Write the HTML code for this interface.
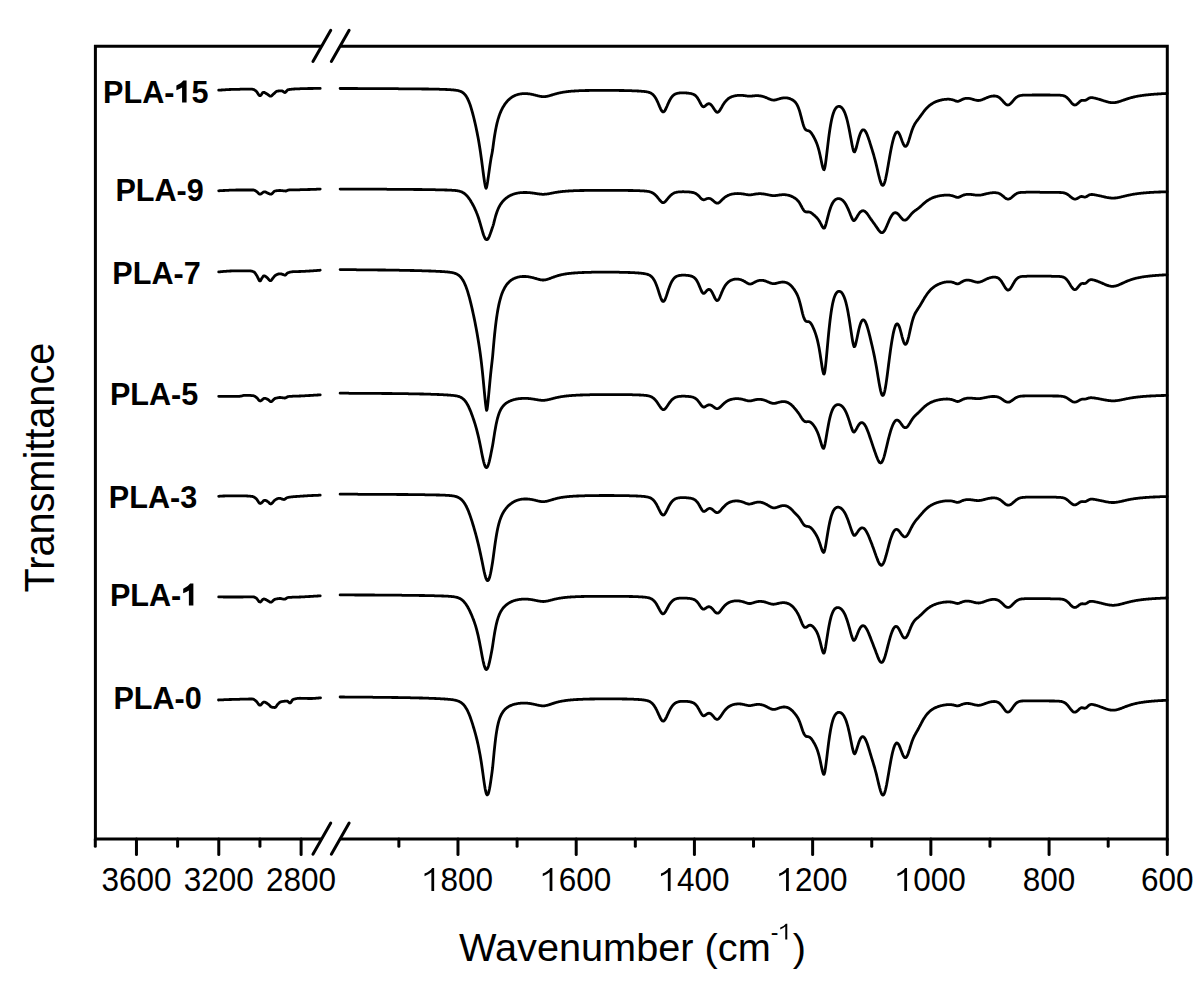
<!DOCTYPE html>
<html><head><meta charset="utf-8"><style>
html,body{margin:0;padding:0;background:#fff;}
svg{display:block;}
text{font-family:"Liberation Sans",sans-serif;fill:#000;}
.tl text{font-size:31.5px;}
.at{font-size:39.7px;}
.sl text{font-size:30.6px;font-weight:bold;}
</style></head><body>
<svg width="1199" height="984" viewBox="0 0 1199 984">
<rect width="1199" height="984" fill="#fff"/>
<path d="M95.4,46.2 L95.4,838.9 M1167.3,46.2 L1167.3,838.9 M93.9,46.2 L321.7,46.2 M340.1,46.2 L1168.8,46.2 M93.9,838.9 L321.7,838.9 M340.1,838.9 L1168.8,838.9" stroke="#000" stroke-width="3.0" fill="none" stroke-linecap="butt"/>
<line x1="312.95" y1="61.40" x2="330.75" y2="30.20" stroke="#000" stroke-width="3" stroke-linecap="round"/>
<line x1="331.35" y1="61.40" x2="349.15" y2="30.20" stroke="#000" stroke-width="3" stroke-linecap="round"/>
<line x1="312.95" y1="854.30" x2="330.75" y2="823.10" stroke="#000" stroke-width="3" stroke-linecap="round"/>
<line x1="331.35" y1="854.30" x2="349.15" y2="823.10" stroke="#000" stroke-width="3" stroke-linecap="round"/>
<line x1="136.46" y1="838.9" x2="136.46" y2="854.4" stroke="#000" stroke-width="3" stroke-linecap="round"/>
<line x1="218.78" y1="838.9" x2="218.78" y2="854.4" stroke="#000" stroke-width="3" stroke-linecap="round"/>
<line x1="301.10" y1="838.9" x2="301.10" y2="854.4" stroke="#000" stroke-width="3" stroke-linecap="round"/>
<line x1="95.30" y1="838.9" x2="95.30" y2="846.1999999999999" stroke="#000" stroke-width="3" stroke-linecap="round"/>
<line x1="177.62" y1="838.9" x2="177.62" y2="846.1999999999999" stroke="#000" stroke-width="3" stroke-linecap="round"/>
<line x1="259.94" y1="838.9" x2="259.94" y2="846.1999999999999" stroke="#000" stroke-width="3" stroke-linecap="round"/>
<line x1="457.98" y1="838.9" x2="457.98" y2="854.4" stroke="#000" stroke-width="3" stroke-linecap="round"/>
<line x1="576.20" y1="838.9" x2="576.20" y2="854.4" stroke="#000" stroke-width="3" stroke-linecap="round"/>
<line x1="694.42" y1="838.9" x2="694.42" y2="854.4" stroke="#000" stroke-width="3" stroke-linecap="round"/>
<line x1="812.64" y1="838.9" x2="812.64" y2="854.4" stroke="#000" stroke-width="3" stroke-linecap="round"/>
<line x1="930.86" y1="838.9" x2="930.86" y2="854.4" stroke="#000" stroke-width="3" stroke-linecap="round"/>
<line x1="1049.08" y1="838.9" x2="1049.08" y2="854.4" stroke="#000" stroke-width="3" stroke-linecap="round"/>
<line x1="1167.30" y1="838.9" x2="1167.30" y2="854.4" stroke="#000" stroke-width="3" stroke-linecap="round"/>
<line x1="398.87" y1="838.9" x2="398.87" y2="846.1999999999999" stroke="#000" stroke-width="3" stroke-linecap="round"/>
<line x1="517.09" y1="838.9" x2="517.09" y2="846.1999999999999" stroke="#000" stroke-width="3" stroke-linecap="round"/>
<line x1="635.31" y1="838.9" x2="635.31" y2="846.1999999999999" stroke="#000" stroke-width="3" stroke-linecap="round"/>
<line x1="753.53" y1="838.9" x2="753.53" y2="846.1999999999999" stroke="#000" stroke-width="3" stroke-linecap="round"/>
<line x1="871.75" y1="838.9" x2="871.75" y2="846.1999999999999" stroke="#000" stroke-width="3" stroke-linecap="round"/>
<line x1="989.97" y1="838.9" x2="989.97" y2="846.1999999999999" stroke="#000" stroke-width="3" stroke-linecap="round"/>
<line x1="1108.19" y1="838.9" x2="1108.19" y2="846.1999999999999" stroke="#000" stroke-width="3" stroke-linecap="round"/>
<g class="tl" transform="translate(101.43,890.9) scale(1,1.06)"><text x="0.00" y="0">3600</text></g>
<g class="tl" transform="translate(183.75,890.9) scale(1,1.06)"><text x="0.00" y="0">3200</text></g>
<g class="tl" transform="translate(266.07,890.9) scale(1,1.06)"><text x="0.00" y="0">2800</text></g>
<g class="tl" transform="translate(422.95,890.9) scale(1,1.06)"><path transform="translate(0.00,0) scale(31.5)" d="M0.356,0 L0.356,-0.688 L0.292,-0.688 Q0.225,-0.585 0.05,-0.52 L0.05,-0.44 Q0.185,-0.49 0.268,-0.56 L0.268,0 Z"/><text x="17.51" y="0">800</text></g>
<g class="tl" transform="translate(541.17,890.9) scale(1,1.06)"><path transform="translate(0.00,0) scale(31.5)" d="M0.356,0 L0.356,-0.688 L0.292,-0.688 Q0.225,-0.585 0.05,-0.52 L0.05,-0.44 Q0.185,-0.49 0.268,-0.56 L0.268,0 Z"/><text x="17.51" y="0">600</text></g>
<g class="tl" transform="translate(659.39,890.9) scale(1,1.06)"><path transform="translate(0.00,0) scale(31.5)" d="M0.356,0 L0.356,-0.688 L0.292,-0.688 Q0.225,-0.585 0.05,-0.52 L0.05,-0.44 Q0.185,-0.49 0.268,-0.56 L0.268,0 Z"/><text x="17.51" y="0">400</text></g>
<g class="tl" transform="translate(777.61,890.9) scale(1,1.06)"><path transform="translate(0.00,0) scale(31.5)" d="M0.356,0 L0.356,-0.688 L0.292,-0.688 Q0.225,-0.585 0.05,-0.52 L0.05,-0.44 Q0.185,-0.49 0.268,-0.56 L0.268,0 Z"/><text x="17.51" y="0">200</text></g>
<g class="tl" transform="translate(895.83,890.9) scale(1,1.06)"><path transform="translate(0.00,0) scale(31.5)" d="M0.356,0 L0.356,-0.688 L0.292,-0.688 Q0.225,-0.585 0.05,-0.52 L0.05,-0.44 Q0.185,-0.49 0.268,-0.56 L0.268,0 Z"/><text x="17.51" y="0">000</text></g>
<g class="tl" transform="translate(1022.81,890.9) scale(1,1.06)"><text x="0.00" y="0">800</text></g>
<g class="tl" transform="translate(1141.03,890.9) scale(1,1.06)"><text x="0.00" y="0">600</text></g>
<text x="459" y="960.5" class="at">Wavenumber (cm<tspan font-size="23" dy="-21">-</tspan></text>
<g class="at" transform="translate(779.1,939.5)"><path transform="translate(0.00,0) scale(23)" d="M0.356,0 L0.356,-0.688 L0.292,-0.688 Q0.225,-0.585 0.05,-0.52 L0.05,-0.44 Q0.185,-0.49 0.268,-0.56 L0.268,0 Z"/></g>
<text x="792.7" y="960.5" class="at">)</text>
<text transform="translate(53.8,592.6) rotate(-90) scale(1,1.05)" x="0" y="0" class="at">Transmittance</text>
<g class="sl" transform="translate(103.1,102.5) scale(1,1.05)"><text x="0.00" y="0">PLA-</text><path transform="translate(71.39,0) scale(30.6)" d="M0.395,0 L0.395,-0.688 L0.29,-0.688 Q0.215,-0.585 0.062,-0.526 L0.062,-0.383 Q0.17,-0.42 0.248,-0.467 L0.248,0 Z"/><text x="88.40" y="0">5</text></g>
<g class="sl" transform="translate(115.4,200.5) scale(1,1.05)"><text x="0.00" y="0">PLA-9</text></g>
<g class="sl" transform="translate(112.3,284.2) scale(1,1.05)"><text x="0.00" y="0">PLA-7</text></g>
<g class="sl" transform="translate(109.9,404.8) scale(1,1.05)"><text x="0.00" y="0">PLA-5</text></g>
<g class="sl" transform="translate(108.8,508.0) scale(1,1.05)"><text x="0.00" y="0">PLA-3</text></g>
<g class="sl" transform="translate(109.9,605.6) scale(1,1.05)"><text x="0.00" y="0">PLA-</text><path transform="translate(71.39,0) scale(30.6)" d="M0.395,0 L0.395,-0.688 L0.29,-0.688 Q0.215,-0.585 0.062,-0.526 L0.062,-0.383 Q0.17,-0.42 0.248,-0.467 L0.248,0 Z"/></g>
<g class="sl" transform="translate(113.4,708.8) scale(1,1.05)"><text x="0.00" y="0">PLA-0</text></g>
<g stroke="#000" stroke-width="2.8" fill="none" stroke-linejoin="round" stroke-linecap="round">
<path d="M340.1,88.5 340.6,88.5 341.1,88.5 341.6,88.5 342.1,88.5 342.6,88.5 343.1,88.5 343.6,88.5 344.1,88.5 344.6,88.5 345.1,88.5 345.6,88.5 346.1,88.5 346.6,88.5 347.1,88.5 347.6,88.5 348.1,88.5 348.6,88.5 349.1,88.5 349.6,88.5 350.1,88.5 350.6,88.5 351.1,88.5 351.6,88.5 352.1,88.5 352.6,88.5 353.1,88.5 353.6,88.5 354.1,88.5 354.6,88.5 355.1,88.5 355.6,88.5 356.1,88.5 356.6,88.5 357.1,88.5 357.6,88.5 358.1,88.6 358.6,88.6 359.1,88.6 359.6,88.6 360.1,88.6 360.6,88.6 361.1,88.6 361.6,88.6 362.1,88.6 362.6,88.6 363.1,88.6 363.6,88.6 364.1,88.6 364.6,88.6 365.1,88.6 365.6,88.6 366.1,88.6 366.6,88.6 367.1,88.6 367.6,88.6 368.1,88.6 368.6,88.6 369.1,88.6 369.6,88.6 370.1,88.6 370.6,88.6 371.1,88.6 371.6,88.6 372.1,88.6 372.6,88.6 373.1,88.6 373.6,88.6 374.1,88.6 374.6,88.6 375.1,88.6 375.6,88.6 376.1,88.6 376.6,88.6 377.1,88.6 377.6,88.6 378.1,88.6 378.6,88.6 379.1,88.6 379.6,88.6 380.1,88.6 380.6,88.6 381.1,88.6 381.6,88.7 382.1,88.7 382.6,88.7 383.1,88.7 383.6,88.7 384.1,88.7 384.6,88.7 385.1,88.7 385.6,88.7 386.1,88.7 386.6,88.7 387.1,88.7 387.6,88.7 388.1,88.7 388.6,88.7 389.1,88.7 389.6,88.7 390.1,88.7 390.6,88.7 391.1,88.7 391.6,88.7 392.1,88.7 392.6,88.7 393.1,88.7 393.6,88.7 394.1,88.7 394.6,88.7 395.1,88.7 395.6,88.7 396.1,88.7 396.6,88.7 397.1,88.7 397.6,88.7 398.1,88.7 398.6,88.8 399.1,88.8 399.6,88.8 400.1,88.8 400.6,88.8 401.1,88.8 401.6,88.8 402.1,88.8 402.6,88.8 403.1,88.8 403.6,88.8 404.1,88.8 404.6,88.8 405.1,88.8 405.6,88.8 406.1,88.8 406.6,88.8 407.1,88.8 407.6,88.8 408.1,88.8 408.6,88.8 409.1,88.8 409.6,88.8 410.1,88.8 410.6,88.8 411.1,88.8 411.6,88.9 412.1,88.9 412.6,88.9 413.1,88.9 413.6,88.9 414.1,88.9 414.6,88.9 415.1,88.9 415.6,88.9 416.1,88.9 416.6,88.9 417.1,88.9 417.6,88.9 418.1,88.9 418.6,88.9 419.1,88.9 419.6,88.9 420.1,88.9 420.6,88.9 421.1,88.9 421.6,89.0 422.1,89.0 422.6,89.0 423.1,89.0 423.6,89.0 424.1,89.0 424.6,89.0 425.1,89.0 425.6,89.0 426.1,89.0 426.6,89.0 427.1,89.0 427.6,89.0 428.1,89.0 428.6,89.0 429.1,89.1 429.6,89.1 430.1,89.1 430.6,89.1 431.1,89.1 431.6,89.1 432.1,89.1 432.6,89.1 433.1,89.1 433.6,89.1 434.1,89.1 434.6,89.1 435.1,89.2 435.6,89.2 436.1,89.2 436.6,89.2 437.1,89.2 437.6,89.2 438.1,89.2 438.6,89.2 439.1,89.2 439.6,89.3 440.1,89.3 440.6,89.3 441.1,89.3 441.6,89.3 442.1,89.3 442.6,89.4 443.1,89.4 443.6,89.4 444.1,89.4 444.6,89.4 445.1,89.4 445.6,89.5 446.1,89.5 446.6,89.5 447.1,89.5 447.6,89.6 448.1,89.6 448.6,89.6 449.1,89.6 449.6,89.7 450.1,89.7 450.6,89.7 451.1,89.8 451.6,89.8 452.1,89.8 452.6,89.9 453.1,89.9 453.6,90.0 454.1,90.0 454.6,90.1 455.1,90.1 455.6,90.2 456.1,90.3 456.6,90.4 457.1,90.4 457.6,90.5 458.1,90.6 458.6,90.8 459.1,90.9 459.6,91.0 460.1,91.2 460.6,91.4 461.1,91.6 461.6,91.9 462.1,92.1 462.6,92.4 463.1,92.8 463.6,93.2 464.1,93.7 464.6,94.2 465.1,94.7 465.6,95.4 466.1,96.1 466.6,96.9 467.1,97.8 467.6,98.7 468.1,99.8 468.6,100.9 469.1,102.1 469.6,103.4 470.1,104.8 470.6,106.3 471.1,107.9 471.6,109.6 472.1,111.3 472.6,113.2 473.1,115.1 473.6,117.0 474.1,119.0 474.6,121.1 475.1,123.3 475.6,125.5 476.1,127.8 476.6,130.2 477.1,132.6 477.6,135.2 478.1,137.8 478.6,140.6 479.1,143.5 479.6,146.6 480.1,149.8 480.6,153.1 481.1,156.7 481.6,160.3 482.1,164.1 482.6,167.9 483.1,171.7 483.6,175.5 484.1,179.0 484.6,182.3 485.1,185.1 485.6,187.3 486.1,188.3 486.6,187.1 487.1,184.7 487.6,181.8 488.1,178.4 488.6,174.9 489.1,171.3 489.6,167.7 490.1,164.3 490.6,161.1 491.1,158.1 491.6,155.4 492.1,152.9 492.6,150.1 493.1,146.2 493.6,142.5 494.1,139.0 494.6,135.7 495.1,132.7 495.6,129.9 496.1,127.4 496.6,125.1 497.1,122.9 497.6,121.0 498.1,119.2 498.6,117.6 499.1,116.0 499.6,114.6 500.1,113.3 500.6,112.1 501.1,110.9 501.6,109.9 502.1,108.9 502.6,107.9 503.1,107.0 503.6,106.2 504.1,105.4 504.6,104.6 505.1,103.9 505.6,103.2 506.1,102.6 506.6,102.0 507.1,101.4 507.6,100.8 508.1,100.3 508.6,99.8 509.1,99.4 509.6,98.9 510.1,98.5 510.6,98.1 511.1,97.7 511.6,97.4 512.1,97.0 512.6,96.7 513.1,96.4 513.6,96.2 514.1,95.9 514.6,95.7 515.1,95.4 515.6,95.2 516.1,95.0 516.6,94.9 517.1,94.7 517.6,94.5 518.1,94.4 518.6,94.3 519.1,94.2 519.6,94.1 520.1,94.0 520.6,93.9 521.1,93.8 521.6,93.8 522.1,93.7 522.6,93.7 523.1,93.6 523.6,93.6 524.1,93.6 524.6,93.6 525.1,93.6 525.6,93.6 526.1,93.6 526.6,93.6 527.1,93.7 527.6,93.7 528.1,93.8 528.6,93.8 529.1,93.9 529.6,93.9 530.1,94.0 530.6,94.1 531.1,94.2 531.6,94.3 532.1,94.4 532.6,94.5 533.1,94.6 533.6,94.7 534.1,94.9 534.6,95.0 535.1,95.1 535.6,95.2 536.1,95.4 536.6,95.5 537.1,95.6 537.6,95.7 538.1,95.9 538.6,96.0 539.1,96.1 539.6,96.2 540.1,96.3 540.6,96.4 541.1,96.5 541.6,96.5 542.1,96.6 542.6,96.6 543.1,96.7 543.6,96.7 544.1,96.7 544.6,96.6 545.1,96.6 545.6,96.5 546.1,96.5 546.6,96.4 547.1,96.3 547.6,96.2 548.1,96.1 548.6,96.0 549.1,95.8 549.6,95.7 550.1,95.5 550.6,95.4 551.1,95.2 551.6,95.1 552.1,94.9 552.6,94.8 553.1,94.6 553.6,94.5 554.1,94.3 554.6,94.2 555.1,94.0 555.6,93.9 556.1,93.8 556.6,93.6 557.1,93.5 557.6,93.4 558.1,93.2 558.6,93.1 559.1,93.0 559.6,92.9 560.1,92.8 560.6,92.7 561.1,92.6 561.6,92.5 562.1,92.4 562.6,92.3 563.1,92.2 563.6,92.1 564.1,92.1 564.6,92.0 565.1,91.9 565.6,91.8 566.1,91.8 566.6,91.7 567.1,91.7 567.6,91.6 568.1,91.5 568.6,91.5 569.1,91.4 569.6,91.4 570.1,91.3 570.6,91.3 571.1,91.2 571.6,91.2 572.1,91.2 572.6,91.1 573.1,91.1 573.6,91.1 574.1,91.0 574.6,91.0 575.1,91.0 575.6,90.9 576.1,90.9 576.6,90.9 577.1,90.8 577.6,90.8 578.1,90.8 578.6,90.8 579.1,90.7 579.6,90.7 580.1,90.7 580.6,90.7 581.1,90.7 581.6,90.6 582.1,90.6 582.6,90.6 583.1,90.6 583.6,90.6 584.1,90.6 584.6,90.6 585.1,90.5 585.6,90.5 586.1,90.5 586.6,90.5 587.1,90.5 587.6,90.5 588.1,90.5 588.6,90.5 589.1,90.5 589.6,90.4 590.1,90.4 590.6,90.4 591.1,90.4 591.6,90.4 592.1,90.4 592.6,90.4 593.1,90.4 593.6,90.4 594.1,90.4 594.6,90.4 595.1,90.4 595.6,90.4 596.1,90.4 596.6,90.4 597.1,90.4 597.6,90.4 598.1,90.4 598.6,90.4 599.1,90.3 599.6,90.3 600.1,90.3 600.6,90.3 601.1,90.3 601.6,90.3 602.1,90.3 602.6,90.3 603.1,90.3 603.6,90.3 604.1,90.3 604.6,90.3 605.1,90.3 605.6,90.3 606.1,90.3 606.6,90.3 607.1,90.3 607.6,90.4 608.1,90.4 608.6,90.4 609.1,90.4 609.6,90.4 610.1,90.4 610.6,90.4 611.1,90.4 611.6,90.4 612.1,90.4 612.6,90.4 613.1,90.4 613.6,90.4 614.1,90.4 614.6,90.4 615.1,90.4 615.6,90.4 616.1,90.4 616.6,90.4 617.1,90.4 617.6,90.4 618.1,90.4 618.6,90.4 619.1,90.5 619.6,90.5 620.1,90.5 620.6,90.5 621.1,90.5 621.6,90.5 622.1,90.5 622.6,90.5 623.1,90.5 623.6,90.5 624.1,90.5 624.6,90.6 625.1,90.6 625.6,90.6 626.1,90.6 626.6,90.6 627.1,90.6 627.6,90.6 628.1,90.6 628.6,90.6 629.1,90.7 629.6,90.7 630.1,90.7 630.6,90.7 631.1,90.7 631.6,90.7 632.1,90.8 632.6,90.8 633.1,90.8 633.6,90.8 634.1,90.8 634.6,90.8 635.1,90.9 635.6,90.9 636.1,90.9 636.6,90.9 637.1,91.0 637.6,91.0 638.1,91.0 638.6,91.0 639.1,91.1 639.6,91.1 640.1,91.1 640.6,91.2 641.1,91.2 641.6,91.3 642.1,91.3 642.6,91.3 643.1,91.4 643.6,91.4 644.1,91.5 644.6,91.5 645.1,91.6 645.6,91.7 646.1,91.7 646.6,91.8 647.1,91.9 647.6,92.0 648.1,92.1 648.6,92.3 649.1,92.4 649.6,92.6 650.1,92.8 650.6,93.0 651.1,93.3 651.6,93.6 652.1,93.9 652.6,94.3 653.1,94.8 653.6,95.3 654.1,95.9 654.6,96.5 655.1,97.2 655.6,98.0 656.1,98.9 656.6,99.8 657.1,100.8 657.6,101.9 658.1,103.0 658.6,104.2 659.1,105.4 659.6,106.6 660.1,107.7 660.6,108.8 661.1,109.8 661.6,110.7 662.1,111.3 662.6,111.8 663.1,111.9 663.6,111.9 664.1,111.5 664.6,111.0 665.1,110.2 665.6,109.3 666.1,108.2 666.6,107.1 667.1,106.0 667.6,104.8 668.1,103.7 668.6,102.6 669.1,101.5 669.6,100.5 670.1,99.6 670.6,98.7 671.1,97.9 671.6,97.2 672.1,96.6 672.6,96.0 673.1,95.5 673.6,95.1 674.1,94.7 674.6,94.4 675.1,94.1 675.6,93.9 676.1,93.7 676.6,93.5 677.1,93.4 677.6,93.3 678.1,93.2 678.6,93.1 679.1,93.0 679.6,93.0 680.1,92.9 680.6,92.9 681.1,92.9 681.6,92.9 682.1,92.9 682.6,92.9 683.1,92.9 683.6,92.9 684.1,92.9 684.6,92.9 685.1,92.9 685.6,92.9 686.1,93.0 686.6,93.0 687.1,93.0 687.6,93.1 688.1,93.1 688.6,93.2 689.1,93.3 689.6,93.3 690.1,93.4 690.6,93.5 691.1,93.6 691.6,93.7 692.1,93.9 692.6,94.0 693.1,94.2 693.6,94.4 694.1,94.7 694.6,95.0 695.1,95.3 695.6,95.7 696.1,96.2 696.6,96.8 697.1,97.4 697.6,98.1 698.1,98.9 698.6,99.7 699.1,100.6 699.6,101.6 700.1,102.5 700.6,103.5 701.1,104.4 701.6,105.2 702.1,105.9 702.6,106.4 703.1,106.7 703.6,106.8 704.1,106.7 704.6,106.4 705.1,106.1 705.6,105.6 706.1,105.2 706.6,104.7 707.1,104.3 707.6,104.0 708.1,103.8 708.6,103.7 709.1,103.7 709.6,103.8 710.1,104.0 710.6,104.4 711.1,104.8 711.6,105.4 712.1,106.0 712.6,106.7 713.1,107.4 713.6,108.2 714.1,109.0 714.6,109.8 715.1,110.5 715.6,111.1 716.1,111.7 716.6,112.1 717.1,112.3 717.6,112.3 718.1,112.1 718.6,111.8 719.1,111.3 719.6,110.7 720.1,109.9 720.6,109.1 721.1,108.2 721.6,107.4 722.1,106.5 722.6,105.6 723.1,104.8 723.6,104.0 724.1,103.2 724.6,102.5 725.1,101.9 725.6,101.3 726.1,100.7 726.6,100.2 727.1,99.7 727.6,99.3 728.1,98.8 728.6,98.5 729.1,98.1 729.6,97.8 730.1,97.5 730.6,97.3 731.1,97.1 731.6,96.8 732.1,96.6 732.6,96.5 733.1,96.3 733.6,96.2 734.1,96.0 734.6,95.9 735.1,95.8 735.6,95.7 736.1,95.6 736.6,95.6 737.1,95.5 737.6,95.4 738.1,95.4 738.6,95.4 739.1,95.4 739.6,95.3 740.1,95.3 740.6,95.3 741.1,95.4 741.6,95.4 742.1,95.4 742.6,95.4 743.1,95.5 743.6,95.5 744.1,95.6 744.6,95.7 745.1,95.7 745.6,95.8 746.1,95.9 746.6,95.9 747.1,96.0 747.6,96.1 748.1,96.1 748.6,96.1 749.1,96.2 749.6,96.2 750.1,96.2 750.6,96.1 751.1,96.1 751.6,96.1 752.1,96.0 752.6,96.0 753.1,95.9 753.6,95.9 754.1,95.8 754.6,95.8 755.1,95.7 755.6,95.7 756.1,95.7 756.6,95.7 757.1,95.7 757.6,95.7 758.1,95.7 758.6,95.7 759.1,95.8 759.6,95.8 760.1,95.9 760.6,96.0 761.1,96.0 761.6,96.1 762.1,96.3 762.6,96.4 763.1,96.5 763.6,96.7 764.1,96.8 764.6,97.0 765.1,97.2 765.6,97.4 766.1,97.6 766.6,97.8 767.1,98.0 767.6,98.2 768.1,98.5 768.6,98.7 769.1,98.9 769.6,99.1 770.1,99.3 770.6,99.5 771.1,99.7 771.6,99.8 772.1,99.9 772.6,100.0 773.1,100.1 773.6,100.1 774.1,100.1 774.6,100.0 775.1,100.0 775.6,99.9 776.1,99.8 776.6,99.6 777.1,99.5 777.6,99.3 778.1,99.2 778.6,99.0 779.1,98.9 779.6,98.7 780.1,98.6 780.6,98.4 781.1,98.3 781.6,98.2 782.1,98.1 782.6,98.0 783.1,98.0 783.6,97.9 784.1,97.9 784.6,97.8 785.1,97.8 785.6,97.8 786.1,97.9 786.6,97.9 787.1,98.0 787.6,98.0 788.1,98.1 788.6,98.3 789.1,98.4 789.6,98.6 790.1,98.7 790.6,99.0 791.1,99.2 791.6,99.4 792.1,99.7 792.6,100.0 793.1,100.3 793.6,100.7 794.1,101.1 794.6,101.6 795.1,102.1 795.6,102.6 796.1,103.3 796.6,104.0 797.1,104.8 797.6,105.8 798.1,106.9 798.6,108.2 799.1,109.6 799.6,111.2 800.1,112.9 800.6,114.8 801.1,116.7 801.6,118.7 802.1,120.6 802.6,122.4 803.1,124.2 803.6,125.7 804.1,127.0 804.6,128.1 805.1,129.0 805.6,129.6 806.1,130.0 806.6,130.3 807.1,130.5 807.6,130.6 808.1,130.7 808.6,130.8 809.1,131.0 809.6,131.3 810.1,131.7 810.6,132.2 811.1,132.7 811.6,133.4 812.1,134.2 812.6,135.0 813.1,135.8 813.6,136.7 814.1,137.6 814.6,138.6 815.1,139.6 815.6,140.7 816.1,141.8 816.6,143.0 817.1,144.4 817.6,145.8 818.1,147.4 818.6,149.1 819.1,151.0 819.6,153.1 820.1,155.3 820.6,157.6 821.1,160.0 821.6,162.4 822.1,164.7 822.6,166.8 823.1,168.4 823.6,169.5 824.1,169.7 824.6,168.5 825.1,166.2 825.6,163.0 826.1,159.3 826.6,155.2 827.1,151.0 827.6,146.8 828.1,142.6 828.6,138.6 829.1,134.8 829.6,131.3 830.1,128.0 830.6,125.0 831.1,122.3 831.6,119.8 832.1,117.6 832.6,115.7 833.1,114.0 833.6,112.5 834.1,111.2 834.6,110.1 835.1,109.2 835.6,108.4 836.1,107.8 836.6,107.3 837.1,106.9 837.6,106.6 838.1,106.5 838.6,106.4 839.1,106.4 839.6,106.4 840.1,106.6 840.6,106.8 841.1,107.2 841.6,107.6 842.1,108.1 842.6,108.7 843.1,109.4 843.6,110.3 844.1,111.2 844.6,112.3 845.1,113.6 845.6,114.9 846.1,116.5 846.6,118.2 847.1,120.0 847.6,122.0 848.1,124.2 848.6,126.5 849.1,128.9 849.6,131.5 850.1,134.2 850.6,136.9 851.1,139.6 851.6,142.3 852.1,144.9 852.6,147.3 853.1,149.4 853.6,151.0 854.1,151.9 854.6,151.9 855.1,151.1 855.6,149.8 856.1,148.3 856.6,146.4 857.1,144.5 857.6,142.5 858.1,140.6 858.6,138.7 859.1,137.0 859.6,135.4 860.1,134.0 860.6,132.8 861.1,131.8 861.6,131.0 862.1,130.3 862.6,129.9 863.1,129.8 863.6,129.8 864.1,130.0 864.6,130.3 865.1,130.9 865.6,131.6 866.1,132.5 866.6,133.5 867.1,134.6 867.6,135.9 868.1,137.2 868.6,138.7 869.1,140.1 869.6,141.7 870.1,143.3 870.6,144.9 871.1,146.5 871.6,148.1 872.1,149.7 872.6,151.3 873.1,153.0 873.6,154.7 874.1,156.5 874.6,158.3 875.1,160.1 875.6,162.1 876.1,164.1 876.6,166.1 877.1,168.2 877.6,170.4 878.1,172.6 878.6,174.7 879.1,176.7 879.6,178.7 880.1,180.5 880.6,182.1 881.1,183.4 881.6,184.5 882.1,185.1 882.6,185.4 883.1,185.3 883.6,184.8 884.1,183.9 884.6,182.5 885.1,180.8 885.6,178.8 886.1,176.5 886.6,174.0 887.1,171.4 887.6,168.5 888.1,165.7 888.6,162.8 889.1,159.9 889.6,157.0 890.1,154.2 890.6,151.5 891.1,149.0 891.6,146.5 892.1,144.2 892.6,142.1 893.1,140.1 893.6,138.3 894.1,136.8 894.6,135.4 895.1,134.2 895.6,133.3 896.1,132.6 896.6,132.2 897.1,132.0 897.6,132.0 898.1,132.3 898.6,132.8 899.1,133.6 899.6,134.5 900.1,135.6 900.6,136.9 901.1,138.2 901.6,139.6 902.1,141.0 902.6,142.3 903.1,143.5 903.6,144.5 904.1,145.4 904.6,146.0 905.1,146.3 905.6,146.4 906.1,146.2 906.6,145.6 907.1,144.9 907.6,143.8 908.1,142.6 908.6,141.2 909.1,139.6 909.6,138.0 910.1,136.3 910.6,134.7 911.1,133.1 911.6,131.5 912.1,130.0 912.6,128.7 913.1,127.4 913.6,126.3 914.1,125.3 914.6,124.3 915.1,123.5 915.6,122.7 916.1,122.0 916.6,121.3 917.1,120.6 917.6,120.0 918.1,119.3 918.6,118.7 919.1,118.0 919.6,117.3 920.1,116.6 920.6,115.9 921.1,115.2 921.6,114.5 922.1,113.9 922.6,113.2 923.1,112.5 923.6,111.8 924.1,111.2 924.6,110.5 925.1,109.9 925.6,109.3 926.1,108.8 926.6,108.2 927.1,107.7 927.6,107.2 928.1,106.7 928.6,106.3 929.1,105.8 929.6,105.4 930.1,105.0 930.6,104.7 931.1,104.3 931.6,104.0 932.1,103.7 932.6,103.4 933.1,103.1 933.6,102.8 934.1,102.5 934.6,102.3 935.1,102.1 935.6,101.8 936.1,101.6 936.6,101.4 937.1,101.2 937.6,101.1 938.1,100.9 938.6,100.7 939.1,100.6 939.6,100.4 940.1,100.3 940.6,100.2 941.1,100.1 941.6,99.9 942.1,99.8 942.6,99.7 943.1,99.7 943.6,99.6 944.1,99.5 944.6,99.4 945.1,99.4 945.6,99.3 946.1,99.3 946.6,99.3 947.1,99.2 947.6,99.2 948.1,99.2 948.6,99.2 949.1,99.2 949.6,99.3 950.1,99.3 950.6,99.4 951.1,99.5 951.6,99.6 952.1,99.7 952.6,99.8 953.1,100.0 953.6,100.1 954.1,100.3 954.6,100.5 955.1,100.7 955.6,100.9 956.1,101.1 956.6,101.2 957.1,101.3 957.6,101.3 958.1,101.3 958.6,101.2 959.1,101.0 959.6,100.8 960.1,100.6 960.6,100.3 961.1,100.1 961.6,99.8 962.1,99.6 962.6,99.3 963.1,99.1 963.6,98.9 964.1,98.8 964.6,98.6 965.1,98.5 965.6,98.4 966.1,98.3 966.6,98.3 967.1,98.3 967.6,98.3 968.1,98.3 968.6,98.4 969.1,98.4 969.6,98.5 970.1,98.6 970.6,98.7 971.1,98.8 971.6,99.0 972.1,99.1 972.6,99.3 973.1,99.4 973.6,99.6 974.1,99.7 974.6,99.9 975.1,100.0 975.6,100.1 976.1,100.2 976.6,100.3 977.1,100.4 977.6,100.5 978.1,100.5 978.6,100.5 979.1,100.4 979.6,100.4 980.1,100.3 980.6,100.2 981.1,100.0 981.6,99.9 982.1,99.7 982.6,99.5 983.1,99.3 983.6,99.1 984.1,98.9 984.6,98.7 985.1,98.4 985.6,98.2 986.1,98.0 986.6,97.8 987.1,97.6 987.6,97.4 988.1,97.2 988.6,97.0 989.1,96.8 989.6,96.7 990.1,96.5 990.6,96.4 991.1,96.3 991.6,96.2 992.1,96.1 992.6,96.1 993.1,96.0 993.6,96.0 994.1,96.0 994.6,96.0 995.1,96.0 995.6,96.1 996.1,96.2 996.6,96.3 997.1,96.4 997.6,96.6 998.1,96.9 998.6,97.1 999.1,97.4 999.6,97.8 1000.1,98.2 1000.6,98.7 1001.1,99.2 1001.6,99.7 1002.1,100.3 1002.6,100.8 1003.1,101.4 1003.6,102.0 1004.1,102.6 1004.6,103.1 1005.1,103.6 1005.6,104.0 1006.1,104.4 1006.6,104.7 1007.1,104.9 1007.6,105.0 1008.1,105.0 1008.6,104.9 1009.1,104.7 1009.6,104.4 1010.1,104.0 1010.6,103.6 1011.1,103.1 1011.6,102.5 1012.1,102.0 1012.6,101.4 1013.1,100.8 1013.6,100.2 1014.1,99.6 1014.6,99.0 1015.1,98.5 1015.6,98.0 1016.1,97.6 1016.6,97.2 1017.1,96.9 1017.6,96.6 1018.1,96.3 1018.6,96.1 1019.1,95.9 1019.6,95.7 1020.1,95.6 1020.6,95.5 1021.1,95.4 1021.6,95.3 1022.1,95.3 1022.6,95.2 1023.1,95.2 1023.6,95.2 1024.1,95.1 1024.6,95.1 1025.1,95.1 1025.6,95.1 1026.1,95.1 1026.6,95.1 1027.1,95.1 1027.6,95.1 1028.1,95.1 1028.6,95.1 1029.1,95.1 1029.6,95.1 1030.1,95.1 1030.6,95.1 1031.1,95.1 1031.6,95.1 1032.1,95.0 1032.6,95.0 1033.1,95.0 1033.6,95.0 1034.1,95.0 1034.6,95.0 1035.1,95.0 1035.6,95.0 1036.1,95.0 1036.6,95.0 1037.1,95.0 1037.6,95.0 1038.1,95.0 1038.6,95.0 1039.1,95.0 1039.6,95.0 1040.1,95.0 1040.6,95.0 1041.1,95.0 1041.6,95.0 1042.1,95.0 1042.6,95.0 1043.1,95.0 1043.6,95.0 1044.1,95.0 1044.6,95.0 1045.1,95.0 1045.6,95.0 1046.1,95.0 1046.6,95.0 1047.1,95.0 1047.6,95.0 1048.1,95.0 1048.6,95.0 1049.1,95.0 1049.6,95.0 1050.1,95.0 1050.6,95.1 1051.1,95.1 1051.6,95.1 1052.1,95.1 1052.6,95.1 1053.1,95.1 1053.6,95.1 1054.1,95.1 1054.6,95.1 1055.1,95.1 1055.6,95.1 1056.1,95.1 1056.6,95.1 1057.1,95.1 1057.6,95.1 1058.1,95.1 1058.6,95.2 1059.1,95.2 1059.6,95.2 1060.1,95.2 1060.6,95.3 1061.1,95.3 1061.6,95.4 1062.1,95.4 1062.6,95.5 1063.1,95.6 1063.6,95.8 1064.1,95.9 1064.6,96.1 1065.1,96.3 1065.6,96.6 1066.1,96.9 1066.6,97.3 1067.1,97.7 1067.6,98.2 1068.1,98.7 1068.6,99.2 1069.1,99.8 1069.6,100.4 1070.1,101.0 1070.6,101.7 1071.1,102.3 1071.6,102.9 1072.1,103.4 1072.6,103.9 1073.1,104.3 1073.6,104.7 1074.1,104.9 1074.6,105.0 1075.1,105.0 1075.6,104.9 1076.1,104.7 1076.6,104.4 1077.1,104.1 1077.6,103.6 1078.1,103.2 1078.6,102.7 1079.1,102.2 1079.6,101.7 1080.1,101.3 1080.6,100.9 1081.1,100.6 1081.6,100.4 1082.1,100.3 1082.6,100.3 1083.1,100.3 1083.6,100.4 1084.1,100.4 1084.6,100.4 1085.1,100.3 1085.6,100.2 1086.1,100.0 1086.6,99.7 1087.1,99.4 1087.6,99.0 1088.1,98.7 1088.6,98.4 1089.1,98.1 1089.6,97.9 1090.1,97.8 1090.6,97.7 1091.1,97.6 1091.6,97.6 1092.1,97.7 1092.6,97.7 1093.1,97.8 1093.6,97.9 1094.1,98.0 1094.6,98.1 1095.1,98.2 1095.6,98.3 1096.1,98.5 1096.6,98.6 1097.1,98.7 1097.6,98.9 1098.1,99.0 1098.6,99.1 1099.1,99.3 1099.6,99.4 1100.1,99.6 1100.6,99.7 1101.1,99.9 1101.6,100.1 1102.1,100.2 1102.6,100.4 1103.1,100.5 1103.6,100.7 1104.1,100.9 1104.6,101.0 1105.1,101.2 1105.6,101.3 1106.1,101.5 1106.6,101.6 1107.1,101.8 1107.6,101.9 1108.1,102.0 1108.6,102.2 1109.1,102.3 1109.6,102.4 1110.1,102.5 1110.6,102.5 1111.1,102.6 1111.6,102.6 1112.1,102.7 1112.6,102.7 1113.1,102.7 1113.6,102.7 1114.1,102.6 1114.6,102.6 1115.1,102.5 1115.6,102.5 1116.1,102.4 1116.6,102.3 1117.1,102.2 1117.6,102.1 1118.1,101.9 1118.6,101.8 1119.1,101.6 1119.6,101.5 1120.1,101.3 1120.6,101.2 1121.1,101.0 1121.6,100.8 1122.1,100.6 1122.6,100.5 1123.1,100.3 1123.6,100.1 1124.1,99.9 1124.6,99.8 1125.1,99.6 1125.6,99.4 1126.1,99.2 1126.6,99.1 1127.1,98.9 1127.6,98.7 1128.1,98.6 1128.6,98.4 1129.1,98.3 1129.6,98.1 1130.1,98.0 1130.6,97.8 1131.1,97.7 1131.6,97.6 1132.1,97.4 1132.6,97.3 1133.1,97.2 1133.6,97.1 1134.1,96.9 1134.6,96.8 1135.1,96.7 1135.6,96.6 1136.1,96.5 1136.6,96.4 1137.1,96.3 1137.6,96.2 1138.1,96.1 1138.6,96.0 1139.1,95.9 1139.6,95.9 1140.1,95.8 1140.6,95.7 1141.1,95.6 1141.6,95.6 1142.1,95.5 1142.6,95.4 1143.1,95.3 1143.6,95.3 1144.1,95.2 1144.6,95.2 1145.1,95.1 1145.6,95.0 1146.1,95.0 1146.6,94.9 1147.1,94.9 1147.6,94.8 1148.1,94.8 1148.6,94.7 1149.1,94.7 1149.6,94.6 1150.1,94.6 1150.6,94.5 1151.1,94.5 1151.6,94.4 1152.1,94.4 1152.6,94.4 1153.1,94.3 1153.6,94.3 1154.1,94.2 1154.6,94.2 1155.1,94.2 1155.6,94.1 1156.1,94.1 1156.6,94.1 1157.1,94.0 1157.6,94.0 1158.1,94.0 1158.6,93.9 1159.1,93.9 1159.6,93.9 1160.1,93.8 1160.6,93.8 1161.1,93.8 1161.6,93.7 1162.1,93.7 1162.6,93.7 1163.1,93.7 1163.6,93.6 1164.1,93.6 1164.6,93.6 1165.1,93.6 1165.6,93.5 1166.1,93.5 1166.6,93.5 1167.1,93.5"/>
<path d="M218.7,90.2 219.2,90.2 219.7,90.1 220.2,90.1 220.7,90.1 221.2,90.0 221.7,90.0 222.2,90.0 222.7,89.9 223.2,89.9 223.7,89.9 224.2,89.8 224.7,89.8 225.2,89.8 225.7,89.7 226.2,89.7 226.7,89.7 227.2,89.6 227.7,89.6 228.2,89.6 228.7,89.6 229.2,89.5 229.7,89.5 230.2,89.5 230.7,89.5 231.2,89.4 231.7,89.4 232.2,89.4 232.7,89.4 233.2,89.4 233.7,89.4 234.2,89.3 234.7,89.3 235.2,89.3 235.7,89.3 236.2,89.3 236.7,89.3 237.2,89.3 237.7,89.3 238.2,89.3 238.7,89.3 239.2,89.3 239.7,89.3 240.2,89.2 240.7,89.2 241.2,89.2 241.7,89.2 242.2,89.2 242.7,89.2 243.2,89.2 243.7,89.2 244.2,89.2 244.7,89.2 245.2,89.2 245.7,89.2 246.2,89.2 246.7,89.2 247.2,89.2 247.7,89.2 248.2,89.2 248.7,89.2 249.2,89.2 249.7,89.2 250.2,89.2 250.7,89.2 251.2,89.2 251.7,89.2 252.2,89.2 252.7,89.3 253.2,89.4 253.7,89.5 254.2,89.8 254.7,90.1 255.2,90.4 255.7,90.8 256.2,91.2 256.7,91.7 257.2,92.4 257.7,93.2 258.2,94.0 258.7,94.8 259.2,95.3 259.7,95.7 260.2,95.7 260.7,95.4 261.2,94.8 261.7,94.1 262.2,93.3 262.7,92.7 263.2,92.3 263.7,92.3 264.2,92.4 264.7,92.6 265.2,92.9 265.7,93.2 266.2,93.5 266.7,93.8 267.2,94.1 267.7,94.5 268.2,94.8 268.7,95.2 269.2,95.6 269.7,95.9 270.2,96.2 270.7,96.2 271.2,96.1 271.7,95.8 272.2,95.3 272.7,94.8 273.2,94.3 273.7,93.8 274.2,93.4 274.7,92.9 275.2,92.4 275.7,92.0 276.2,91.6 276.7,91.3 277.2,91.2 277.7,91.1 278.2,91.0 278.7,91.0 279.2,90.9 279.7,90.8 280.2,90.8 280.7,90.8 281.2,90.8 281.7,90.8 282.2,90.9 282.7,91.2 283.2,91.6 283.7,92.0 284.2,92.3 284.7,92.5 285.2,92.5 285.7,92.1 286.2,91.6 286.7,90.9 287.2,90.3 287.7,89.9 288.2,89.7 288.7,89.6 289.2,89.5 289.7,89.5 290.2,89.4 290.7,89.3 291.2,89.3 291.7,89.2 292.2,89.2 292.7,89.1 293.2,89.1 293.7,89.0 294.2,89.0 294.7,89.0 295.2,88.9 295.7,88.9 296.2,88.9 296.7,88.9 297.2,88.8 297.7,88.8 298.2,88.8 298.7,88.8 299.2,88.8 299.7,88.8 300.2,88.7 300.7,88.7 301.2,88.7 301.7,88.7 302.2,88.7 302.7,88.7 303.2,88.7 303.7,88.6 304.2,88.6 304.7,88.6 305.2,88.6 305.7,88.6 306.2,88.6 306.7,88.6 307.2,88.6 307.7,88.5 308.2,88.5 308.7,88.5 309.2,88.5 309.7,88.5 310.2,88.5 310.7,88.5 311.2,88.5 311.7,88.5 312.2,88.5 312.7,88.5 313.2,88.5 313.7,88.4 314.2,88.4 314.7,88.4 315.2,88.4 315.7,88.4 316.2,88.4 316.7,88.4 317.2,88.4 317.7,88.4 318.2,88.4 318.7,88.4 319.2,88.4 319.7,88.4 320.2,88.4"/>
<path d="M340.1,189.1 340.6,189.1 341.1,189.1 341.6,189.1 342.1,189.1 342.6,189.1 343.1,189.1 343.6,189.1 344.1,189.1 344.6,189.1 345.1,189.1 345.6,189.1 346.1,189.1 346.6,189.1 347.1,189.1 347.6,189.1 348.1,189.1 348.6,189.1 349.1,189.1 349.6,189.1 350.1,189.1 350.6,189.1 351.1,189.1 351.6,189.1 352.1,189.1 352.6,189.1 353.1,189.1 353.6,189.1 354.1,189.1 354.6,189.1 355.1,189.1 355.6,189.1 356.1,189.1 356.6,189.1 357.1,189.1 357.6,189.1 358.1,189.1 358.6,189.1 359.1,189.1 359.6,189.1 360.1,189.1 360.6,189.1 361.1,189.1 361.6,189.1 362.1,189.1 362.6,189.1 363.1,189.1 363.6,189.1 364.1,189.1 364.6,189.1 365.1,189.1 365.6,189.1 366.1,189.1 366.6,189.2 367.1,189.2 367.6,189.2 368.1,189.2 368.6,189.2 369.1,189.2 369.6,189.2 370.1,189.2 370.6,189.2 371.1,189.2 371.6,189.2 372.1,189.2 372.6,189.2 373.1,189.2 373.6,189.2 374.1,189.2 374.6,189.2 375.1,189.2 375.6,189.2 376.1,189.2 376.6,189.2 377.1,189.2 377.6,189.2 378.1,189.2 378.6,189.2 379.1,189.2 379.6,189.2 380.1,189.2 380.6,189.2 381.1,189.2 381.6,189.2 382.1,189.2 382.6,189.2 383.1,189.2 383.6,189.2 384.1,189.2 384.6,189.2 385.1,189.2 385.6,189.2 386.1,189.2 386.6,189.2 387.1,189.3 387.6,189.3 388.1,189.3 388.6,189.3 389.1,189.3 389.6,189.3 390.1,189.3 390.6,189.3 391.1,189.3 391.6,189.3 392.1,189.3 392.6,189.3 393.1,189.3 393.6,189.3 394.1,189.3 394.6,189.3 395.1,189.3 395.6,189.3 396.1,189.3 396.6,189.3 397.1,189.3 397.6,189.3 398.1,189.3 398.6,189.3 399.1,189.3 399.6,189.3 400.1,189.3 400.6,189.3 401.1,189.3 401.6,189.3 402.1,189.4 402.6,189.4 403.1,189.4 403.6,189.4 404.1,189.4 404.6,189.4 405.1,189.4 405.6,189.4 406.1,189.4 406.6,189.4 407.1,189.4 407.6,189.4 408.1,189.4 408.6,189.4 409.1,189.4 409.6,189.4 410.1,189.4 410.6,189.4 411.1,189.4 411.6,189.4 412.1,189.4 412.6,189.4 413.1,189.4 413.6,189.5 414.1,189.5 414.6,189.5 415.1,189.5 415.6,189.5 416.1,189.5 416.6,189.5 417.1,189.5 417.6,189.5 418.1,189.5 418.6,189.5 419.1,189.5 419.6,189.5 420.1,189.5 420.6,189.5 421.1,189.5 421.6,189.5 422.1,189.5 422.6,189.6 423.1,189.6 423.6,189.6 424.1,189.6 424.6,189.6 425.1,189.6 425.6,189.6 426.1,189.6 426.6,189.6 427.1,189.6 427.6,189.6 428.1,189.6 428.6,189.6 429.1,189.6 429.6,189.7 430.1,189.7 430.6,189.7 431.1,189.7 431.6,189.7 432.1,189.7 432.6,189.7 433.1,189.7 433.6,189.7 434.1,189.7 434.6,189.7 435.1,189.7 435.6,189.8 436.1,189.8 436.6,189.8 437.1,189.8 437.6,189.8 438.1,189.8 438.6,189.8 439.1,189.8 439.6,189.8 440.1,189.8 440.6,189.9 441.1,189.9 441.6,189.9 442.1,189.9 442.6,189.9 443.1,189.9 443.6,189.9 444.1,189.9 444.6,190.0 445.1,190.0 445.6,190.0 446.1,190.0 446.6,190.0 447.1,190.0 447.6,190.1 448.1,190.1 448.6,190.1 449.1,190.1 449.6,190.1 450.1,190.2 450.6,190.2 451.1,190.2 451.6,190.2 452.1,190.3 452.6,190.3 453.1,190.3 453.6,190.3 454.1,190.4 454.6,190.4 455.1,190.5 455.6,190.5 456.1,190.6 456.6,190.6 457.1,190.7 457.6,190.8 458.1,190.9 458.6,191.0 459.1,191.1 459.6,191.2 460.1,191.4 460.6,191.5 461.1,191.7 461.6,191.9 462.1,192.1 462.6,192.4 463.1,192.7 463.6,193.0 464.1,193.3 464.6,193.7 465.1,194.1 465.6,194.5 466.1,195.0 466.6,195.5 467.1,196.0 467.6,196.6 468.1,197.2 468.6,197.9 469.1,198.6 469.6,199.3 470.1,200.0 470.6,200.8 471.1,201.7 471.6,202.5 472.1,203.4 472.6,204.3 473.1,205.2 473.6,206.2 474.1,207.2 474.6,208.2 475.1,209.3 475.6,210.4 476.1,211.5 476.6,212.8 477.1,214.0 477.6,215.4 478.1,216.8 478.6,218.3 479.1,219.8 479.6,221.5 480.1,223.1 480.6,224.9 481.1,226.6 481.6,228.4 482.1,230.2 482.6,231.9 483.1,233.5 483.6,235.0 484.1,236.3 484.6,237.5 485.1,238.4 485.6,239.1 486.1,239.5 486.6,239.7 487.1,239.6 487.6,239.3 488.1,238.7 488.6,237.8 489.1,236.8 489.6,235.6 490.1,234.3 490.6,232.9 491.1,231.5 491.6,230.0 492.1,228.5 492.6,227.1 493.1,225.6 493.6,223.8 494.1,221.8 494.6,219.8 495.1,218.0 495.6,216.2 496.1,214.5 496.6,213.0 497.1,211.5 497.6,210.2 498.1,209.0 498.6,207.9 499.1,206.9 499.6,206.0 500.1,205.1 500.6,204.3 501.1,203.6 501.6,202.9 502.1,202.2 502.6,201.6 503.1,201.0 503.6,200.5 504.1,200.0 504.6,199.5 505.1,199.0 505.6,198.6 506.1,198.2 506.6,197.8 507.1,197.4 507.6,197.1 508.1,196.7 508.6,196.4 509.1,196.1 509.6,195.9 510.1,195.6 510.6,195.3 511.1,195.1 511.6,194.9 512.1,194.7 512.6,194.5 513.1,194.3 513.6,194.1 514.1,194.0 514.6,193.8 515.1,193.7 515.6,193.5 516.1,193.4 516.6,193.3 517.1,193.2 517.6,193.1 518.1,193.0 518.6,192.9 519.1,192.9 519.6,192.8 520.1,192.7 520.6,192.7 521.1,192.7 521.6,192.6 522.1,192.6 522.6,192.6 523.1,192.5 523.6,192.5 524.1,192.5 524.6,192.5 525.1,192.5 525.6,192.5 526.1,192.5 526.6,192.5 527.1,192.5 527.6,192.6 528.1,192.6 528.6,192.6 529.1,192.7 529.6,192.7 530.1,192.7 530.6,192.8 531.1,192.8 531.6,192.9 532.1,193.0 532.6,193.0 533.1,193.1 533.6,193.2 534.1,193.2 534.6,193.3 535.1,193.4 535.6,193.5 536.1,193.5 536.6,193.6 537.1,193.7 537.6,193.8 538.1,193.8 538.6,193.9 539.1,194.0 539.6,194.0 540.1,194.1 540.6,194.2 541.1,194.2 541.6,194.2 542.1,194.3 542.6,194.3 543.1,194.3 543.6,194.3 544.1,194.3 544.6,194.2 545.1,194.2 545.6,194.2 546.1,194.1 546.6,194.1 547.1,194.0 547.6,193.9 548.1,193.8 548.6,193.8 549.1,193.7 549.6,193.6 550.1,193.5 550.6,193.4 551.1,193.3 551.6,193.2 552.1,193.1 552.6,193.0 553.1,192.9 553.6,192.8 554.1,192.7 554.6,192.6 555.1,192.5 555.6,192.4 556.1,192.4 556.6,192.3 557.1,192.2 557.6,192.1 558.1,192.0 558.6,192.0 559.1,191.9 559.6,191.8 560.1,191.8 560.6,191.7 561.1,191.6 561.6,191.6 562.1,191.5 562.6,191.5 563.1,191.4 563.6,191.4 564.1,191.3 564.6,191.3 565.1,191.3 565.6,191.2 566.1,191.2 566.6,191.1 567.1,191.1 567.6,191.1 568.1,191.0 568.6,191.0 569.1,191.0 569.6,190.9 570.1,190.9 570.6,190.9 571.1,190.9 571.6,190.8 572.1,190.8 572.6,190.8 573.1,190.8 573.6,190.7 574.1,190.7 574.6,190.7 575.1,190.7 575.6,190.7 576.1,190.7 576.6,190.6 577.1,190.6 577.6,190.6 578.1,190.6 578.6,190.6 579.1,190.6 579.6,190.5 580.1,190.5 580.6,190.5 581.1,190.5 581.6,190.5 582.1,190.5 582.6,190.5 583.1,190.5 583.6,190.5 584.1,190.5 584.6,190.4 585.1,190.4 585.6,190.4 586.1,190.4 586.6,190.4 587.1,190.4 587.6,190.4 588.1,190.4 588.6,190.4 589.1,190.4 589.6,190.4 590.1,190.4 590.6,190.4 591.1,190.4 591.6,190.4 592.1,190.4 592.6,190.3 593.1,190.3 593.6,190.3 594.1,190.3 594.6,190.3 595.1,190.3 595.6,190.3 596.1,190.3 596.6,190.3 597.1,190.3 597.6,190.3 598.1,190.3 598.6,190.3 599.1,190.3 599.6,190.3 600.1,190.3 600.6,190.3 601.1,190.3 601.6,190.3 602.1,190.3 602.6,190.3 603.1,190.3 603.6,190.3 604.1,190.3 604.6,190.3 605.1,190.3 605.6,190.3 606.1,190.3 606.6,190.3 607.1,190.3 607.6,190.3 608.1,190.3 608.6,190.3 609.1,190.3 609.6,190.3 610.1,190.3 610.6,190.3 611.1,190.3 611.6,190.3 612.1,190.3 612.6,190.3 613.1,190.3 613.6,190.3 614.1,190.3 614.6,190.3 615.1,190.3 615.6,190.3 616.1,190.3 616.6,190.3 617.1,190.3 617.6,190.3 618.1,190.3 618.6,190.3 619.1,190.4 619.6,190.4 620.1,190.4 620.6,190.4 621.1,190.4 621.6,190.4 622.1,190.4 622.6,190.4 623.1,190.4 623.6,190.4 624.1,190.4 624.6,190.4 625.1,190.4 625.6,190.4 626.1,190.4 626.6,190.4 627.1,190.4 627.6,190.4 628.1,190.5 628.6,190.5 629.1,190.5 629.6,190.5 630.1,190.5 630.6,190.5 631.1,190.5 631.6,190.5 632.1,190.5 632.6,190.5 633.1,190.5 633.6,190.6 634.1,190.6 634.6,190.6 635.1,190.6 635.6,190.6 636.1,190.6 636.6,190.6 637.1,190.6 637.6,190.7 638.1,190.7 638.6,190.7 639.1,190.7 639.6,190.7 640.1,190.8 640.6,190.8 641.1,190.8 641.6,190.8 642.1,190.9 642.6,190.9 643.1,190.9 643.6,190.9 644.1,191.0 644.6,191.0 645.1,191.1 645.6,191.1 646.1,191.2 646.6,191.2 647.1,191.3 647.6,191.3 648.1,191.4 648.6,191.5 649.1,191.6 649.6,191.7 650.1,191.9 650.6,192.0 651.1,192.2 651.6,192.4 652.1,192.7 652.6,192.9 653.1,193.2 653.6,193.5 654.1,193.9 654.6,194.3 655.1,194.7 655.6,195.2 656.1,195.7 656.6,196.3 657.1,196.8 657.6,197.4 658.1,198.1 658.6,198.7 659.1,199.3 659.6,200.0 660.1,200.6 660.6,201.1 661.1,201.6 661.6,202.0 662.1,202.4 662.6,202.6 663.1,202.6 663.6,202.6 664.1,202.4 664.6,202.1 665.1,201.7 665.6,201.2 666.1,200.6 666.6,200.0 667.1,199.4 667.6,198.8 668.1,198.2 668.6,197.6 669.1,197.0 669.6,196.5 670.1,195.9 670.6,195.4 671.1,195.0 671.6,194.6 672.1,194.2 672.6,193.9 673.1,193.5 673.6,193.3 674.1,193.0 674.6,192.8 675.1,192.6 675.6,192.5 676.1,192.4 676.6,192.2 677.1,192.1 677.6,192.1 678.1,192.0 678.6,191.9 679.1,191.9 679.6,191.8 680.1,191.8 680.6,191.8 681.1,191.8 681.6,191.8 682.1,191.8 682.6,191.7 683.1,191.7 683.6,191.7 684.1,191.8 684.6,191.8 685.1,191.8 685.6,191.8 686.1,191.8 686.6,191.8 687.1,191.8 687.6,191.9 688.1,191.9 688.6,191.9 689.1,192.0 689.6,192.0 690.1,192.1 690.6,192.1 691.1,192.2 691.6,192.3 692.1,192.3 692.6,192.4 693.1,192.6 693.6,192.7 694.1,192.8 694.6,193.0 695.1,193.2 695.6,193.5 696.1,193.8 696.6,194.1 697.1,194.5 697.6,194.9 698.1,195.3 698.6,195.8 699.1,196.3 699.6,196.8 700.1,197.4 700.6,197.9 701.1,198.4 701.6,198.9 702.1,199.2 702.6,199.5 703.1,199.7 703.6,199.8 704.1,199.8 704.6,199.6 705.1,199.5 705.6,199.3 706.1,199.0 706.6,198.8 707.1,198.6 707.6,198.5 708.1,198.4 708.6,198.4 709.1,198.4 709.6,198.5 710.1,198.6 710.6,198.8 711.1,199.1 711.6,199.4 712.1,199.8 712.6,200.2 713.1,200.6 713.6,201.0 714.1,201.5 714.6,201.9 715.1,202.3 715.6,202.6 716.1,202.9 716.6,203.1 717.1,203.2 717.6,203.2 718.1,203.1 718.6,202.9 719.1,202.6 719.6,202.2 720.1,201.8 720.6,201.3 721.1,200.8 721.6,200.3 722.1,199.8 722.6,199.3 723.1,198.8 723.6,198.4 724.1,197.9 724.6,197.5 725.1,197.1 725.6,196.8 726.1,196.5 726.6,196.2 727.1,195.9 727.6,195.6 728.1,195.4 728.6,195.2 729.1,195.0 729.6,194.8 730.1,194.6 730.6,194.5 731.1,194.3 731.6,194.2 732.1,194.1 732.6,194.0 733.1,193.9 733.6,193.8 734.1,193.8 734.6,193.7 735.1,193.7 735.6,193.6 736.1,193.6 736.6,193.6 737.1,193.6 737.6,193.5 738.1,193.5 738.6,193.6 739.1,193.6 739.6,193.6 740.1,193.6 740.6,193.7 741.1,193.7 741.6,193.8 742.1,193.8 742.6,193.9 743.1,194.0 743.6,194.0 744.1,194.1 744.6,194.2 745.1,194.3 745.6,194.4 746.1,194.5 746.6,194.6 747.1,194.7 747.6,194.7 748.1,194.8 748.6,194.9 749.1,194.9 749.6,194.9 750.1,194.9 750.6,194.8 751.1,194.8 751.6,194.7 752.1,194.6 752.6,194.6 753.1,194.5 753.6,194.4 754.1,194.3 754.6,194.2 755.1,194.1 755.6,194.0 756.1,194.0 756.6,193.9 757.1,193.9 757.6,193.8 758.1,193.8 758.6,193.7 759.1,193.7 759.6,193.7 760.1,193.7 760.6,193.7 761.1,193.7 761.6,193.8 762.1,193.8 762.6,193.8 763.1,193.9 763.6,194.0 764.1,194.0 764.6,194.1 765.1,194.2 765.6,194.3 766.1,194.4 766.6,194.5 767.1,194.6 767.6,194.7 768.1,194.8 768.6,194.9 769.1,195.0 769.6,195.1 770.1,195.2 770.6,195.3 771.1,195.4 771.6,195.5 772.1,195.5 772.6,195.6 773.1,195.6 773.6,195.6 774.1,195.6 774.6,195.6 775.1,195.6 775.6,195.5 776.1,195.5 776.6,195.4 777.1,195.3 777.6,195.3 778.1,195.2 778.6,195.1 779.1,195.0 779.6,195.0 780.1,194.9 780.6,194.9 781.1,194.8 781.6,194.8 782.1,194.7 782.6,194.7 783.1,194.7 783.6,194.7 784.1,194.7 784.6,194.7 785.1,194.7 785.6,194.8 786.1,194.8 786.6,194.9 787.1,195.0 787.6,195.1 788.1,195.2 788.6,195.3 789.1,195.4 789.6,195.6 790.1,195.8 790.6,195.9 791.1,196.1 791.6,196.4 792.1,196.6 792.6,196.8 793.1,197.1 793.6,197.4 794.1,197.7 794.6,198.0 795.1,198.3 795.6,198.6 796.1,199.0 796.6,199.4 797.1,199.9 797.6,200.4 798.1,200.9 798.6,201.6 799.1,202.3 799.6,203.1 800.1,203.9 800.6,204.8 801.1,205.8 801.6,206.7 802.1,207.7 802.6,208.5 803.1,209.4 803.6,210.1 804.1,210.7 804.6,211.2 805.1,211.5 805.6,211.8 806.1,211.9 806.6,212.0 807.1,212.0 807.6,212.0 808.1,211.9 808.6,212.0 809.1,212.0 809.6,212.1 810.1,212.3 810.6,212.5 811.1,212.8 811.6,213.1 812.1,213.5 812.6,213.9 813.1,214.3 813.6,214.8 814.1,215.2 814.6,215.6 815.1,216.1 815.6,216.6 816.1,217.0 816.6,217.5 817.1,218.1 817.6,218.7 818.1,219.3 818.6,220.0 819.1,220.7 819.6,221.6 820.1,222.4 820.6,223.4 821.1,224.3 821.6,225.3 822.1,226.2 822.6,227.1 823.1,227.7 823.6,228.2 824.1,228.2 824.6,227.8 825.1,226.7 825.6,225.3 826.1,223.6 826.6,221.7 827.1,219.8 827.6,217.8 828.1,215.9 828.6,214.0 829.1,212.2 829.6,210.5 830.1,209.0 830.6,207.5 831.1,206.2 831.6,205.0 832.1,204.0 832.6,203.0 833.1,202.2 833.6,201.5 834.1,200.9 834.6,200.3 835.1,199.9 835.6,199.5 836.1,199.2 836.6,199.0 837.1,198.8 837.6,198.7 838.1,198.6 838.6,198.6 839.1,198.7 839.6,198.7 840.1,198.9 840.6,199.1 841.1,199.3 841.6,199.6 842.1,199.9 842.6,200.3 843.1,200.8 843.6,201.3 844.1,201.9 844.6,202.5 845.1,203.2 845.6,204.0 846.1,204.9 846.6,205.8 847.1,206.8 847.6,207.8 848.1,208.9 848.6,210.1 849.1,211.3 849.6,212.5 850.1,213.8 850.6,215.1 851.1,216.3 851.6,217.5 852.1,218.5 852.6,219.5 853.1,220.2 853.6,220.6 854.1,220.6 854.6,220.3 855.1,219.8 855.6,219.1 856.1,218.4 856.6,217.5 857.1,216.7 857.6,215.8 858.1,215.0 858.6,214.2 859.1,213.5 859.6,212.8 860.1,212.2 860.6,211.8 861.1,211.4 861.6,211.1 862.1,210.9 862.6,210.8 863.1,210.7 863.6,210.8 864.1,211.0 864.6,211.2 865.1,211.6 865.6,212.0 866.1,212.5 866.6,213.0 867.1,213.6 867.6,214.3 868.1,215.0 868.6,215.7 869.1,216.4 869.6,217.2 870.1,217.9 870.6,218.7 871.1,219.4 871.6,220.1 872.1,220.8 872.6,221.5 873.1,222.2 873.6,222.9 874.1,223.5 874.6,224.2 875.1,224.9 875.6,225.7 876.1,226.4 876.6,227.1 877.1,227.9 877.6,228.6 878.1,229.4 878.6,230.1 879.1,230.7 879.6,231.3 880.1,231.8 880.6,232.3 881.1,232.6 881.6,232.7 882.1,232.7 882.6,232.6 883.1,232.3 883.6,231.8 884.1,231.2 884.6,230.4 885.1,229.6 885.6,228.6 886.1,227.5 886.6,226.4 887.1,225.2 887.6,224.0 888.1,222.9 888.6,221.7 889.1,220.5 889.6,219.4 890.1,218.4 890.6,217.4 891.1,216.5 891.6,215.7 892.1,214.9 892.6,214.3 893.1,213.8 893.6,213.3 894.1,213.0 894.6,212.8 895.1,212.7 895.6,212.7 896.1,212.8 896.6,213.0 897.1,213.3 897.6,213.7 898.1,214.1 898.6,214.6 899.1,215.2 899.6,215.8 900.1,216.5 900.6,217.1 901.1,217.7 901.6,218.3 902.1,218.8 902.6,219.3 903.1,219.7 903.6,220.0 904.1,220.1 904.6,220.2 905.1,220.2 905.6,220.1 906.1,219.8 906.6,219.5 907.1,219.1 907.6,218.6 908.1,218.0 908.6,217.4 909.1,216.8 909.6,216.2 910.1,215.6 910.6,214.9 911.1,214.3 911.6,213.7 912.1,213.2 912.6,212.7 913.1,212.2 913.6,211.8 914.1,211.4 914.6,211.0 915.1,210.6 915.6,210.3 916.1,209.9 916.6,209.6 917.1,209.2 917.6,208.9 918.1,208.5 918.6,208.1 919.1,207.7 919.6,207.3 920.1,206.8 920.6,206.4 921.1,205.9 921.6,205.5 922.1,205.0 922.6,204.6 923.1,204.1 923.6,203.7 924.1,203.2 924.6,202.8 925.1,202.4 925.6,202.0 926.1,201.6 926.6,201.2 927.1,200.8 927.6,200.5 928.1,200.2 928.6,199.9 929.1,199.6 929.6,199.3 930.1,199.0 930.6,198.7 931.1,198.5 931.6,198.3 932.1,198.0 932.6,197.8 933.1,197.6 933.6,197.4 934.1,197.2 934.6,197.1 935.1,196.9 935.6,196.8 936.1,196.6 936.6,196.5 937.1,196.4 937.6,196.2 938.1,196.1 938.6,196.0 939.1,195.9 939.6,195.8 940.1,195.7 940.6,195.6 941.1,195.6 941.6,195.5 942.1,195.4 942.6,195.4 943.1,195.3 943.6,195.3 944.1,195.2 944.6,195.2 945.1,195.1 945.6,195.1 946.1,195.1 946.6,195.1 947.1,195.1 947.6,195.1 948.1,195.1 948.6,195.1 949.1,195.2 949.6,195.2 950.1,195.3 950.6,195.4 951.1,195.5 951.6,195.6 952.1,195.7 952.6,195.8 953.1,196.0 953.6,196.2 954.1,196.3 954.6,196.5 955.1,196.7 955.6,196.9 956.1,197.1 956.6,197.3 957.1,197.3 957.6,197.4 958.1,197.4 958.6,197.3 959.1,197.1 959.6,196.9 960.1,196.7 960.6,196.4 961.1,196.2 961.6,195.9 962.1,195.7 962.6,195.5 963.1,195.3 963.6,195.1 964.1,194.9 964.6,194.8 965.1,194.7 965.6,194.6 966.1,194.5 966.6,194.4 967.1,194.4 967.6,194.3 968.1,194.3 968.6,194.3 969.1,194.3 969.6,194.3 970.1,194.4 970.6,194.4 971.1,194.5 971.6,194.5 972.1,194.6 972.6,194.7 973.1,194.7 973.6,194.8 974.1,194.9 974.6,194.9 975.1,195.0 975.6,195.1 976.1,195.1 976.6,195.2 977.1,195.2 977.6,195.2 978.1,195.2 978.6,195.2 979.1,195.2 979.6,195.2 980.1,195.1 980.6,195.1 981.1,195.0 981.6,194.9 982.1,194.8 982.6,194.7 983.1,194.6 983.6,194.4 984.1,194.3 984.6,194.2 985.1,194.1 985.6,193.9 986.1,193.8 986.6,193.7 987.1,193.6 987.6,193.5 988.1,193.4 988.6,193.3 989.1,193.2 989.6,193.1 990.1,193.0 990.6,192.9 991.1,192.9 991.6,192.8 992.1,192.8 992.6,192.7 993.1,192.7 993.6,192.7 994.1,192.7 994.6,192.7 995.1,192.7 995.6,192.7 996.1,192.8 996.6,192.8 997.1,192.9 997.6,193.0 998.1,193.1 998.6,193.3 999.1,193.5 999.6,193.7 1000.1,194.0 1000.6,194.3 1001.1,194.6 1001.6,195.0 1002.1,195.4 1002.6,195.8 1003.1,196.2 1003.6,196.6 1004.1,197.1 1004.6,197.5 1005.1,197.9 1005.6,198.2 1006.1,198.6 1006.6,198.8 1007.1,199.0 1007.6,199.1 1008.1,199.2 1008.6,199.1 1009.1,199.0 1009.6,198.8 1010.1,198.6 1010.6,198.2 1011.1,197.9 1011.6,197.5 1012.1,197.0 1012.6,196.6 1013.1,196.2 1013.6,195.7 1014.1,195.3 1014.6,194.9 1015.1,194.5 1015.6,194.2 1016.1,193.9 1016.6,193.6 1017.1,193.3 1017.6,193.1 1018.1,193.0 1018.6,192.8 1019.1,192.7 1019.6,192.6 1020.1,192.5 1020.6,192.5 1021.1,192.4 1021.6,192.4 1022.1,192.3 1022.6,192.3 1023.1,192.3 1023.6,192.3 1024.1,192.3 1024.6,192.3 1025.1,192.3 1025.6,192.3 1026.1,192.2 1026.6,192.2 1027.1,192.2 1027.6,192.2 1028.1,192.2 1028.6,192.2 1029.1,192.2 1029.6,192.2 1030.1,192.2 1030.6,192.2 1031.1,192.2 1031.6,192.2 1032.1,192.2 1032.6,192.2 1033.1,192.2 1033.6,192.2 1034.1,192.2 1034.6,192.2 1035.1,192.2 1035.6,192.2 1036.1,192.2 1036.6,192.2 1037.1,192.2 1037.6,192.2 1038.1,192.2 1038.6,192.2 1039.1,192.2 1039.6,192.2 1040.1,192.3 1040.6,192.3 1041.1,192.3 1041.6,192.3 1042.1,192.3 1042.6,192.3 1043.1,192.3 1043.6,192.3 1044.1,192.3 1044.6,192.3 1045.1,192.3 1045.6,192.3 1046.1,192.3 1046.6,192.3 1047.1,192.3 1047.6,192.3 1048.1,192.3 1048.6,192.3 1049.1,192.3 1049.6,192.3 1050.1,192.3 1050.6,192.3 1051.1,192.3 1051.6,192.3 1052.1,192.3 1052.6,192.3 1053.1,192.3 1053.6,192.3 1054.1,192.3 1054.6,192.4 1055.1,192.4 1055.6,192.4 1056.1,192.4 1056.6,192.4 1057.1,192.4 1057.6,192.4 1058.1,192.4 1058.6,192.4 1059.1,192.4 1059.6,192.5 1060.1,192.5 1060.6,192.5 1061.1,192.5 1061.6,192.6 1062.1,192.6 1062.6,192.7 1063.1,192.7 1063.6,192.8 1064.1,192.9 1064.6,193.1 1065.1,193.2 1065.6,193.4 1066.1,193.6 1066.6,193.9 1067.1,194.1 1067.6,194.4 1068.1,194.8 1068.6,195.1 1069.1,195.5 1069.6,195.9 1070.1,196.4 1070.6,196.8 1071.1,197.2 1071.6,197.6 1072.1,198.0 1072.6,198.3 1073.1,198.6 1073.6,198.9 1074.1,199.0 1074.6,199.1 1075.1,199.2 1075.6,199.1 1076.1,199.0 1076.6,198.8 1077.1,198.6 1077.6,198.3 1078.1,198.0 1078.6,197.7 1079.1,197.4 1079.6,197.1 1080.1,196.8 1080.6,196.7 1081.1,196.5 1081.6,196.5 1082.1,196.5 1082.6,196.6 1083.1,196.8 1083.6,196.9 1084.1,197.0 1084.6,197.1 1085.1,197.1 1085.6,197.0 1086.1,196.8 1086.6,196.6 1087.1,196.3 1087.6,195.9 1088.1,195.6 1088.6,195.3 1089.1,195.0 1089.6,194.8 1090.1,194.7 1090.6,194.6 1091.1,194.5 1091.6,194.5 1092.1,194.5 1092.6,194.5 1093.1,194.6 1093.6,194.7 1094.1,194.7 1094.6,194.8 1095.1,194.9 1095.6,195.0 1096.1,195.1 1096.6,195.2 1097.1,195.3 1097.6,195.4 1098.1,195.5 1098.6,195.6 1099.1,195.7 1099.6,195.8 1100.1,195.9 1100.6,196.0 1101.1,196.1 1101.6,196.2 1102.1,196.4 1102.6,196.5 1103.1,196.6 1103.6,196.7 1104.1,196.8 1104.6,196.9 1105.1,197.1 1105.6,197.2 1106.1,197.3 1106.6,197.4 1107.1,197.5 1107.6,197.6 1108.1,197.7 1108.6,197.7 1109.1,197.8 1109.6,197.9 1110.1,197.9 1110.6,198.0 1111.1,198.0 1111.6,198.1 1112.1,198.1 1112.6,198.1 1113.1,198.1 1113.6,198.1 1114.1,198.1 1114.6,198.0 1115.1,198.0 1115.6,198.0 1116.1,197.9 1116.6,197.8 1117.1,197.8 1117.6,197.7 1118.1,197.6 1118.6,197.5 1119.1,197.4 1119.6,197.3 1120.1,197.2 1120.6,197.1 1121.1,197.0 1121.6,196.8 1122.1,196.7 1122.6,196.6 1123.1,196.5 1123.6,196.4 1124.1,196.2 1124.6,196.1 1125.1,196.0 1125.6,195.9 1126.1,195.8 1126.6,195.6 1127.1,195.5 1127.6,195.4 1128.1,195.3 1128.6,195.2 1129.1,195.1 1129.6,195.0 1130.1,194.9 1130.6,194.8 1131.1,194.7 1131.6,194.6 1132.1,194.5 1132.6,194.4 1133.1,194.3 1133.6,194.2 1134.1,194.1 1134.6,194.1 1135.1,194.0 1135.6,193.9 1136.1,193.8 1136.6,193.8 1137.1,193.7 1137.6,193.6 1138.1,193.6 1138.6,193.5 1139.1,193.4 1139.6,193.4 1140.1,193.3 1140.6,193.3 1141.1,193.2 1141.6,193.2 1142.1,193.1 1142.6,193.1 1143.1,193.0 1143.6,193.0 1144.1,192.9 1144.6,192.9 1145.1,192.8 1145.6,192.8 1146.1,192.8 1146.6,192.7 1147.1,192.7 1147.6,192.6 1148.1,192.6 1148.6,192.6 1149.1,192.5 1149.6,192.5 1150.1,192.5 1150.6,192.4 1151.1,192.4 1151.6,192.4 1152.1,192.3 1152.6,192.3 1153.1,192.3 1153.6,192.3 1154.1,192.2 1154.6,192.2 1155.1,192.2 1155.6,192.2 1156.1,192.1 1156.6,192.1 1157.1,192.1 1157.6,192.1 1158.1,192.1 1158.6,192.0 1159.1,192.0 1159.6,192.0 1160.1,192.0 1160.6,192.0 1161.1,191.9 1161.6,191.9 1162.1,191.9 1162.6,191.9 1163.1,191.9 1163.6,191.8 1164.1,191.8 1164.6,191.8 1165.1,191.8 1165.6,191.8 1166.1,191.8 1166.6,191.7 1167.1,191.7"/>
<path d="M218.7,190.8 219.2,190.8 219.7,190.7 220.2,190.7 220.7,190.7 221.2,190.7 221.7,190.6 222.2,190.6 222.7,190.6 223.2,190.5 223.7,190.5 224.2,190.5 224.7,190.5 225.2,190.4 225.7,190.4 226.2,190.4 226.7,190.4 227.2,190.3 227.7,190.3 228.2,190.3 228.7,190.3 229.2,190.2 229.7,190.2 230.2,190.2 230.7,190.2 231.2,190.2 231.7,190.2 232.2,190.1 232.7,190.1 233.2,190.1 233.7,190.1 234.2,190.1 234.7,190.1 235.2,190.1 235.7,190.0 236.2,190.0 236.7,190.0 237.2,190.0 237.7,190.0 238.2,190.0 238.7,190.0 239.2,190.0 239.7,190.0 240.2,190.0 240.7,190.0 241.2,190.0 241.7,190.0 242.2,190.0 242.7,190.0 243.2,190.0 243.7,190.0 244.2,190.0 244.7,190.0 245.2,190.0 245.7,190.0 246.2,190.0 246.7,190.0 247.2,190.0 247.7,190.0 248.2,190.0 248.7,190.0 249.2,190.0 249.7,190.0 250.2,190.0 250.7,190.0 251.2,190.0 251.7,190.0 252.2,190.0 252.7,190.0 253.2,190.0 253.7,190.0 254.2,190.1 254.7,190.4 255.2,190.6 255.7,191.0 256.2,191.3 256.7,191.6 257.2,192.1 257.7,192.6 258.2,193.1 258.7,193.6 259.2,194.0 259.7,194.2 260.2,194.2 260.7,194.1 261.2,193.8 261.7,193.4 262.2,193.0 262.7,192.6 263.2,192.3 263.7,192.0 264.2,191.8 264.7,191.8 265.2,191.9 265.7,192.1 266.2,192.3 266.7,192.6 267.2,192.9 267.7,193.1 268.2,193.3 268.7,193.6 269.2,193.8 269.7,194.0 270.2,194.2 270.7,194.2 271.2,194.2 271.7,193.9 272.2,193.4 272.7,192.9 273.2,192.4 273.7,191.8 274.2,191.4 274.7,191.1 275.2,191.0 275.7,190.9 276.2,190.8 276.7,190.7 277.2,190.7 277.7,190.6 278.2,190.6 278.7,190.5 279.2,190.5 279.7,190.5 280.2,190.5 280.7,190.5 281.2,190.6 281.7,190.6 282.2,190.7 282.7,190.7 283.2,190.8 283.7,190.8 284.2,190.9 284.7,190.9 285.2,191.0 285.7,191.0 286.2,191.0 286.7,190.8 287.2,190.5 287.7,190.3 288.2,190.1 288.7,190.0 289.2,190.0 289.7,189.9 290.2,189.9 290.7,189.9 291.2,189.9 291.7,189.9 292.2,189.9 292.7,189.9 293.2,189.9 293.7,189.8 294.2,189.8 294.7,189.8 295.2,189.8 295.7,189.8 296.2,189.8 296.7,189.8 297.2,189.8 297.7,189.8 298.2,189.8 298.7,189.8 299.2,189.8 299.7,189.8 300.2,189.7 300.7,189.7 301.2,189.7 301.7,189.7 302.2,189.7 302.7,189.7 303.2,189.7 303.7,189.7 304.2,189.6 304.7,189.6 305.2,189.6 305.7,189.6 306.2,189.6 306.7,189.6 307.2,189.6 307.7,189.5 308.2,189.5 308.7,189.5 309.2,189.5 309.7,189.5 310.2,189.5 310.7,189.4 311.2,189.4 311.7,189.4 312.2,189.4 312.7,189.4 313.2,189.4 313.7,189.3 314.2,189.3 314.7,189.3 315.2,189.3 315.7,189.3 316.2,189.3 316.7,189.2 317.2,189.2 317.7,189.2 318.2,189.2 318.7,189.2 319.2,189.2 319.7,189.1 320.2,189.1"/>
<path d="M340.1,269.6 340.6,269.6 341.1,269.6 341.6,269.6 342.1,269.6 342.6,269.6 343.1,269.7 343.6,269.7 344.1,269.7 344.6,269.7 345.1,269.7 345.6,269.7 346.1,269.7 346.6,269.7 347.1,269.7 347.6,269.7 348.1,269.7 348.6,269.7 349.1,269.7 349.6,269.7 350.1,269.7 350.6,269.7 351.1,269.7 351.6,269.7 352.1,269.7 352.6,269.7 353.1,269.7 353.6,269.7 354.1,269.7 354.6,269.7 355.1,269.7 355.6,269.7 356.1,269.7 356.6,269.8 357.1,269.8 357.6,269.8 358.1,269.8 358.6,269.8 359.1,269.8 359.6,269.8 360.1,269.8 360.6,269.8 361.1,269.8 361.6,269.8 362.1,269.8 362.6,269.8 363.1,269.8 363.6,269.8 364.1,269.8 364.6,269.8 365.1,269.8 365.6,269.8 366.1,269.8 366.6,269.8 367.1,269.8 367.6,269.8 368.1,269.9 368.6,269.9 369.1,269.9 369.6,269.9 370.1,269.9 370.6,269.9 371.1,269.9 371.6,269.9 372.1,269.9 372.6,269.9 373.1,269.9 373.6,269.9 374.1,269.9 374.6,269.9 375.1,269.9 375.6,269.9 376.1,269.9 376.6,269.9 377.1,269.9 377.6,270.0 378.1,270.0 378.6,270.0 379.1,270.0 379.6,270.0 380.1,270.0 380.6,270.0 381.1,270.0 381.6,270.0 382.1,270.0 382.6,270.0 383.1,270.0 383.6,270.0 384.1,270.0 384.6,270.0 385.1,270.0 385.6,270.0 386.1,270.1 386.6,270.1 387.1,270.1 387.6,270.1 388.1,270.1 388.6,270.1 389.1,270.1 389.6,270.1 390.1,270.1 390.6,270.1 391.1,270.1 391.6,270.1 392.1,270.1 392.6,270.1 393.1,270.2 393.6,270.2 394.1,270.2 394.6,270.2 395.1,270.2 395.6,270.2 396.1,270.2 396.6,270.2 397.1,270.2 397.6,270.2 398.1,270.2 398.6,270.2 399.1,270.2 399.6,270.3 400.1,270.3 400.6,270.3 401.1,270.3 401.6,270.3 402.1,270.3 402.6,270.3 403.1,270.3 403.6,270.3 404.1,270.3 404.6,270.3 405.1,270.4 405.6,270.4 406.1,270.4 406.6,270.4 407.1,270.4 407.6,270.4 408.1,270.4 408.6,270.4 409.1,270.4 409.6,270.4 410.1,270.5 410.6,270.5 411.1,270.5 411.6,270.5 412.1,270.5 412.6,270.5 413.1,270.5 413.6,270.5 414.1,270.5 414.6,270.6 415.1,270.6 415.6,270.6 416.1,270.6 416.6,270.6 417.1,270.6 417.6,270.6 418.1,270.6 418.6,270.7 419.1,270.7 419.6,270.7 420.1,270.7 420.6,270.7 421.1,270.7 421.6,270.7 422.1,270.8 422.6,270.8 423.1,270.8 423.6,270.8 424.1,270.8 424.6,270.8 425.1,270.8 425.6,270.9 426.1,270.9 426.6,270.9 427.1,270.9 427.6,270.9 428.1,270.9 428.6,271.0 429.1,271.0 429.6,271.0 430.1,271.0 430.6,271.0 431.1,271.0 431.6,271.1 432.1,271.1 432.6,271.1 433.1,271.1 433.6,271.1 434.1,271.2 434.6,271.2 435.1,271.2 435.6,271.2 436.1,271.3 436.6,271.3 437.1,271.3 437.6,271.3 438.1,271.4 438.6,271.4 439.1,271.4 439.6,271.4 440.1,271.5 440.6,271.5 441.1,271.5 441.6,271.5 442.1,271.6 442.6,271.6 443.1,271.6 443.6,271.7 444.1,271.7 444.6,271.7 445.1,271.8 445.6,271.8 446.1,271.8 446.6,271.9 447.1,271.9 447.6,272.0 448.1,272.0 448.6,272.1 449.1,272.1 449.6,272.2 450.1,272.3 450.6,272.3 451.1,272.4 451.6,272.5 452.1,272.6 452.6,272.7 453.1,272.8 453.6,272.9 454.1,273.0 454.6,273.2 455.1,273.4 455.6,273.6 456.1,273.8 456.6,274.0 457.1,274.3 457.6,274.5 458.1,274.9 458.6,275.2 459.1,275.6 459.6,276.0 460.1,276.5 460.6,277.0 461.1,277.6 461.6,278.3 462.1,279.0 462.6,279.7 463.1,280.6 463.6,281.4 464.1,282.4 464.6,283.5 465.1,284.6 465.6,285.8 466.1,287.1 466.6,288.5 467.1,289.9 467.6,291.4 468.1,293.1 468.6,294.8 469.1,296.5 469.6,298.4 470.1,300.3 470.6,302.3 471.1,304.3 471.6,306.5 472.1,308.6 472.6,310.9 473.1,313.2 473.6,315.5 474.1,317.9 474.6,320.3 475.1,322.8 475.6,325.4 476.1,328.0 476.6,330.7 477.1,333.5 477.6,336.4 478.1,339.4 478.6,342.5 479.1,345.7 479.6,349.0 480.1,352.5 480.6,356.2 481.1,360.2 481.6,364.4 482.1,368.9 482.6,373.7 483.1,378.6 483.6,383.8 484.1,389.1 484.6,394.3 485.1,399.3 485.6,404.0 486.1,407.9 486.6,410.4 487.1,409.2 487.6,405.5 488.1,400.9 488.6,395.7 489.1,390.4 489.6,385.0 490.1,379.7 490.6,374.7 491.1,369.9 491.6,365.5 492.1,361.2 492.6,356.6 493.1,350.8 493.6,345.1 494.1,339.6 494.6,334.5 495.1,329.8 495.6,325.4 496.1,321.4 496.6,317.7 497.1,314.4 497.6,311.3 498.1,308.5 498.6,305.9 499.1,303.6 499.6,301.5 500.1,299.6 500.6,297.8 501.1,296.1 501.6,294.6 502.1,293.3 502.6,292.0 503.1,290.8 503.6,289.8 504.1,288.8 504.6,287.8 505.1,287.0 505.6,286.2 506.1,285.4 506.6,284.7 507.1,284.1 507.6,283.5 508.1,282.9 508.6,282.4 509.1,281.9 509.6,281.4 510.1,281.0 510.6,280.6 511.1,280.2 511.6,279.9 512.1,279.6 512.6,279.3 513.1,279.0 513.6,278.7 514.1,278.5 514.6,278.3 515.1,278.1 515.6,277.9 516.1,277.7 516.6,277.5 517.1,277.4 517.6,277.2 518.1,277.1 518.6,277.0 519.1,276.9 519.6,276.8 520.1,276.7 520.6,276.7 521.1,276.6 521.6,276.6 522.1,276.5 522.6,276.5 523.1,276.5 523.6,276.5 524.1,276.5 524.6,276.5 525.1,276.5 525.6,276.5 526.1,276.5 526.6,276.6 527.1,276.6 527.6,276.7 528.1,276.7 528.6,276.8 529.1,276.9 529.6,277.0 530.1,277.1 530.6,277.2 531.1,277.3 531.6,277.4 532.1,277.5 532.6,277.6 533.1,277.7 533.6,277.9 534.1,278.0 534.6,278.2 535.1,278.3 535.6,278.4 536.1,278.6 536.6,278.7 537.1,278.9 537.6,279.0 538.1,279.2 538.6,279.3 539.1,279.4 539.6,279.6 540.1,279.7 540.6,279.8 541.1,279.8 541.6,279.9 542.1,280.0 542.6,280.0 543.1,280.0 543.6,280.0 544.1,280.0 544.6,279.9 545.1,279.9 545.6,279.8 546.1,279.7 546.6,279.5 547.1,279.4 547.6,279.3 548.1,279.1 548.6,279.0 549.1,278.8 549.6,278.6 550.1,278.4 550.6,278.2 551.1,278.0 551.6,277.8 552.1,277.6 552.6,277.5 553.1,277.3 553.6,277.1 554.1,276.9 554.6,276.7 555.1,276.5 555.6,276.4 556.1,276.2 556.6,276.0 557.1,275.9 557.6,275.7 558.1,275.6 558.6,275.4 559.1,275.3 559.6,275.2 560.1,275.1 560.6,274.9 561.1,274.8 561.6,274.7 562.1,274.6 562.6,274.5 563.1,274.4 563.6,274.3 564.1,274.2 564.6,274.1 565.1,274.0 565.6,274.0 566.1,273.9 566.6,273.8 567.1,273.7 567.6,273.7 568.1,273.6 568.6,273.5 569.1,273.5 569.6,273.4 570.1,273.4 570.6,273.3 571.1,273.3 571.6,273.2 572.1,273.2 572.6,273.1 573.1,273.1 573.6,273.0 574.1,273.0 574.6,273.0 575.1,272.9 575.6,272.9 576.1,272.9 576.6,272.8 577.1,272.8 577.6,272.8 578.1,272.7 578.6,272.7 579.1,272.7 579.6,272.6 580.1,272.6 580.6,272.6 581.1,272.6 581.6,272.6 582.1,272.5 582.6,272.5 583.1,272.5 583.6,272.5 584.1,272.5 584.6,272.4 585.1,272.4 585.6,272.4 586.1,272.4 586.6,272.4 587.1,272.4 587.6,272.3 588.1,272.3 588.6,272.3 589.1,272.3 589.6,272.3 590.1,272.3 590.6,272.3 591.1,272.3 591.6,272.2 592.1,272.2 592.6,272.2 593.1,272.2 593.6,272.2 594.1,272.2 594.6,272.2 595.1,272.2 595.6,272.2 596.1,272.2 596.6,272.2 597.1,272.2 597.6,272.2 598.1,272.2 598.6,272.2 599.1,272.2 599.6,272.2 600.1,272.1 600.6,272.1 601.1,272.1 601.6,272.1 602.1,272.1 602.6,272.1 603.1,272.1 603.6,272.1 604.1,272.1 604.6,272.1 605.1,272.1 605.6,272.1 606.1,272.1 606.6,272.1 607.1,272.1 607.6,272.1 608.1,272.1 608.6,272.1 609.1,272.1 609.6,272.1 610.1,272.1 610.6,272.2 611.1,272.2 611.6,272.2 612.1,272.2 612.6,272.2 613.1,272.2 613.6,272.2 614.1,272.2 614.6,272.2 615.1,272.2 615.6,272.2 616.1,272.2 616.6,272.2 617.1,272.2 617.6,272.2 618.1,272.2 618.6,272.2 619.1,272.2 619.6,272.3 620.1,272.3 620.6,272.3 621.1,272.3 621.6,272.3 622.1,272.3 622.6,272.3 623.1,272.3 623.6,272.3 624.1,272.3 624.6,272.4 625.1,272.4 625.6,272.4 626.1,272.4 626.6,272.4 627.1,272.4 627.6,272.4 628.1,272.5 628.6,272.5 629.1,272.5 629.6,272.5 630.1,272.5 630.6,272.6 631.1,272.6 631.6,272.6 632.1,272.6 632.6,272.6 633.1,272.7 633.6,272.7 634.1,272.7 634.6,272.7 635.1,272.8 635.6,272.8 636.1,272.8 636.6,272.9 637.1,272.9 637.6,272.9 638.1,273.0 638.6,273.0 639.1,273.0 639.6,273.1 640.1,273.1 640.6,273.2 641.1,273.2 641.6,273.3 642.1,273.3 642.6,273.4 643.1,273.5 643.6,273.5 644.1,273.6 644.6,273.7 645.1,273.8 645.6,273.9 646.1,274.0 646.6,274.1 647.1,274.2 647.6,274.4 648.1,274.6 648.6,274.8 649.1,275.0 649.6,275.2 650.1,275.5 650.6,275.9 651.1,276.3 651.6,276.7 652.1,277.2 652.6,277.8 653.1,278.4 653.6,279.2 654.1,280.0 654.6,280.9 655.1,281.9 655.6,283.0 656.1,284.2 656.6,285.5 657.1,286.9 657.6,288.3 658.1,289.8 658.6,291.4 659.1,293.0 659.6,294.5 660.1,296.0 660.6,297.4 661.1,298.7 661.6,299.8 662.1,300.7 662.6,301.3 663.1,301.5 663.6,301.4 664.1,301.0 664.6,300.3 665.1,299.3 665.6,298.1 666.1,296.8 666.6,295.4 667.1,293.8 667.6,292.3 668.1,290.8 668.6,289.3 669.1,287.9 669.6,286.5 670.1,285.2 670.6,284.0 671.1,282.9 671.6,281.9 672.1,281.0 672.6,280.2 673.1,279.4 673.6,278.8 674.1,278.2 674.6,277.7 675.1,277.3 675.6,277.0 676.1,276.6 676.6,276.4 677.1,276.1 677.6,276.0 678.1,275.8 678.6,275.7 679.1,275.5 679.6,275.5 680.1,275.4 680.6,275.3 681.1,275.3 681.6,275.2 682.1,275.2 682.6,275.2 683.1,275.2 683.6,275.2 684.1,275.2 684.6,275.2 685.1,275.2 685.6,275.2 686.1,275.3 686.6,275.3 687.1,275.4 687.6,275.4 688.1,275.5 688.6,275.5 689.1,275.6 689.6,275.7 690.1,275.8 690.6,275.9 691.1,276.1 691.6,276.2 692.1,276.4 692.6,276.6 693.1,276.9 693.6,277.2 694.1,277.5 694.6,277.9 695.1,278.4 695.6,279.0 696.1,279.6 696.6,280.3 697.1,281.2 697.6,282.1 698.1,283.1 698.6,284.2 699.1,285.4 699.6,286.6 700.1,287.8 700.6,289.0 701.1,290.2 701.6,291.3 702.1,292.2 702.6,292.8 703.1,293.3 703.6,293.4 704.1,293.3 704.6,293.0 705.1,292.5 705.6,292.0 706.1,291.4 706.6,290.8 707.1,290.3 707.6,289.9 708.1,289.6 708.6,289.4 709.1,289.4 709.6,289.5 710.1,289.8 710.6,290.2 711.1,290.8 711.6,291.5 712.1,292.4 712.6,293.3 713.1,294.3 713.6,295.4 714.1,296.5 714.6,297.5 715.1,298.5 715.6,299.3 716.1,300.0 716.6,300.4 717.1,300.6 717.6,300.5 718.1,300.1 718.6,299.5 719.1,298.6 719.6,297.6 720.1,296.5 720.6,295.3 721.1,294.1 721.6,292.8 722.1,291.7 722.6,290.5 723.1,289.4 723.6,288.4 724.1,287.5 724.6,286.6 725.1,285.8 725.6,285.0 726.1,284.4 726.6,283.7 727.1,283.2 727.6,282.7 728.1,282.2 728.6,281.8 729.1,281.4 729.6,281.1 730.1,280.8 730.6,280.5 731.1,280.3 731.6,280.0 732.1,279.9 732.6,279.7 733.1,279.5 733.6,279.4 734.1,279.3 734.6,279.2 735.1,279.2 735.6,279.1 736.1,279.1 736.6,279.1 737.1,279.1 737.6,279.1 738.1,279.2 738.6,279.2 739.1,279.3 739.6,279.4 740.1,279.5 740.6,279.6 741.1,279.8 741.6,280.0 742.1,280.2 742.6,280.4 743.1,280.6 743.6,280.9 744.1,281.2 744.6,281.4 745.1,281.8 745.6,282.1 746.1,282.4 746.6,282.7 747.1,283.0 747.6,283.3 748.1,283.5 748.6,283.8 749.1,283.9 749.6,284.0 750.1,284.1 750.6,284.0 751.1,283.9 751.6,283.8 752.1,283.6 752.6,283.4 753.1,283.1 753.6,282.8 754.1,282.5 754.6,282.3 755.1,282.0 755.6,281.7 756.1,281.5 756.6,281.2 757.1,281.0 757.6,280.9 758.1,280.7 758.6,280.6 759.1,280.5 759.6,280.4 760.1,280.3 760.6,280.3 761.1,280.3 761.6,280.3 762.1,280.3 762.6,280.4 763.1,280.5 763.6,280.5 764.1,280.7 764.6,280.8 765.1,280.9 765.6,281.1 766.1,281.3 766.6,281.5 767.1,281.7 767.6,281.9 768.1,282.1 768.6,282.3 769.1,282.5 769.6,282.7 770.1,282.9 770.6,283.1 771.1,283.2 771.6,283.4 772.1,283.5 772.6,283.6 773.1,283.6 773.6,283.7 774.1,283.7 774.6,283.6 775.1,283.5 775.6,283.5 776.1,283.4 776.6,283.2 777.1,283.1 777.6,283.0 778.1,282.8 778.6,282.7 779.1,282.6 779.6,282.5 780.1,282.3 780.6,282.3 781.1,282.2 781.6,282.1 782.1,282.1 782.6,282.0 783.1,282.0 783.6,282.1 784.1,282.1 784.6,282.2 785.1,282.3 785.6,282.4 786.1,282.5 786.6,282.7 787.1,282.9 787.6,283.1 788.1,283.4 788.6,283.7 789.1,284.1 789.6,284.4 790.1,284.8 790.6,285.3 791.1,285.8 791.6,286.3 792.1,286.8 792.6,287.4 793.1,288.1 793.6,288.7 794.1,289.4 794.6,290.1 795.1,290.9 795.6,291.7 796.1,292.6 796.6,293.5 797.1,294.5 797.6,295.6 798.1,296.9 798.6,298.3 799.1,299.8 799.6,301.6 800.1,303.4 800.6,305.4 801.1,307.4 801.6,309.5 802.1,311.6 802.6,313.6 803.1,315.4 803.6,317.0 804.1,318.4 804.6,319.5 805.1,320.3 805.6,320.9 806.1,321.3 806.6,321.5 807.1,321.6 807.6,321.6 808.1,321.6 808.6,321.7 809.1,321.8 809.6,322.1 810.1,322.5 810.6,323.1 811.1,323.7 811.6,324.5 812.1,325.4 812.6,326.4 813.1,327.5 813.6,328.6 814.1,329.8 814.6,331.1 815.1,332.4 815.6,333.9 816.1,335.4 816.6,337.1 817.1,338.9 817.6,340.9 818.1,343.1 818.6,345.5 819.1,348.1 819.6,351.0 820.1,354.0 820.6,357.2 821.1,360.5 821.6,363.8 822.1,367.0 822.6,369.9 823.1,372.2 823.6,373.8 824.1,374.1 824.6,372.8 825.1,369.7 825.6,365.7 826.1,360.9 826.6,355.6 827.1,350.1 827.6,344.6 828.1,339.2 828.6,333.9 829.1,329.0 829.6,324.3 830.1,320.0 830.6,316.1 831.1,312.5 831.6,309.3 832.1,306.4 832.6,303.8 833.1,301.6 833.6,299.6 834.1,297.9 834.6,296.5 835.1,295.3 835.6,294.2 836.1,293.4 836.6,292.7 837.1,292.2 837.6,291.8 838.1,291.5 838.6,291.3 839.1,291.3 839.6,291.4 840.1,291.5 840.6,291.8 841.1,292.1 841.6,292.6 842.1,293.2 842.6,293.9 843.1,294.8 843.6,295.8 844.1,296.9 844.6,298.2 845.1,299.7 845.6,301.4 846.1,303.2 846.6,305.3 847.1,307.5 847.6,309.9 848.1,312.5 848.6,315.4 849.1,318.3 849.6,321.5 850.1,324.7 850.6,328.1 851.1,331.5 851.6,334.8 852.1,338.0 852.6,340.9 853.1,343.5 853.6,345.5 854.1,346.7 854.6,346.6 855.1,345.7 855.6,344.2 856.1,342.2 856.6,340.0 857.1,337.7 857.6,335.3 858.1,332.9 858.6,330.6 859.1,328.5 859.6,326.6 860.1,324.9 860.6,323.4 861.1,322.2 861.6,321.2 862.1,320.5 862.6,320.0 863.1,319.8 863.6,319.9 864.1,320.2 864.6,320.7 865.1,321.4 865.6,322.4 866.1,323.5 866.6,324.8 867.1,326.3 867.6,327.9 868.1,329.6 868.6,331.4 869.1,333.4 869.6,335.3 870.1,337.4 870.6,339.5 871.1,341.6 871.6,343.7 872.1,345.8 872.6,348.0 873.1,350.2 873.6,352.5 874.1,354.9 874.6,357.3 875.1,359.9 875.6,362.5 876.1,365.3 876.6,368.1 877.1,371.0 877.6,374.0 878.1,377.1 878.6,380.1 879.1,383.0 879.6,385.8 880.1,388.3 880.6,390.6 881.1,392.5 881.6,394.0 882.1,395.1 882.6,395.5 883.1,395.4 883.6,394.7 884.1,393.4 884.6,391.6 885.1,389.3 885.6,386.5 886.1,383.4 886.6,379.9 887.1,376.2 887.6,372.4 888.1,368.5 888.6,364.5 889.1,360.6 889.6,356.8 890.1,353.0 890.6,349.4 891.1,346.0 891.6,342.7 892.1,339.7 892.6,336.9 893.1,334.3 893.6,331.9 894.1,329.9 894.6,328.1 895.1,326.6 895.6,325.4 896.1,324.5 896.6,324.0 897.1,323.8 897.6,323.9 898.1,324.4 898.6,325.2 899.1,326.3 899.6,327.6 900.1,329.2 900.6,331.0 901.1,332.9 901.6,334.8 902.1,336.8 902.6,338.6 903.1,340.3 903.6,341.8 904.1,343.0 904.6,343.8 905.1,344.3 905.6,344.4 906.1,344.1 906.6,343.3 907.1,342.2 907.6,340.8 908.1,339.0 908.6,337.1 909.1,335.0 909.6,332.7 910.1,330.4 910.6,328.2 911.1,326.0 911.6,323.9 912.1,321.9 912.6,320.1 913.1,318.5 913.6,317.0 914.1,315.7 914.6,314.5 915.1,313.5 915.6,312.5 916.1,311.7 916.6,310.9 917.1,310.1 917.6,309.4 918.1,308.6 918.6,307.8 919.1,307.1 919.6,306.3 920.1,305.5 920.6,304.6 921.1,303.8 921.6,302.9 922.1,302.1 922.6,301.2 923.1,300.3 923.6,299.5 924.1,298.6 924.6,297.8 925.1,297.0 925.6,296.2 926.1,295.5 926.6,294.7 927.1,294.0 927.6,293.3 928.1,292.7 928.6,292.1 929.1,291.5 929.6,290.9 930.1,290.3 930.6,289.8 931.1,289.3 931.6,288.8 932.1,288.4 932.6,288.0 933.1,287.6 933.6,287.2 934.1,286.8 934.6,286.4 935.1,286.1 935.6,285.8 936.1,285.5 936.6,285.2 937.1,284.9 937.6,284.7 938.1,284.4 938.6,284.2 939.1,284.0 939.6,283.8 940.1,283.6 940.6,283.4 941.1,283.2 941.6,283.0 942.1,282.9 942.6,282.7 943.1,282.6 943.6,282.5 944.1,282.3 944.6,282.2 945.1,282.1 945.6,282.1 946.1,282.0 946.6,281.9 947.1,281.9 947.6,281.8 948.1,281.8 948.6,281.8 949.1,281.8 949.6,281.8 950.1,281.8 950.6,281.9 951.1,281.9 951.6,282.0 952.1,282.2 952.6,282.3 953.1,282.4 953.6,282.6 954.1,282.8 954.6,283.0 955.1,283.2 955.6,283.4 956.1,283.6 956.6,283.8 957.1,283.8 957.6,283.9 958.1,283.8 958.6,283.7 959.1,283.5 959.6,283.2 960.1,282.9 960.6,282.6 961.1,282.3 961.6,282.0 962.1,281.7 962.6,281.4 963.1,281.2 963.6,280.9 964.1,280.7 964.6,280.5 965.1,280.4 965.6,280.3 966.1,280.2 966.6,280.1 967.1,280.1 967.6,280.1 968.1,280.1 968.6,280.1 969.1,280.2 969.6,280.3 970.1,280.3 970.6,280.5 971.1,280.6 971.6,280.7 972.1,280.9 972.6,281.1 973.1,281.2 973.6,281.4 974.1,281.5 974.6,281.7 975.1,281.8 975.6,282.0 976.1,282.1 976.6,282.2 977.1,282.2 977.6,282.3 978.1,282.3 978.6,282.2 979.1,282.2 979.6,282.1 980.1,282.0 980.6,281.8 981.1,281.6 981.6,281.5 982.1,281.2 982.6,281.0 983.1,280.8 983.6,280.5 984.1,280.3 984.6,280.0 985.1,279.7 985.6,279.5 986.1,279.3 986.6,279.0 987.1,278.8 987.6,278.6 988.1,278.4 988.6,278.2 989.1,278.0 989.6,277.9 990.1,277.7 990.6,277.6 991.1,277.5 991.6,277.4 992.1,277.3 992.6,277.2 993.1,277.2 993.6,277.2 994.1,277.1 994.6,277.1 995.1,277.2 995.6,277.2 996.1,277.3 996.6,277.4 997.1,277.6 997.6,277.8 998.1,278.0 998.6,278.3 999.1,278.7 999.6,279.2 1000.1,279.7 1000.6,280.2 1001.1,280.9 1001.6,281.6 1002.1,282.4 1002.6,283.2 1003.1,284.1 1003.6,284.9 1004.1,285.8 1004.6,286.6 1005.1,287.4 1005.6,288.2 1006.1,288.8 1006.6,289.3 1007.1,289.7 1007.6,290.0 1008.1,290.0 1008.6,290.0 1009.1,289.8 1009.6,289.4 1010.1,288.9 1010.6,288.3 1011.1,287.5 1011.6,286.7 1012.1,285.9 1012.6,285.0 1013.1,284.1 1013.6,283.2 1014.1,282.4 1014.6,281.6 1015.1,280.8 1015.6,280.1 1016.1,279.5 1016.6,279.0 1017.1,278.5 1017.6,278.1 1018.1,277.7 1018.6,277.4 1019.1,277.2 1019.6,277.0 1020.1,276.8 1020.6,276.7 1021.1,276.6 1021.6,276.5 1022.1,276.4 1022.6,276.4 1023.1,276.4 1023.6,276.3 1024.1,276.3 1024.6,276.3 1025.1,276.3 1025.6,276.3 1026.1,276.3 1026.6,276.3 1027.1,276.2 1027.6,276.2 1028.1,276.2 1028.6,276.2 1029.1,276.2 1029.6,276.2 1030.1,276.2 1030.6,276.2 1031.1,276.2 1031.6,276.2 1032.1,276.2 1032.6,276.2 1033.1,276.2 1033.6,276.2 1034.1,276.2 1034.6,276.2 1035.1,276.2 1035.6,276.2 1036.1,276.2 1036.6,276.2 1037.1,276.2 1037.6,276.2 1038.1,276.2 1038.6,276.2 1039.1,276.2 1039.6,276.2 1040.1,276.2 1040.6,276.2 1041.1,276.2 1041.6,276.2 1042.1,276.2 1042.6,276.2 1043.1,276.2 1043.6,276.2 1044.1,276.2 1044.6,276.2 1045.1,276.2 1045.6,276.2 1046.1,276.2 1046.6,276.2 1047.1,276.2 1047.6,276.2 1048.1,276.2 1048.6,276.2 1049.1,276.2 1049.6,276.2 1050.1,276.2 1050.6,276.2 1051.1,276.2 1051.6,276.3 1052.1,276.3 1052.6,276.3 1053.1,276.3 1053.6,276.3 1054.1,276.3 1054.6,276.3 1055.1,276.3 1055.6,276.3 1056.1,276.3 1056.6,276.3 1057.1,276.3 1057.6,276.4 1058.1,276.4 1058.6,276.4 1059.1,276.4 1059.6,276.5 1060.1,276.5 1060.6,276.6 1061.1,276.6 1061.6,276.7 1062.1,276.8 1062.6,276.9 1063.1,277.1 1063.6,277.3 1064.1,277.5 1064.6,277.8 1065.1,278.1 1065.6,278.5 1066.1,279.0 1066.6,279.5 1067.1,280.0 1067.6,280.7 1068.1,281.4 1068.6,282.1 1069.1,282.9 1069.6,283.7 1070.1,284.5 1070.6,285.4 1071.1,286.2 1071.6,286.9 1072.1,287.6 1072.6,288.3 1073.1,288.8 1073.6,289.2 1074.1,289.5 1074.6,289.6 1075.1,289.6 1075.6,289.5 1076.1,289.2 1076.6,288.8 1077.1,288.3 1077.6,287.8 1078.1,287.1 1078.6,286.5 1079.1,285.8 1079.6,285.2 1080.1,284.7 1080.6,284.2 1081.1,283.8 1081.6,283.6 1082.1,283.5 1082.6,283.4 1083.1,283.5 1083.6,283.5 1084.1,283.6 1084.6,283.5 1085.1,283.4 1085.6,283.2 1086.1,282.9 1086.6,282.5 1087.1,282.0 1087.6,281.6 1088.1,281.1 1088.6,280.6 1089.1,280.3 1089.6,280.0 1090.1,279.8 1090.6,279.7 1091.1,279.6 1091.6,279.6 1092.1,279.7 1092.6,279.8 1093.1,279.9 1093.6,280.0 1094.1,280.1 1094.6,280.3 1095.1,280.4 1095.6,280.6 1096.1,280.8 1096.6,280.9 1097.1,281.1 1097.6,281.3 1098.1,281.5 1098.6,281.7 1099.1,281.9 1099.6,282.1 1100.1,282.3 1100.6,282.5 1101.1,282.7 1101.6,282.9 1102.1,283.1 1102.6,283.4 1103.1,283.6 1103.6,283.8 1104.1,284.0 1104.6,284.2 1105.1,284.5 1105.6,284.7 1106.1,284.9 1106.6,285.1 1107.1,285.3 1107.6,285.4 1108.1,285.6 1108.6,285.7 1109.1,285.9 1109.6,286.0 1110.1,286.1 1110.6,286.2 1111.1,286.3 1111.6,286.3 1112.1,286.3 1112.6,286.3 1113.1,286.3 1113.6,286.3 1114.1,286.2 1114.6,286.2 1115.1,286.1 1115.6,286.0 1116.1,285.8 1116.6,285.7 1117.1,285.5 1117.6,285.4 1118.1,285.2 1118.6,285.0 1119.1,284.8 1119.6,284.5 1120.1,284.3 1120.6,284.1 1121.1,283.9 1121.6,283.6 1122.1,283.4 1122.6,283.2 1123.1,282.9 1123.6,282.7 1124.1,282.5 1124.6,282.2 1125.1,282.0 1125.6,281.8 1126.1,281.6 1126.6,281.4 1127.1,281.1 1127.6,280.9 1128.1,280.7 1128.6,280.5 1129.1,280.4 1129.6,280.2 1130.1,280.0 1130.6,279.8 1131.1,279.7 1131.6,279.5 1132.1,279.3 1132.6,279.2 1133.1,279.0 1133.6,278.9 1134.1,278.7 1134.6,278.6 1135.1,278.5 1135.6,278.3 1136.1,278.2 1136.6,278.1 1137.1,278.0 1137.6,277.9 1138.1,277.8 1138.6,277.7 1139.1,277.6 1139.6,277.5 1140.1,277.4 1140.6,277.3 1141.1,277.2 1141.6,277.1 1142.1,277.0 1142.6,276.9 1143.1,276.9 1143.6,276.8 1144.1,276.7 1144.6,276.6 1145.1,276.6 1145.6,276.5 1146.1,276.4 1146.6,276.4 1147.1,276.3 1147.6,276.3 1148.1,276.2 1148.6,276.1 1149.1,276.1 1149.6,276.0 1150.1,276.0 1150.6,275.9 1151.1,275.9 1151.6,275.8 1152.1,275.8 1152.6,275.7 1153.1,275.7 1153.6,275.7 1154.1,275.6 1154.6,275.6 1155.1,275.5 1155.6,275.5 1156.1,275.4 1156.6,275.4 1157.1,275.4 1157.6,275.3 1158.1,275.3 1158.6,275.3 1159.1,275.2 1159.6,275.2 1160.1,275.2 1160.6,275.1 1161.1,275.1 1161.6,275.1 1162.1,275.0 1162.6,275.0 1163.1,275.0 1163.6,275.0 1164.1,274.9 1164.6,274.9 1165.1,274.9 1165.6,274.8 1166.1,274.8 1166.6,274.8 1167.1,274.8"/>
<path d="M218.7,271.9 219.2,271.9 219.7,271.8 220.2,271.8 220.7,271.7 221.2,271.7 221.7,271.6 222.2,271.6 222.7,271.5 223.2,271.5 223.7,271.4 224.2,271.4 224.7,271.4 225.2,271.3 225.7,271.3 226.2,271.3 226.7,271.2 227.2,271.2 227.7,271.2 228.2,271.1 228.7,271.1 229.2,271.1 229.7,271.0 230.2,271.0 230.7,271.0 231.2,271.0 231.7,270.9 232.2,270.9 232.7,270.9 233.2,270.9 233.7,270.9 234.2,270.8 234.7,270.8 235.2,270.8 235.7,270.8 236.2,270.8 236.7,270.8 237.2,270.8 237.7,270.8 238.2,270.8 238.7,270.8 239.2,270.8 239.7,270.8 240.2,270.8 240.7,270.8 241.2,270.8 241.7,270.8 242.2,270.8 242.7,270.8 243.2,270.8 243.7,270.8 244.2,270.8 244.7,270.8 245.2,270.8 245.7,270.8 246.2,270.8 246.7,270.8 247.2,270.8 247.7,270.8 248.2,270.8 248.7,270.9 249.2,270.9 249.7,270.9 250.2,270.9 250.7,271.0 251.2,271.0 251.7,271.1 252.2,271.3 252.7,271.5 253.2,271.6 253.7,271.9 254.2,272.1 254.7,272.6 255.2,273.2 255.7,273.9 256.2,274.7 256.7,275.5 257.2,276.3 257.7,277.3 258.2,278.4 258.7,279.5 259.2,280.4 259.7,280.9 260.2,280.9 260.7,280.4 261.2,279.4 261.7,278.5 262.2,277.7 262.7,277.0 263.2,276.3 263.7,275.8 264.2,275.8 264.7,275.9 265.2,276.2 265.7,276.5 266.2,276.9 266.7,277.3 267.2,277.7 267.7,278.2 268.2,278.8 268.7,279.4 269.2,280.0 269.7,280.4 270.2,280.7 270.7,280.7 271.2,280.4 271.7,279.8 272.2,279.1 272.7,278.4 273.2,277.8 273.7,277.2 274.2,276.6 274.7,276.1 275.2,275.6 275.7,275.2 276.2,274.9 276.7,274.7 277.2,274.4 277.7,274.2 278.2,274.1 278.7,273.9 279.2,273.8 279.7,273.8 280.2,273.8 280.7,273.8 281.2,273.9 281.7,274.1 282.2,274.2 282.7,274.4 283.2,274.6 283.7,274.8 284.2,275.0 284.7,275.2 285.2,275.2 285.7,274.9 286.2,274.3 286.7,273.7 287.2,273.2 287.7,272.9 288.2,272.7 288.7,272.5 289.2,272.4 289.7,272.2 290.2,272.1 290.7,272.0 291.2,271.9 291.7,271.8 292.2,271.8 292.7,271.7 293.2,271.7 293.7,271.7 294.2,271.7 294.7,271.6 295.2,271.6 295.7,271.6 296.2,271.6 296.7,271.6 297.2,271.6 297.7,271.6 298.2,271.6 298.7,271.5 299.2,271.5 299.7,271.5 300.2,271.5 300.7,271.5 301.2,271.4 301.7,271.4 302.2,271.4 302.7,271.4 303.2,271.4 303.7,271.3 304.2,271.3 304.7,271.3 305.2,271.3 305.7,271.2 306.2,271.2 306.7,271.2 307.2,271.1 307.7,271.1 308.2,271.1 308.7,271.1 309.2,271.0 309.7,271.0 310.2,271.0 310.7,270.9 311.2,270.9 311.7,270.9 312.2,270.8 312.7,270.8 313.2,270.8 313.7,270.7 314.2,270.7 314.7,270.7 315.2,270.6 315.7,270.6 316.2,270.6 316.7,270.5 317.2,270.5 317.7,270.4 318.2,270.4 318.7,270.4 319.2,270.3 319.7,270.3 320.2,270.2"/>
<path d="M340.1,393.2 340.6,393.2 341.1,393.2 341.6,393.2 342.1,393.2 342.6,393.2 343.1,393.2 343.6,393.2 344.1,393.2 344.6,393.2 345.1,393.2 345.6,393.2 346.1,393.2 346.6,393.2 347.1,393.2 347.6,393.2 348.1,393.2 348.6,393.2 349.1,393.3 349.6,393.3 350.1,393.3 350.6,393.3 351.1,393.3 351.6,393.3 352.1,393.3 352.6,393.3 353.1,393.3 353.6,393.3 354.1,393.3 354.6,393.3 355.1,393.3 355.6,393.3 356.1,393.3 356.6,393.3 357.1,393.3 357.6,393.3 358.1,393.3 358.6,393.3 359.1,393.3 359.6,393.3 360.1,393.3 360.6,393.3 361.1,393.3 361.6,393.3 362.1,393.3 362.6,393.3 363.1,393.3 363.6,393.3 364.1,393.3 364.6,393.3 365.1,393.3 365.6,393.3 366.1,393.3 366.6,393.3 367.1,393.3 367.6,393.4 368.1,393.4 368.6,393.4 369.1,393.4 369.6,393.4 370.1,393.4 370.6,393.4 371.1,393.4 371.6,393.4 372.1,393.4 372.6,393.4 373.1,393.4 373.6,393.4 374.1,393.4 374.6,393.4 375.1,393.4 375.6,393.4 376.1,393.4 376.6,393.4 377.1,393.4 377.6,393.4 378.1,393.4 378.6,393.4 379.1,393.4 379.6,393.4 380.1,393.4 380.6,393.4 381.1,393.4 381.6,393.5 382.1,393.5 382.6,393.5 383.1,393.5 383.6,393.5 384.1,393.5 384.6,393.5 385.1,393.5 385.6,393.5 386.1,393.5 386.6,393.5 387.1,393.5 387.6,393.5 388.1,393.5 388.6,393.5 389.1,393.5 389.6,393.5 390.1,393.5 390.6,393.5 391.1,393.5 391.6,393.5 392.1,393.5 392.6,393.6 393.1,393.6 393.6,393.6 394.1,393.6 394.6,393.6 395.1,393.6 395.6,393.6 396.1,393.6 396.6,393.6 397.1,393.6 397.6,393.6 398.1,393.6 398.6,393.6 399.1,393.6 399.6,393.6 400.1,393.6 400.6,393.6 401.1,393.7 401.6,393.7 402.1,393.7 402.6,393.7 403.1,393.7 403.6,393.7 404.1,393.7 404.6,393.7 405.1,393.7 405.6,393.7 406.1,393.7 406.6,393.7 407.1,393.7 407.6,393.7 408.1,393.7 408.6,393.8 409.1,393.8 409.6,393.8 410.1,393.8 410.6,393.8 411.1,393.8 411.6,393.8 412.1,393.8 412.6,393.8 413.1,393.8 413.6,393.8 414.1,393.8 414.6,393.9 415.1,393.9 415.6,393.9 416.1,393.9 416.6,393.9 417.1,393.9 417.6,393.9 418.1,393.9 418.6,393.9 419.1,393.9 419.6,394.0 420.1,394.0 420.6,394.0 421.1,394.0 421.6,394.0 422.1,394.0 422.6,394.0 423.1,394.0 423.6,394.0 424.1,394.1 424.6,394.1 425.1,394.1 425.6,394.1 426.1,394.1 426.6,394.1 427.1,394.1 427.6,394.1 428.1,394.2 428.6,394.2 429.1,394.2 429.6,394.2 430.1,394.2 430.6,394.2 431.1,394.3 431.6,394.3 432.1,394.3 432.6,394.3 433.1,394.3 433.6,394.3 434.1,394.4 434.6,394.4 435.1,394.4 435.6,394.4 436.1,394.4 436.6,394.4 437.1,394.5 437.6,394.5 438.1,394.5 438.6,394.5 439.1,394.5 439.6,394.6 440.1,394.6 440.6,394.6 441.1,394.6 441.6,394.7 442.1,394.7 442.6,394.7 443.1,394.7 443.6,394.8 444.1,394.8 444.6,394.8 445.1,394.8 445.6,394.9 446.1,394.9 446.6,394.9 447.1,395.0 447.6,395.0 448.1,395.0 448.6,395.1 449.1,395.1 449.6,395.1 450.1,395.2 450.6,395.2 451.1,395.3 451.6,395.3 452.1,395.3 452.6,395.4 453.1,395.4 453.6,395.5 454.1,395.6 454.6,395.6 455.1,395.7 455.6,395.8 456.1,395.9 456.6,395.9 457.1,396.0 457.6,396.2 458.1,396.3 458.6,396.4 459.1,396.6 459.6,396.8 460.1,397.0 460.6,397.2 461.1,397.5 461.6,397.8 462.1,398.1 462.6,398.5 463.1,398.9 463.6,399.3 464.1,399.8 464.6,400.3 465.1,400.9 465.6,401.6 466.1,402.3 466.6,403.1 467.1,403.9 467.6,404.8 468.1,405.7 468.6,406.7 469.1,407.8 469.6,408.9 470.1,410.1 470.6,411.3 471.1,412.6 471.6,413.9 472.1,415.2 472.6,416.6 473.1,418.1 473.6,419.5 474.1,421.0 474.6,422.6 475.1,424.2 475.6,425.9 476.1,427.6 476.6,429.4 477.1,431.3 477.6,433.3 478.1,435.3 478.6,437.5 479.1,439.8 479.6,442.1 480.1,444.6 480.6,447.1 481.1,449.6 481.6,452.2 482.1,454.7 482.6,457.1 483.1,459.4 483.6,461.5 484.1,463.3 484.6,464.9 485.1,466.1 485.6,467.0 486.1,467.5 486.6,467.5 487.1,467.2 487.6,466.4 488.1,465.3 488.6,463.9 489.1,462.1 489.6,460.1 490.1,457.9 490.6,455.6 491.1,453.1 491.6,450.6 492.1,448.0 492.6,445.4 493.1,442.5 493.6,439.3 494.1,436.1 494.6,432.9 495.1,430.0 495.6,427.2 496.1,424.6 496.6,422.2 497.1,420.0 497.6,418.0 498.1,416.3 498.6,414.7 499.1,413.3 499.6,412.0 500.1,410.9 500.6,409.8 501.1,408.9 501.6,408.1 502.1,407.4 502.6,406.7 503.1,406.1 503.6,405.5 504.1,405.0 504.6,404.5 505.1,404.0 505.6,403.6 506.1,403.2 506.6,402.9 507.1,402.6 507.6,402.2 508.1,402.0 508.6,401.7 509.1,401.4 509.6,401.2 510.1,401.0 510.6,400.8 511.1,400.6 511.6,400.4 512.1,400.2 512.6,400.0 513.1,399.9 513.6,399.7 514.1,399.6 514.6,399.5 515.1,399.4 515.6,399.2 516.1,399.1 516.6,399.0 517.1,399.0 517.6,398.9 518.1,398.8 518.6,398.7 519.1,398.7 519.6,398.6 520.1,398.6 520.6,398.5 521.1,398.5 521.6,398.5 522.1,398.4 522.6,398.4 523.1,398.4 523.6,398.4 524.1,398.4 524.6,398.4 525.1,398.4 525.6,398.4 526.1,398.4 526.6,398.4 527.1,398.4 527.6,398.4 528.1,398.5 528.6,398.5 529.1,398.6 529.6,398.6 530.1,398.7 530.6,398.7 531.1,398.8 531.6,398.8 532.1,398.9 532.6,399.0 533.1,399.1 533.6,399.1 534.1,399.2 534.6,399.3 535.1,399.4 535.6,399.5 536.1,399.6 536.6,399.6 537.1,399.7 537.6,399.8 538.1,399.9 538.6,400.0 539.1,400.1 539.6,400.1 540.1,400.2 540.6,400.2 541.1,400.3 541.6,400.3 542.1,400.3 542.6,400.4 543.1,400.4 543.6,400.3 544.1,400.3 544.6,400.3 545.1,400.2 545.6,400.2 546.1,400.1 546.6,400.0 547.1,399.9 547.6,399.8 548.1,399.7 548.6,399.6 549.1,399.5 549.6,399.4 550.1,399.2 550.6,399.1 551.1,399.0 551.6,398.9 552.1,398.7 552.6,398.6 553.1,398.5 553.6,398.3 554.1,398.2 554.6,398.1 555.1,398.0 555.6,397.8 556.1,397.7 556.6,397.6 557.1,397.5 557.6,397.4 558.1,397.3 558.6,397.2 559.1,397.1 559.6,397.0 560.1,396.9 560.6,396.8 561.1,396.7 561.6,396.6 562.1,396.6 562.6,396.5 563.1,396.4 563.6,396.3 564.1,396.3 564.6,396.2 565.1,396.1 565.6,396.1 566.1,396.0 566.6,396.0 567.1,395.9 567.6,395.9 568.1,395.8 568.6,395.8 569.1,395.7 569.6,395.7 570.1,395.6 570.6,395.6 571.1,395.6 571.6,395.5 572.1,395.5 572.6,395.4 573.1,395.4 573.6,395.4 574.1,395.3 574.6,395.3 575.1,395.3 575.6,395.3 576.1,395.2 576.6,395.2 577.1,395.2 577.6,395.2 578.1,395.1 578.6,395.1 579.1,395.1 579.6,395.1 580.1,395.0 580.6,395.0 581.1,395.0 581.6,395.0 582.1,395.0 582.6,395.0 583.1,394.9 583.6,394.9 584.1,394.9 584.6,394.9 585.1,394.9 585.6,394.9 586.1,394.8 586.6,394.8 587.1,394.8 587.6,394.8 588.1,394.8 588.6,394.8 589.1,394.8 589.6,394.8 590.1,394.7 590.6,394.7 591.1,394.7 591.6,394.7 592.1,394.7 592.6,394.7 593.1,394.7 593.6,394.7 594.1,394.7 594.6,394.7 595.1,394.7 595.6,394.7 596.1,394.6 596.6,394.6 597.1,394.6 597.6,394.6 598.1,394.6 598.6,394.6 599.1,394.6 599.6,394.6 600.1,394.6 600.6,394.6 601.1,394.6 601.6,394.6 602.1,394.6 602.6,394.6 603.1,394.6 603.6,394.6 604.1,394.6 604.6,394.6 605.1,394.6 605.6,394.6 606.1,394.6 606.6,394.6 607.1,394.6 607.6,394.6 608.1,394.6 608.6,394.6 609.1,394.6 609.6,394.6 610.1,394.6 610.6,394.6 611.1,394.6 611.6,394.6 612.1,394.6 612.6,394.6 613.1,394.6 613.6,394.6 614.1,394.6 614.6,394.6 615.1,394.6 615.6,394.6 616.1,394.6 616.6,394.6 617.1,394.6 617.6,394.6 618.1,394.6 618.6,394.6 619.1,394.6 619.6,394.6 620.1,394.6 620.6,394.6 621.1,394.6 621.6,394.6 622.1,394.6 622.6,394.6 623.1,394.6 623.6,394.6 624.1,394.6 624.6,394.6 625.1,394.6 625.6,394.6 626.1,394.6 626.6,394.6 627.1,394.7 627.6,394.7 628.1,394.7 628.6,394.7 629.1,394.7 629.6,394.7 630.1,394.7 630.6,394.7 631.1,394.7 631.6,394.7 632.1,394.7 632.6,394.8 633.1,394.8 633.6,394.8 634.1,394.8 634.6,394.8 635.1,394.8 635.6,394.8 636.1,394.9 636.6,394.9 637.1,394.9 637.6,394.9 638.1,394.9 638.6,394.9 639.1,395.0 639.6,395.0 640.1,395.0 640.6,395.0 641.1,395.1 641.6,395.1 642.1,395.1 642.6,395.2 643.1,395.2 643.6,395.2 644.1,395.3 644.6,395.3 645.1,395.4 645.6,395.4 646.1,395.5 646.6,395.5 647.1,395.6 647.6,395.7 648.1,395.8 648.6,395.9 649.1,396.0 649.6,396.2 650.1,396.3 650.6,396.5 651.1,396.7 651.6,397.0 652.1,397.3 652.6,397.6 653.1,397.9 653.6,398.3 654.1,398.7 654.6,399.2 655.1,399.7 655.6,400.3 656.1,400.9 656.6,401.5 657.1,402.2 657.6,402.9 658.1,403.7 658.6,404.4 659.1,405.2 659.6,406.0 660.1,406.7 660.6,407.4 661.1,408.1 661.6,408.7 662.1,409.1 662.6,409.4 663.1,409.6 663.6,409.7 664.1,409.5 664.6,409.2 665.1,408.8 665.6,408.3 666.1,407.7 666.6,407.0 667.1,406.3 667.6,405.5 668.1,404.8 668.6,404.0 669.1,403.3 669.6,402.6 670.1,401.9 670.6,401.3 671.1,400.7 671.6,400.1 672.1,399.6 672.6,399.2 673.1,398.8 673.6,398.4 674.1,398.1 674.6,397.8 675.1,397.5 675.6,397.3 676.1,397.1 676.6,397.0 677.1,396.8 677.6,396.7 678.1,396.6 678.6,396.5 679.1,396.4 679.6,396.4 680.1,396.3 680.6,396.3 681.1,396.3 681.6,396.2 682.1,396.2 682.6,396.2 683.1,396.2 683.6,396.2 684.1,396.2 684.6,396.2 685.1,396.2 685.6,396.3 686.1,396.3 686.6,396.3 687.1,396.3 687.6,396.4 688.1,396.4 688.6,396.5 689.1,396.5 689.6,396.6 690.1,396.6 690.6,396.7 691.1,396.8 691.6,396.9 692.1,397.0 692.6,397.1 693.1,397.3 693.6,397.5 694.1,397.7 694.6,397.9 695.1,398.2 695.6,398.5 696.1,398.9 696.6,399.3 697.1,399.8 697.6,400.3 698.1,400.9 698.6,401.6 699.1,402.2 699.6,402.9 700.1,403.6 700.6,404.4 701.1,405.0 701.6,405.7 702.1,406.2 702.6,406.6 703.1,406.9 703.6,407.1 704.1,407.1 704.6,406.9 705.1,406.7 705.6,406.4 706.1,406.1 706.6,405.8 707.1,405.5 707.6,405.3 708.1,405.1 708.6,404.9 709.1,404.8 709.6,404.8 710.1,404.9 710.6,405.0 711.1,405.2 711.6,405.5 712.1,405.8 712.6,406.1 713.1,406.5 713.6,406.9 714.1,407.3 714.6,407.6 715.1,408.0 715.6,408.3 716.1,408.5 716.6,408.6 717.1,408.7 717.6,408.6 718.1,408.5 718.6,408.3 719.1,408.0 719.6,407.6 720.1,407.2 720.6,406.7 721.1,406.2 721.6,405.7 722.1,405.2 722.6,404.7 723.1,404.2 723.6,403.8 724.1,403.3 724.6,402.9 725.1,402.5 725.6,402.1 726.1,401.8 726.6,401.4 727.1,401.1 727.6,400.8 728.1,400.6 728.6,400.3 729.1,400.1 729.6,399.9 730.1,399.7 730.6,399.6 731.1,399.4 731.6,399.3 732.1,399.2 732.6,399.1 733.1,399.0 733.6,398.9 734.1,398.8 734.6,398.8 735.1,398.7 735.6,398.7 736.1,398.7 736.6,398.7 737.1,398.7 737.6,398.7 738.1,398.7 738.6,398.7 739.1,398.8 739.6,398.8 740.1,398.9 740.6,399.0 741.1,399.0 741.6,399.1 742.1,399.2 742.6,399.4 743.1,399.5 743.6,399.6 744.1,399.8 744.6,399.9 745.1,400.1 745.6,400.2 746.1,400.4 746.6,400.5 747.1,400.6 747.6,400.8 748.1,400.8 748.6,400.9 749.1,400.9 749.6,400.9 750.1,400.9 750.6,400.9 751.1,400.8 751.6,400.7 752.1,400.6 752.6,400.5 753.1,400.3 753.6,400.2 754.1,400.1 754.6,399.9 755.1,399.8 755.6,399.7 756.1,399.6 756.6,399.5 757.1,399.5 757.6,399.4 758.1,399.4 758.6,399.4 759.1,399.3 759.6,399.4 760.1,399.4 760.6,399.4 761.1,399.5 761.6,399.5 762.1,399.6 762.6,399.7 763.1,399.8 763.6,400.0 764.1,400.1 764.6,400.3 765.1,400.5 765.6,400.6 766.1,400.8 766.6,401.0 767.1,401.3 767.6,401.5 768.1,401.7 768.6,401.9 769.1,402.1 769.6,402.4 770.1,402.6 770.6,402.8 771.1,402.9 771.6,403.1 772.1,403.2 772.6,403.3 773.1,403.4 773.6,403.4 774.1,403.4 774.6,403.3 775.1,403.3 775.6,403.2 776.1,403.1 776.6,402.9 777.1,402.8 777.6,402.6 778.1,402.5 778.6,402.4 779.1,402.2 779.6,402.1 780.1,402.0 780.6,401.9 781.1,401.8 781.6,401.7 782.1,401.6 782.6,401.6 783.1,401.6 783.6,401.6 784.1,401.6 784.6,401.6 785.1,401.7 785.6,401.8 786.1,401.9 786.6,402.1 787.1,402.2 787.6,402.4 788.1,402.6 788.6,402.9 789.1,403.2 789.6,403.5 790.1,403.9 790.6,404.2 791.1,404.6 791.6,405.1 792.1,405.5 792.6,406.0 793.1,406.6 793.6,407.1 794.1,407.7 794.6,408.2 795.1,408.8 795.6,409.4 796.1,410.0 796.6,410.6 797.1,411.3 797.6,411.9 798.1,412.6 798.6,413.3 799.1,414.0 799.6,414.8 800.1,415.5 800.6,416.4 801.1,417.2 801.6,418.0 802.1,418.7 802.6,419.4 803.1,420.1 803.6,420.6 804.1,421.0 804.6,421.4 805.1,421.6 805.6,421.7 806.1,421.8 806.6,421.8 807.1,421.7 807.6,421.7 808.1,421.6 808.6,421.6 809.1,421.7 809.6,421.8 810.1,422.0 810.6,422.3 811.1,422.7 811.6,423.1 812.1,423.5 812.6,424.1 813.1,424.7 813.6,425.3 814.1,426.0 814.6,426.7 815.1,427.5 815.6,428.4 816.1,429.3 816.6,430.3 817.1,431.3 817.6,432.5 818.1,433.8 818.6,435.1 819.1,436.6 819.6,438.2 820.1,439.8 820.6,441.5 821.1,443.2 821.6,444.8 822.1,446.3 822.6,447.5 823.1,448.2 823.6,448.4 824.1,447.6 824.6,445.9 825.1,443.6 825.6,441.0 826.1,438.1 826.6,435.1 827.1,432.1 827.6,429.2 828.1,426.4 828.6,423.7 829.1,421.3 829.6,419.0 830.1,416.9 830.6,415.0 831.1,413.4 831.6,411.9 832.1,410.6 832.6,409.4 833.1,408.4 833.6,407.6 834.1,406.9 834.6,406.3 835.1,405.8 835.6,405.4 836.1,405.1 836.6,404.9 837.1,404.7 837.6,404.6 838.1,404.6 838.6,404.6 839.1,404.7 839.6,404.8 840.1,405.0 840.6,405.2 841.1,405.5 841.6,405.9 842.1,406.3 842.6,406.8 843.1,407.4 843.6,408.0 844.1,408.7 844.6,409.5 845.1,410.4 845.6,411.4 846.1,412.4 846.6,413.5 847.1,414.8 847.6,416.1 848.1,417.4 848.6,418.9 849.1,420.4 849.6,421.9 850.1,423.5 850.6,425.1 851.1,426.6 851.6,428.1 852.1,429.4 852.6,430.6 853.1,431.5 853.6,432.0 854.1,432.0 854.6,431.7 855.1,431.1 855.6,430.3 856.1,429.5 856.6,428.6 857.1,427.7 857.6,426.7 858.1,425.9 858.6,425.1 859.1,424.4 859.6,423.8 860.1,423.3 860.6,423.0 861.1,422.7 861.6,422.6 862.1,422.6 862.6,422.8 863.1,423.1 863.6,423.5 864.1,424.0 864.6,424.6 865.1,425.4 865.6,426.2 866.1,427.2 866.6,428.3 867.1,429.4 867.6,430.7 868.1,432.0 868.6,433.3 869.1,434.7 869.6,436.2 870.1,437.7 870.6,439.1 871.1,440.6 871.6,442.1 872.1,443.6 872.6,445.1 873.1,446.6 873.6,448.1 874.1,449.5 874.6,451.0 875.1,452.4 875.6,453.8 876.1,455.2 876.6,456.6 877.1,457.8 877.6,459.0 878.1,460.1 878.6,461.1 879.1,461.9 879.6,462.5 880.1,462.8 880.6,463.0 881.1,462.8 881.6,462.4 882.1,461.7 882.6,460.8 883.1,459.6 883.6,458.2 884.1,456.6 884.6,454.8 885.1,452.9 885.6,450.9 886.1,448.8 886.6,446.7 887.1,444.6 887.6,442.5 888.1,440.4 888.6,438.4 889.1,436.5 889.6,434.6 890.1,432.8 890.6,431.1 891.1,429.5 891.6,428.1 892.1,426.7 892.6,425.5 893.1,424.3 893.6,423.3 894.1,422.5 894.6,421.7 895.1,421.1 895.6,420.6 896.1,420.3 896.6,420.1 897.1,420.1 897.6,420.2 898.1,420.4 898.6,420.7 899.1,421.2 899.6,421.7 900.1,422.3 900.6,423.0 901.1,423.7 901.6,424.4 902.1,425.1 902.6,425.8 903.1,426.4 903.6,426.9 904.1,427.3 904.6,427.6 905.1,427.7 905.6,427.7 906.1,427.6 906.6,427.3 907.1,426.9 907.6,426.4 908.1,425.8 908.6,425.1 909.1,424.3 909.6,423.5 910.1,422.7 910.6,421.8 911.1,421.0 911.6,420.2 912.1,419.4 912.6,418.7 913.1,418.0 913.6,417.4 914.1,416.8 914.6,416.2 915.1,415.7 915.6,415.2 916.1,414.8 916.6,414.3 917.1,413.8 917.6,413.4 918.1,412.9 918.6,412.4 919.1,412.0 919.6,411.5 920.1,411.0 920.6,410.5 921.1,410.0 921.6,409.5 922.1,409.0 922.6,408.5 923.1,408.0 923.6,407.5 924.1,407.1 924.6,406.6 925.1,406.2 925.6,405.8 926.1,405.4 926.6,405.0 927.1,404.6 927.6,404.3 928.1,404.0 928.6,403.7 929.1,403.4 929.6,403.1 930.1,402.8 930.6,402.6 931.1,402.3 931.6,402.1 932.1,401.9 932.6,401.7 933.1,401.5 933.6,401.3 934.1,401.1 934.6,400.9 935.1,400.8 935.6,400.6 936.1,400.5 936.6,400.4 937.1,400.2 937.6,400.1 938.1,400.0 938.6,399.9 939.1,399.8 939.6,399.7 940.1,399.6 940.6,399.5 941.1,399.5 941.6,399.4 942.1,399.3 942.6,399.3 943.1,399.2 943.6,399.2 944.1,399.1 944.6,399.1 945.1,399.1 945.6,399.1 946.1,399.0 946.6,399.0 947.1,399.0 947.6,399.0 948.1,399.1 948.6,399.1 949.1,399.1 949.6,399.2 950.1,399.3 950.6,399.3 951.1,399.4 951.6,399.6 952.1,399.7 952.6,399.8 953.1,400.0 953.6,400.2 954.1,400.4 954.6,400.6 955.1,400.8 955.6,401.0 956.1,401.2 956.6,401.4 957.1,401.5 957.6,401.5 958.1,401.5 958.6,401.4 959.1,401.2 959.6,401.0 960.1,400.8 960.6,400.5 961.1,400.2 961.6,400.0 962.1,399.7 962.6,399.5 963.1,399.3 963.6,399.1 964.1,398.9 964.6,398.7 965.1,398.6 965.6,398.5 966.1,398.4 966.6,398.3 967.1,398.2 967.6,398.2 968.1,398.1 968.6,398.1 969.1,398.1 969.6,398.1 970.1,398.1 970.6,398.1 971.1,398.1 971.6,398.2 972.1,398.2 972.6,398.3 973.1,398.3 973.6,398.4 974.1,398.4 974.6,398.5 975.1,398.5 975.6,398.5 976.1,398.6 976.6,398.6 977.1,398.6 977.6,398.6 978.1,398.6 978.6,398.6 979.1,398.6 979.6,398.6 980.1,398.5 980.6,398.5 981.1,398.4 981.6,398.3 982.1,398.2 982.6,398.1 983.1,398.0 983.6,397.9 984.1,397.8 984.6,397.7 985.1,397.6 985.6,397.5 986.1,397.4 986.6,397.3 987.1,397.2 987.6,397.1 988.1,397.0 988.6,396.9 989.1,396.8 989.6,396.8 990.1,396.7 990.6,396.6 991.1,396.6 991.6,396.5 992.1,396.5 992.6,396.5 993.1,396.5 993.6,396.5 994.1,396.5 994.6,396.5 995.1,396.5 995.6,396.6 996.1,396.6 996.6,396.7 997.1,396.8 997.6,396.9 998.1,397.1 998.6,397.3 999.1,397.5 999.6,397.7 1000.1,397.9 1000.6,398.2 1001.1,398.5 1001.6,398.9 1002.1,399.2 1002.6,399.6 1003.1,400.0 1003.6,400.3 1004.1,400.7 1004.6,401.0 1005.1,401.3 1005.6,401.6 1006.1,401.8 1006.6,402.0 1007.1,402.1 1007.6,402.2 1008.1,402.2 1008.6,402.2 1009.1,402.1 1009.6,401.9 1010.1,401.7 1010.6,401.4 1011.1,401.1 1011.6,400.8 1012.1,400.4 1012.6,400.0 1013.1,399.7 1013.6,399.3 1014.1,398.9 1014.6,398.6 1015.1,398.2 1015.6,397.9 1016.1,397.6 1016.6,397.4 1017.1,397.2 1017.6,397.0 1018.1,396.8 1018.6,396.6 1019.1,396.5 1019.6,396.4 1020.1,396.3 1020.6,396.2 1021.1,396.1 1021.6,396.1 1022.1,396.1 1022.6,396.0 1023.1,396.0 1023.6,396.0 1024.1,396.0 1024.6,396.0 1025.1,395.9 1025.6,395.9 1026.1,395.9 1026.6,395.9 1027.1,395.9 1027.6,395.9 1028.1,395.9 1028.6,395.9 1029.1,395.9 1029.6,395.9 1030.1,395.9 1030.6,395.9 1031.1,395.9 1031.6,395.9 1032.1,395.9 1032.6,395.9 1033.1,395.9 1033.6,395.9 1034.1,395.9 1034.6,395.9 1035.1,395.9 1035.6,395.9 1036.1,395.9 1036.6,395.9 1037.1,395.9 1037.6,395.9 1038.1,395.9 1038.6,395.9 1039.1,395.9 1039.6,395.9 1040.1,395.9 1040.6,395.9 1041.1,395.9 1041.6,395.9 1042.1,395.9 1042.6,395.9 1043.1,395.9 1043.6,395.9 1044.1,395.9 1044.6,395.9 1045.1,395.9 1045.6,395.9 1046.1,395.9 1046.6,395.9 1047.1,395.9 1047.6,395.9 1048.1,395.9 1048.6,395.9 1049.1,395.9 1049.6,395.9 1050.1,395.9 1050.6,395.9 1051.1,395.9 1051.6,395.9 1052.1,395.9 1052.6,396.0 1053.1,396.0 1053.6,396.0 1054.1,396.0 1054.6,396.0 1055.1,396.0 1055.6,396.0 1056.1,396.0 1056.6,396.0 1057.1,396.0 1057.6,396.0 1058.1,396.0 1058.6,396.0 1059.1,396.1 1059.6,396.1 1060.1,396.1 1060.6,396.2 1061.1,396.2 1061.6,396.3 1062.1,396.3 1062.6,396.4 1063.1,396.5 1063.6,396.6 1064.1,396.7 1064.6,396.9 1065.1,397.1 1065.6,397.3 1066.1,397.5 1066.6,397.8 1067.1,398.1 1067.6,398.4 1068.1,398.7 1068.6,399.0 1069.1,399.4 1069.6,399.8 1070.1,400.1 1070.6,400.5 1071.1,400.8 1071.6,401.1 1072.1,401.4 1072.6,401.7 1073.1,401.9 1073.6,402.0 1074.1,402.1 1074.6,402.1 1075.1,402.1 1075.6,402.0 1076.1,401.9 1076.6,401.7 1077.1,401.5 1077.6,401.2 1078.1,401.0 1078.6,400.7 1079.1,400.4 1079.6,400.1 1080.1,399.9 1080.6,399.6 1081.1,399.5 1081.6,399.3 1082.1,399.2 1082.6,399.2 1083.1,399.2 1083.6,399.2 1084.1,399.1 1084.6,399.1 1085.1,399.1 1085.6,399.0 1086.1,398.9 1086.6,398.7 1087.1,398.6 1087.6,398.4 1088.1,398.2 1088.6,398.1 1089.1,397.9 1089.6,397.8 1090.1,397.8 1090.6,397.7 1091.1,397.7 1091.6,397.7 1092.1,397.8 1092.6,397.8 1093.1,397.8 1093.6,397.9 1094.1,398.0 1094.6,398.0 1095.1,398.1 1095.6,398.2 1096.1,398.3 1096.6,398.3 1097.1,398.4 1097.6,398.5 1098.1,398.6 1098.6,398.7 1099.1,398.8 1099.6,398.9 1100.1,399.0 1100.6,399.1 1101.1,399.2 1101.6,399.3 1102.1,399.4 1102.6,399.5 1103.1,399.6 1103.6,399.7 1104.1,399.8 1104.6,399.9 1105.1,400.0 1105.6,400.0 1106.1,400.1 1106.6,400.2 1107.1,400.3 1107.6,400.4 1108.1,400.5 1108.6,400.5 1109.1,400.6 1109.6,400.7 1110.1,400.7 1110.6,400.7 1111.1,400.8 1111.6,400.8 1112.1,400.8 1112.6,400.8 1113.1,400.8 1113.6,400.8 1114.1,400.8 1114.6,400.8 1115.1,400.8 1115.6,400.7 1116.1,400.7 1116.6,400.6 1117.1,400.6 1117.6,400.5 1118.1,400.4 1118.6,400.3 1119.1,400.3 1119.6,400.2 1120.1,400.1 1120.6,400.0 1121.1,399.9 1121.6,399.8 1122.1,399.7 1122.6,399.6 1123.1,399.5 1123.6,399.4 1124.1,399.3 1124.6,399.2 1125.1,399.1 1125.6,399.0 1126.1,398.8 1126.6,398.7 1127.1,398.6 1127.6,398.6 1128.1,398.5 1128.6,398.4 1129.1,398.3 1129.6,398.2 1130.1,398.1 1130.6,398.0 1131.1,397.9 1131.6,397.8 1132.1,397.8 1132.6,397.7 1133.1,397.6 1133.6,397.5 1134.1,397.5 1134.6,397.4 1135.1,397.3 1135.6,397.3 1136.1,397.2 1136.6,397.1 1137.1,397.1 1137.6,397.0 1138.1,397.0 1138.6,396.9 1139.1,396.9 1139.6,396.8 1140.1,396.8 1140.6,396.7 1141.1,396.7 1141.6,396.6 1142.1,396.6 1142.6,396.5 1143.1,396.5 1143.6,396.4 1144.1,396.4 1144.6,396.4 1145.1,396.3 1145.6,396.3 1146.1,396.3 1146.6,396.2 1147.1,396.2 1147.6,396.2 1148.1,396.1 1148.6,396.1 1149.1,396.1 1149.6,396.0 1150.1,396.0 1150.6,396.0 1151.1,396.0 1151.6,395.9 1152.1,395.9 1152.6,395.9 1153.1,395.9 1153.6,395.8 1154.1,395.8 1154.6,395.8 1155.1,395.8 1155.6,395.8 1156.1,395.7 1156.6,395.7 1157.1,395.7 1157.6,395.7 1158.1,395.7 1158.6,395.6 1159.1,395.6 1159.6,395.6 1160.1,395.6 1160.6,395.6 1161.1,395.5 1161.6,395.5 1162.1,395.5 1162.6,395.5 1163.1,395.5 1163.6,395.5 1164.1,395.5 1164.6,395.4 1165.1,395.4 1165.6,395.4 1166.1,395.4 1166.6,395.4 1167.1,395.4"/>
<path d="M218.7,396.3 219.2,396.3 219.7,396.3 220.2,396.3 220.7,396.3 221.2,396.3 221.7,396.3 222.2,396.3 222.7,396.3 223.2,396.3 223.7,396.3 224.2,396.3 224.7,396.3 225.2,396.3 225.7,396.3 226.2,396.3 226.7,396.3 227.2,396.3 227.7,396.3 228.2,396.3 228.7,396.3 229.2,396.3 229.7,396.3 230.2,396.3 230.7,396.3 231.2,396.3 231.7,396.3 232.2,396.3 232.7,396.3 233.2,396.3 233.7,396.3 234.2,396.3 234.7,396.3 235.2,396.3 235.7,396.3 236.2,396.3 236.7,396.3 237.2,396.3 237.7,396.3 238.2,396.3 238.7,396.3 239.2,396.3 239.7,396.3 240.2,396.2 240.7,396.2 241.2,396.1 241.7,396.0 242.2,395.8 242.7,395.7 243.2,395.5 243.7,395.4 244.2,395.3 244.7,395.3 245.2,395.3 245.7,395.3 246.2,395.3 246.7,395.3 247.2,395.3 247.7,395.3 248.2,395.3 248.7,395.3 249.2,395.4 249.7,395.4 250.2,395.4 250.7,395.5 251.2,395.5 251.7,395.6 252.2,395.6 252.7,395.7 253.2,395.7 253.7,395.8 254.2,396.0 254.7,396.2 255.2,396.5 255.7,396.9 256.2,397.3 256.7,397.7 257.2,398.1 257.7,398.7 258.2,399.4 258.7,400.0 259.2,400.5 259.7,400.8 260.2,401.0 260.7,400.9 261.2,400.6 261.7,400.3 262.2,399.8 262.7,399.3 263.2,398.9 263.7,398.5 264.2,398.3 264.7,398.3 265.2,398.3 265.7,398.5 266.2,398.6 266.7,398.9 267.2,399.1 267.7,399.4 268.2,399.6 268.7,400.0 269.2,400.5 269.7,401.0 270.2,401.4 270.7,401.7 271.2,401.7 271.7,401.5 272.2,401.1 272.7,400.6 273.2,400.1 273.7,399.5 274.2,399.0 274.7,398.6 275.2,398.4 275.7,398.3 276.2,398.1 276.7,398.0 277.2,397.9 277.7,397.8 278.2,397.7 278.7,397.6 279.2,397.5 279.7,397.5 280.2,397.5 280.7,397.5 281.2,397.6 281.7,397.6 282.2,397.7 282.7,397.8 283.2,397.9 283.7,397.9 284.2,398.0 284.7,398.0 285.2,398.0 285.7,397.9 286.2,397.6 286.7,397.3 287.2,397.0 287.7,396.7 288.2,396.6 288.7,396.5 289.2,396.4 289.7,396.4 290.2,396.4 290.7,396.3 291.2,396.3 291.7,396.3 292.2,396.3 292.7,396.2 293.2,396.2 293.7,396.2 294.2,396.2 294.7,396.2 295.2,396.2 295.7,396.1 296.2,396.1 296.7,396.1 297.2,396.1 297.7,396.1 298.2,396.1 298.7,396.1 299.2,396.0 299.7,396.0 300.2,396.0 300.7,396.0 301.2,395.9 301.7,395.9 302.2,395.9 302.7,395.9 303.2,395.8 303.7,395.8 304.2,395.8 304.7,395.8 305.2,395.7 305.7,395.7 306.2,395.7 306.7,395.7 307.2,395.6 307.7,395.6 308.2,395.6 308.7,395.5 309.2,395.5 309.7,395.5 310.2,395.5 310.7,395.4 311.2,395.4 311.7,395.4 312.2,395.3 312.7,395.3 313.2,395.3 313.7,395.2 314.2,395.2 314.7,395.2 315.2,395.2 315.7,395.1 316.2,395.1 316.7,395.1 317.2,395.0 317.7,395.0 318.2,395.0 318.7,394.9 319.2,394.9 319.7,394.9 320.2,394.8"/>
<path d="M340.1,494.2 340.6,494.2 341.1,494.2 341.6,494.2 342.1,494.2 342.6,494.2 343.1,494.2 343.6,494.2 344.1,494.2 344.6,494.2 345.1,494.2 345.6,494.2 346.1,494.2 346.6,494.2 347.1,494.2 347.6,494.2 348.1,494.2 348.6,494.2 349.1,494.2 349.6,494.2 350.1,494.2 350.6,494.2 351.1,494.2 351.6,494.2 352.1,494.2 352.6,494.2 353.1,494.2 353.6,494.2 354.1,494.2 354.6,494.2 355.1,494.2 355.6,494.2 356.1,494.2 356.6,494.2 357.1,494.2 357.6,494.2 358.1,494.3 358.6,494.3 359.1,494.3 359.6,494.3 360.1,494.3 360.6,494.3 361.1,494.3 361.6,494.3 362.1,494.3 362.6,494.3 363.1,494.3 363.6,494.3 364.1,494.3 364.6,494.3 365.1,494.3 365.6,494.3 366.1,494.3 366.6,494.3 367.1,494.3 367.6,494.3 368.1,494.3 368.6,494.3 369.1,494.3 369.6,494.3 370.1,494.3 370.6,494.3 371.1,494.3 371.6,494.3 372.1,494.3 372.6,494.3 373.1,494.3 373.6,494.3 374.1,494.3 374.6,494.3 375.1,494.3 375.6,494.3 376.1,494.3 376.6,494.3 377.1,494.3 377.6,494.3 378.1,494.3 378.6,494.3 379.1,494.3 379.6,494.3 380.1,494.3 380.6,494.4 381.1,494.4 381.6,494.4 382.1,494.4 382.6,494.4 383.1,494.4 383.6,494.4 384.1,494.4 384.6,494.4 385.1,494.4 385.6,494.4 386.1,494.4 386.6,494.4 387.1,494.4 387.6,494.4 388.1,494.4 388.6,494.4 389.1,494.4 389.6,494.4 390.1,494.4 390.6,494.4 391.1,494.4 391.6,494.4 392.1,494.4 392.6,494.4 393.1,494.4 393.6,494.4 394.1,494.4 394.6,494.4 395.1,494.4 395.6,494.4 396.1,494.4 396.6,494.5 397.1,494.5 397.6,494.5 398.1,494.5 398.6,494.5 399.1,494.5 399.6,494.5 400.1,494.5 400.6,494.5 401.1,494.5 401.6,494.5 402.1,494.5 402.6,494.5 403.1,494.5 403.6,494.5 404.1,494.5 404.6,494.5 405.1,494.5 405.6,494.5 406.1,494.5 406.6,494.5 407.1,494.5 407.6,494.5 408.1,494.5 408.6,494.6 409.1,494.6 409.6,494.6 410.1,494.6 410.6,494.6 411.1,494.6 411.6,494.6 412.1,494.6 412.6,494.6 413.1,494.6 413.6,494.6 414.1,494.6 414.6,494.6 415.1,494.6 415.6,494.6 416.1,494.6 416.6,494.6 417.1,494.6 417.6,494.7 418.1,494.7 418.6,494.7 419.1,494.7 419.6,494.7 420.1,494.7 420.6,494.7 421.1,494.7 421.6,494.7 422.1,494.7 422.6,494.7 423.1,494.7 423.6,494.7 424.1,494.7 424.6,494.7 425.1,494.8 425.6,494.8 426.1,494.8 426.6,494.8 427.1,494.8 427.6,494.8 428.1,494.8 428.6,494.8 429.1,494.8 429.6,494.8 430.1,494.8 430.6,494.8 431.1,494.9 431.6,494.9 432.1,494.9 432.6,494.9 433.1,494.9 433.6,494.9 434.1,494.9 434.6,494.9 435.1,494.9 435.6,494.9 436.1,495.0 436.6,495.0 437.1,495.0 437.6,495.0 438.1,495.0 438.6,495.0 439.1,495.0 439.6,495.0 440.1,495.1 440.6,495.1 441.1,495.1 441.6,495.1 442.1,495.1 442.6,495.1 443.1,495.2 443.6,495.2 444.1,495.2 444.6,495.2 445.1,495.2 445.6,495.3 446.1,495.3 446.6,495.3 447.1,495.3 447.6,495.4 448.1,495.4 448.6,495.4 449.1,495.5 449.6,495.5 450.1,495.6 450.6,495.6 451.1,495.7 451.6,495.7 452.1,495.8 452.6,495.8 453.1,495.9 453.6,496.0 454.1,496.1 454.6,496.2 455.1,496.3 455.6,496.4 456.1,496.6 456.6,496.8 457.1,496.9 457.6,497.1 458.1,497.4 458.6,497.6 459.1,497.9 459.6,498.2 460.1,498.5 460.6,498.9 461.1,499.3 461.6,499.7 462.1,500.2 462.6,500.8 463.1,501.4 463.6,502.0 464.1,502.7 464.6,503.4 465.1,504.2 465.6,505.1 466.1,506.0 466.6,507.0 467.1,508.1 467.6,509.2 468.1,510.3 468.6,511.6 469.1,512.9 469.6,514.2 470.1,515.6 470.6,517.1 471.1,518.6 471.6,520.1 472.1,521.7 472.6,523.3 473.1,525.0 473.6,526.6 474.1,528.3 474.6,530.1 475.1,531.8 475.6,533.6 476.1,535.5 476.6,537.4 477.1,539.3 477.6,541.3 478.1,543.3 478.6,545.4 479.1,547.6 479.6,549.8 480.1,552.1 480.6,554.4 481.1,556.7 481.6,559.1 482.1,561.6 482.6,564.1 483.1,566.6 483.6,569.0 484.1,571.4 484.6,573.5 485.1,575.5 485.6,577.2 486.1,578.7 486.6,579.7 487.1,580.4 487.6,580.6 488.1,580.4 488.6,579.8 489.1,578.7 489.6,577.3 490.1,575.4 490.6,573.3 491.1,570.8 491.6,568.1 492.1,565.1 492.6,562.0 493.1,558.5 493.6,554.7 494.1,551.0 494.6,547.3 495.1,543.7 495.6,540.4 496.1,537.2 496.6,534.3 497.1,531.6 497.6,529.1 498.1,526.8 498.6,524.7 499.1,522.9 499.6,521.1 500.1,519.6 500.6,518.2 501.1,516.9 501.6,515.8 502.1,514.7 502.6,513.7 503.1,512.8 503.6,511.9 504.1,511.1 504.6,510.4 505.1,509.7 505.6,509.0 506.1,508.3 506.6,507.7 507.1,507.2 507.6,506.6 508.1,506.1 508.6,505.6 509.1,505.2 509.6,504.7 510.1,504.3 510.6,503.9 511.1,503.5 511.6,503.2 512.1,502.8 512.6,502.5 513.1,502.2 513.6,501.9 514.1,501.6 514.6,501.4 515.1,501.1 515.6,500.9 516.1,500.7 516.6,500.5 517.1,500.3 517.6,500.2 518.1,500.0 518.6,499.9 519.1,499.7 519.6,499.6 520.1,499.5 520.6,499.4 521.1,499.3 521.6,499.2 522.1,499.2 522.6,499.1 523.1,499.1 523.6,499.0 524.1,499.0 524.6,499.0 525.1,499.0 525.6,499.0 526.1,499.0 526.6,499.0 527.1,499.0 527.6,499.0 528.1,499.1 528.6,499.1 529.1,499.1 529.6,499.2 530.1,499.3 530.6,499.3 531.1,499.4 531.6,499.5 532.1,499.6 532.6,499.7 533.1,499.8 533.6,499.9 534.1,500.0 534.6,500.1 535.1,500.2 535.6,500.4 536.1,500.5 536.6,500.6 537.1,500.7 537.6,500.9 538.1,501.0 538.6,501.1 539.1,501.2 539.6,501.3 540.1,501.4 540.6,501.5 541.1,501.5 541.6,501.6 542.1,501.6 542.6,501.6 543.1,501.7 543.6,501.6 544.1,501.6 544.6,501.6 545.1,501.5 545.6,501.4 546.1,501.4 546.6,501.3 547.1,501.2 547.6,501.0 548.1,500.9 548.6,500.8 549.1,500.6 549.6,500.5 550.1,500.3 550.6,500.2 551.1,500.0 551.6,499.9 552.1,499.7 552.6,499.6 553.1,499.4 553.6,499.3 554.1,499.1 554.6,499.0 555.1,498.9 555.6,498.7 556.1,498.6 556.6,498.5 557.1,498.3 557.6,498.2 558.1,498.1 558.6,498.0 559.1,497.9 559.6,497.8 560.1,497.7 560.6,497.6 561.1,497.5 561.6,497.4 562.1,497.4 562.6,497.3 563.1,497.2 563.6,497.1 564.1,497.1 564.6,497.0 565.1,496.9 565.6,496.9 566.1,496.8 566.6,496.8 567.1,496.7 567.6,496.7 568.1,496.6 568.6,496.6 569.1,496.5 569.6,496.5 570.1,496.4 570.6,496.4 571.1,496.4 571.6,496.3 572.1,496.3 572.6,496.3 573.1,496.2 573.6,496.2 574.1,496.2 574.6,496.1 575.1,496.1 575.6,496.1 576.1,496.1 576.6,496.0 577.1,496.0 577.6,496.0 578.1,496.0 578.6,496.0 579.1,495.9 579.6,495.9 580.1,495.9 580.6,495.9 581.1,495.9 581.6,495.8 582.1,495.8 582.6,495.8 583.1,495.8 583.6,495.8 584.1,495.8 584.6,495.8 585.1,495.7 585.6,495.7 586.1,495.7 586.6,495.7 587.1,495.7 587.6,495.7 588.1,495.7 588.6,495.7 589.1,495.7 589.6,495.7 590.1,495.6 590.6,495.6 591.1,495.6 591.6,495.6 592.1,495.6 592.6,495.6 593.1,495.6 593.6,495.6 594.1,495.6 594.6,495.6 595.1,495.6 595.6,495.6 596.1,495.6 596.6,495.6 597.1,495.6 597.6,495.6 598.1,495.6 598.6,495.6 599.1,495.5 599.6,495.5 600.1,495.5 600.6,495.5 601.1,495.5 601.6,495.5 602.1,495.5 602.6,495.5 603.1,495.5 603.6,495.5 604.1,495.5 604.6,495.5 605.1,495.5 605.6,495.5 606.1,495.5 606.6,495.5 607.1,495.5 607.6,495.5 608.1,495.5 608.6,495.5 609.1,495.5 609.6,495.5 610.1,495.5 610.6,495.5 611.1,495.5 611.6,495.5 612.1,495.5 612.6,495.5 613.1,495.5 613.6,495.5 614.1,495.5 614.6,495.6 615.1,495.6 615.6,495.6 616.1,495.6 616.6,495.6 617.1,495.6 617.6,495.6 618.1,495.6 618.6,495.6 619.1,495.6 619.6,495.6 620.1,495.6 620.6,495.6 621.1,495.6 621.6,495.6 622.1,495.6 622.6,495.6 623.1,495.6 623.6,495.6 624.1,495.7 624.6,495.7 625.1,495.7 625.6,495.7 626.1,495.7 626.6,495.7 627.1,495.7 627.6,495.7 628.1,495.7 628.6,495.7 629.1,495.7 629.6,495.8 630.1,495.8 630.6,495.8 631.1,495.8 631.6,495.8 632.1,495.8 632.6,495.8 633.1,495.9 633.6,495.9 634.1,495.9 634.6,495.9 635.1,495.9 635.6,495.9 636.1,496.0 636.6,496.0 637.1,496.0 637.6,496.0 638.1,496.1 638.6,496.1 639.1,496.1 639.6,496.1 640.1,496.2 640.6,496.2 641.1,496.2 641.6,496.3 642.1,496.3 642.6,496.3 643.1,496.4 643.6,496.4 644.1,496.5 644.6,496.5 645.1,496.6 645.6,496.7 646.1,496.8 646.6,496.8 647.1,496.9 647.6,497.0 648.1,497.2 648.6,497.3 649.1,497.5 649.6,497.6 650.1,497.8 650.6,498.1 651.1,498.3 651.6,498.6 652.1,499.0 652.6,499.4 653.1,499.8 653.6,500.3 654.1,500.9 654.6,501.5 655.1,502.2 655.6,503.0 656.1,503.8 656.6,504.6 657.1,505.6 657.6,506.5 658.1,507.5 658.6,508.6 659.1,509.6 659.6,510.6 660.1,511.6 660.6,512.6 661.1,513.4 661.6,514.1 662.1,514.6 662.6,515.0 663.1,515.1 663.6,515.0 664.1,514.7 664.6,514.2 665.1,513.5 665.6,512.7 666.1,511.8 666.6,510.8 667.1,509.8 667.6,508.8 668.1,507.8 668.6,506.8 669.1,505.9 669.6,505.0 670.1,504.1 670.6,503.4 671.1,502.6 671.6,502.0 672.1,501.4 672.6,500.8 673.1,500.4 673.6,499.9 674.1,499.6 674.6,499.3 675.1,499.0 675.6,498.7 676.1,498.5 676.6,498.4 677.1,498.2 677.6,498.1 678.1,498.0 678.6,497.9 679.1,497.8 679.6,497.8 680.1,497.7 680.6,497.7 681.1,497.7 681.6,497.7 682.1,497.6 682.6,497.6 683.1,497.6 683.6,497.6 684.1,497.7 684.6,497.7 685.1,497.7 685.6,497.7 686.1,497.7 686.6,497.8 687.1,497.8 687.6,497.9 688.1,497.9 688.6,498.0 689.1,498.0 689.6,498.1 690.1,498.2 690.6,498.2 691.1,498.3 691.6,498.5 692.1,498.6 692.6,498.8 693.1,498.9 693.6,499.1 694.1,499.4 694.6,499.7 695.1,500.0 695.6,500.4 696.1,500.8 696.6,501.4 697.1,501.9 697.6,502.6 698.1,503.3 698.6,504.1 699.1,504.9 699.6,505.8 700.1,506.7 700.6,507.6 701.1,508.5 701.6,509.4 702.1,510.1 702.6,510.7 703.1,511.2 703.6,511.4 704.1,511.5 704.6,511.4 705.1,511.1 705.6,510.8 706.1,510.4 706.6,510.0 707.1,509.6 707.6,509.2 708.1,508.9 708.6,508.6 709.1,508.5 709.6,508.4 710.1,508.4 710.6,508.5 711.1,508.7 711.6,509.0 712.1,509.3 712.6,509.7 713.1,510.1 713.6,510.6 714.1,511.0 714.6,511.4 715.1,511.8 715.6,512.2 716.1,512.4 716.6,512.6 717.1,512.7 717.6,512.6 718.1,512.5 718.6,512.2 719.1,511.8 719.6,511.4 720.1,510.9 720.6,510.4 721.1,509.8 721.6,509.2 722.1,508.6 722.6,508.1 723.1,507.5 723.6,506.9 724.1,506.4 724.6,505.9 725.1,505.4 725.6,504.9 726.1,504.5 726.6,504.1 727.1,503.8 727.6,503.4 728.1,503.1 728.6,502.8 729.1,502.6 729.6,502.3 730.1,502.1 730.6,501.9 731.1,501.8 731.6,501.6 732.1,501.5 732.6,501.3 733.1,501.2 733.6,501.1 734.1,501.1 734.6,501.0 735.1,501.0 735.6,500.9 736.1,500.9 736.6,500.9 737.1,500.9 737.6,501.0 738.1,501.0 738.6,501.0 739.1,501.1 739.6,501.2 740.1,501.3 740.6,501.4 741.1,501.5 741.6,501.7 742.1,501.8 742.6,502.0 743.1,502.2 743.6,502.3 744.1,502.5 744.6,502.7 745.1,503.0 745.6,503.2 746.1,503.4 746.6,503.5 747.1,503.7 747.6,503.8 748.1,504.0 748.6,504.0 749.1,504.1 749.6,504.1 750.1,504.0 750.6,503.9 751.1,503.8 751.6,503.7 752.1,503.6 752.6,503.4 753.1,503.2 753.6,503.1 754.1,502.9 754.6,502.8 755.1,502.6 755.6,502.5 756.1,502.4 756.6,502.3 757.1,502.2 757.6,502.2 758.1,502.1 758.6,502.1 759.1,502.1 759.6,502.1 760.1,502.2 760.6,502.2 761.1,502.3 761.6,502.4 762.1,502.6 762.6,502.7 763.1,502.9 763.6,503.1 764.1,503.3 764.6,503.5 765.1,503.7 765.6,504.0 766.1,504.2 766.6,504.5 767.1,504.8 767.6,505.1 768.1,505.4 768.6,505.7 769.1,506.0 769.6,506.3 770.1,506.6 770.6,506.9 771.1,507.1 771.6,507.4 772.1,507.5 772.6,507.7 773.1,507.8 773.6,507.9 774.1,507.9 774.6,507.9 775.1,507.8 775.6,507.7 776.1,507.6 776.6,507.5 777.1,507.3 777.6,507.1 778.1,506.9 778.6,506.7 779.1,506.6 779.6,506.4 780.1,506.2 780.6,506.1 781.1,505.9 781.6,505.8 782.1,505.7 782.6,505.6 783.1,505.6 783.6,505.6 784.1,505.6 784.6,505.6 785.1,505.7 785.6,505.8 786.1,505.9 786.6,506.1 787.1,506.3 787.6,506.5 788.1,506.8 788.6,507.1 789.1,507.4 789.6,507.8 790.1,508.2 790.6,508.6 791.1,509.1 791.6,509.6 792.1,510.1 792.6,510.6 793.1,511.1 793.6,511.7 794.1,512.2 794.6,512.7 795.1,513.3 795.6,513.8 796.1,514.3 796.6,514.8 797.1,515.3 797.6,515.8 798.1,516.3 798.6,516.9 799.1,517.5 799.6,518.2 800.1,518.9 800.6,519.7 801.1,520.5 801.6,521.4 802.1,522.2 802.6,523.0 803.1,523.7 803.6,524.4 804.1,524.9 804.6,525.4 805.1,525.8 805.6,526.0 806.1,526.2 806.6,526.3 807.1,526.4 807.6,526.4 808.1,526.5 808.6,526.6 809.1,526.7 809.6,527.0 810.1,527.2 810.6,527.6 811.1,528.0 811.6,528.5 812.1,529.0 812.6,529.6 813.1,530.2 813.6,530.9 814.1,531.6 814.6,532.4 815.1,533.1 815.6,533.9 816.1,534.8 816.6,535.7 817.1,536.7 817.6,537.7 818.1,538.8 818.6,540.1 819.1,541.4 819.6,542.7 820.1,544.2 820.6,545.7 821.1,547.3 821.6,548.8 822.1,550.2 822.6,551.3 823.1,552.1 823.6,552.5 824.1,552.0 824.6,550.6 825.1,548.5 825.6,545.9 826.1,543.0 826.6,539.9 827.1,536.8 827.6,533.7 828.1,530.8 828.6,528.0 829.1,525.3 829.6,522.9 830.1,520.6 830.6,518.6 831.1,516.7 831.6,515.1 832.1,513.7 832.6,512.4 833.1,511.3 833.6,510.4 834.1,509.6 834.6,509.0 835.1,508.4 835.6,508.0 836.1,507.7 836.6,507.4 837.1,507.3 837.6,507.2 838.1,507.1 838.6,507.2 839.1,507.3 839.6,507.5 840.1,507.7 840.6,508.0 841.1,508.3 841.6,508.7 842.1,509.2 842.6,509.7 843.1,510.3 843.6,511.0 844.1,511.7 844.6,512.5 845.1,513.4 845.6,514.4 846.1,515.4 846.6,516.6 847.1,517.7 847.6,519.0 848.1,520.3 848.6,521.7 849.1,523.2 849.6,524.6 850.1,526.1 850.6,527.6 851.1,529.1 851.6,530.5 852.1,531.9 852.6,533.1 853.1,534.1 853.6,534.9 854.1,535.4 854.6,535.4 855.1,535.2 855.6,534.7 856.1,534.1 856.6,533.4 857.1,532.7 857.6,532.0 858.1,531.2 858.6,530.5 859.1,529.9 859.6,529.3 860.1,528.8 860.6,528.4 861.1,528.1 861.6,527.9 862.1,527.8 862.6,527.9 863.1,528.0 863.6,528.2 864.1,528.6 864.6,529.1 865.1,529.6 865.6,530.3 866.1,531.1 866.6,531.9 867.1,532.9 867.6,533.9 868.1,534.9 868.6,536.0 869.1,537.2 869.6,538.4 870.1,539.7 870.6,540.9 871.1,542.2 871.6,543.5 872.1,544.8 872.6,546.2 873.1,547.5 873.6,548.9 874.1,550.3 874.6,551.7 875.1,553.1 875.6,554.5 876.1,555.9 876.6,557.2 877.1,558.6 877.6,559.9 878.1,561.1 878.6,562.2 879.1,563.1 879.6,564.0 880.1,564.6 880.6,565.0 881.1,565.3 881.6,565.3 882.1,565.0 882.6,564.5 883.1,563.8 883.6,562.8 884.1,561.7 884.6,560.4 885.1,558.8 885.6,557.2 886.1,555.5 886.6,553.6 887.1,551.8 887.6,549.9 888.1,548.0 888.6,546.1 889.1,544.2 889.6,542.5 890.1,540.7 890.6,539.1 891.1,537.6 891.6,536.2 892.1,534.9 892.6,533.7 893.1,532.6 893.6,531.7 894.1,530.9 894.6,530.3 895.1,529.9 895.6,529.5 896.1,529.4 896.6,529.3 897.1,529.5 897.6,529.7 898.1,530.1 898.6,530.5 899.1,531.1 899.6,531.7 900.1,532.4 900.6,533.1 901.1,533.8 901.6,534.4 902.1,535.1 902.6,535.6 903.1,536.1 903.6,536.5 904.1,536.7 904.6,536.9 905.1,536.8 905.6,536.7 906.1,536.4 906.6,536.0 907.1,535.4 907.6,534.7 908.1,533.9 908.6,533.1 909.1,532.2 909.6,531.2 910.1,530.2 910.6,529.2 911.1,528.2 911.6,527.2 912.1,526.3 912.6,525.3 913.1,524.5 913.6,523.7 914.1,522.9 914.6,522.2 915.1,521.5 915.6,520.8 916.1,520.2 916.6,519.6 917.1,519.0 917.6,518.4 918.1,517.9 918.6,517.3 919.1,516.7 919.6,516.1 920.1,515.5 920.6,515.0 921.1,514.4 921.6,513.8 922.1,513.2 922.6,512.7 923.1,512.1 923.6,511.6 924.1,511.0 924.6,510.5 925.1,510.0 925.6,509.5 926.1,509.0 926.6,508.6 927.1,508.2 927.6,507.7 928.1,507.3 928.6,507.0 929.1,506.6 929.6,506.2 930.1,505.9 930.6,505.6 931.1,505.3 931.6,505.0 932.1,504.7 932.6,504.5 933.1,504.2 933.6,504.0 934.1,503.8 934.6,503.5 935.1,503.3 935.6,503.2 936.1,503.0 936.6,502.8 937.1,502.6 937.6,502.5 938.1,502.3 938.6,502.2 939.1,502.0 939.6,501.9 940.1,501.8 940.6,501.7 941.1,501.6 941.6,501.5 942.1,501.4 942.6,501.3 943.1,501.2 943.6,501.1 944.1,501.1 944.6,501.0 945.1,500.9 945.6,500.9 946.1,500.9 946.6,500.8 947.1,500.8 947.6,500.8 948.1,500.8 948.6,500.8 949.1,500.8 949.6,500.8 950.1,500.8 950.6,500.9 951.1,500.9 951.6,501.0 952.1,501.1 952.6,501.2 953.1,501.3 953.6,501.4 954.1,501.6 954.6,501.7 955.1,501.9 955.6,502.0 956.1,502.2 956.6,502.3 957.1,502.4 957.6,502.4 958.1,502.3 958.6,502.2 959.1,502.1 959.6,501.9 960.1,501.7 960.6,501.5 961.1,501.2 961.6,501.0 962.1,500.8 962.6,500.6 963.1,500.4 963.6,500.3 964.1,500.1 964.6,500.0 965.1,499.9 965.6,499.8 966.1,499.7 966.6,499.6 967.1,499.6 967.6,499.6 968.1,499.6 968.6,499.6 969.1,499.6 969.6,499.6 970.1,499.6 970.6,499.7 971.1,499.8 971.6,499.8 972.1,499.9 972.6,500.0 973.1,500.0 973.6,500.1 974.1,500.2 974.6,500.3 975.1,500.3 975.6,500.4 976.1,500.5 976.6,500.5 977.1,500.5 977.6,500.6 978.1,500.6 978.6,500.6 979.1,500.5 979.6,500.5 980.1,500.4 980.6,500.4 981.1,500.3 981.6,500.2 982.1,500.1 982.6,500.0 983.1,499.8 983.6,499.7 984.1,499.6 984.6,499.4 985.1,499.3 985.6,499.2 986.1,499.0 986.6,498.9 987.1,498.8 987.6,498.7 988.1,498.5 988.6,498.4 989.1,498.3 989.6,498.3 990.1,498.2 990.6,498.1 991.1,498.0 991.6,498.0 992.1,498.0 992.6,497.9 993.1,497.9 993.6,497.9 994.1,497.9 994.6,497.9 995.1,498.0 995.6,498.1 996.1,498.1 996.6,498.2 997.1,498.4 997.6,498.5 998.1,498.7 998.6,499.0 999.1,499.2 999.6,499.5 1000.1,499.8 1000.6,500.1 1001.1,500.5 1001.6,500.9 1002.1,501.3 1002.6,501.7 1003.1,502.2 1003.6,502.6 1004.1,503.0 1004.6,503.4 1005.1,503.8 1005.6,504.2 1006.1,504.5 1006.6,504.7 1007.1,504.9 1007.6,505.1 1008.1,505.2 1008.6,505.2 1009.1,505.1 1009.6,505.0 1010.1,504.8 1010.6,504.5 1011.1,504.2 1011.6,503.9 1012.1,503.5 1012.6,503.1 1013.1,502.6 1013.6,502.2 1014.1,501.8 1014.6,501.3 1015.1,500.9 1015.6,500.5 1016.1,500.1 1016.6,499.7 1017.1,499.4 1017.6,499.1 1018.1,498.8 1018.6,498.5 1019.1,498.3 1019.6,498.1 1020.1,498.0 1020.6,497.8 1021.1,497.7 1021.6,497.6 1022.1,497.5 1022.6,497.5 1023.1,497.4 1023.6,497.4 1024.1,497.3 1024.6,497.3 1025.1,497.3 1025.6,497.2 1026.1,497.2 1026.6,497.2 1027.1,497.2 1027.6,497.2 1028.1,497.2 1028.6,497.2 1029.1,497.2 1029.6,497.2 1030.1,497.2 1030.6,497.2 1031.1,497.2 1031.6,497.2 1032.1,497.2 1032.6,497.2 1033.1,497.2 1033.6,497.2 1034.1,497.2 1034.6,497.2 1035.1,497.2 1035.6,497.2 1036.1,497.2 1036.6,497.2 1037.1,497.2 1037.6,497.2 1038.1,497.2 1038.6,497.2 1039.1,497.2 1039.6,497.2 1040.1,497.2 1040.6,497.2 1041.1,497.2 1041.6,497.2 1042.1,497.2 1042.6,497.2 1043.1,497.2 1043.6,497.2 1044.1,497.2 1044.6,497.2 1045.1,497.2 1045.6,497.2 1046.1,497.2 1046.6,497.2 1047.1,497.2 1047.6,497.2 1048.1,497.2 1048.6,497.2 1049.1,497.2 1049.6,497.2 1050.1,497.2 1050.6,497.2 1051.1,497.2 1051.6,497.2 1052.1,497.2 1052.6,497.2 1053.1,497.2 1053.6,497.2 1054.1,497.2 1054.6,497.2 1055.1,497.2 1055.6,497.2 1056.1,497.2 1056.6,497.3 1057.1,497.3 1057.6,497.3 1058.1,497.3 1058.6,497.3 1059.1,497.3 1059.6,497.4 1060.1,497.4 1060.6,497.4 1061.1,497.5 1061.6,497.6 1062.1,497.6 1062.6,497.7 1063.1,497.8 1063.6,498.0 1064.1,498.1 1064.6,498.3 1065.1,498.5 1065.6,498.8 1066.1,499.1 1066.6,499.4 1067.1,499.8 1067.6,500.1 1068.1,500.5 1068.6,501.0 1069.1,501.4 1069.6,501.9 1070.1,502.3 1070.6,502.8 1071.1,503.2 1071.6,503.6 1072.1,504.0 1072.6,504.3 1073.1,504.6 1073.6,504.8 1074.1,504.9 1074.6,504.9 1075.1,504.9 1075.6,504.8 1076.1,504.6 1076.6,504.4 1077.1,504.1 1077.6,503.8 1078.1,503.4 1078.6,503.1 1079.1,502.7 1079.6,502.4 1080.1,502.1 1080.6,501.9 1081.1,501.7 1081.6,501.6 1082.1,501.5 1082.6,501.6 1083.1,501.6 1083.6,501.7 1084.1,501.7 1084.6,501.7 1085.1,501.7 1085.6,501.5 1086.1,501.4 1086.6,501.1 1087.1,500.8 1087.6,500.5 1088.1,500.2 1088.6,499.9 1089.1,499.7 1089.6,499.5 1090.1,499.3 1090.6,499.2 1091.1,499.2 1091.6,499.1 1092.1,499.2 1092.6,499.2 1093.1,499.2 1093.6,499.3 1094.1,499.4 1094.6,499.4 1095.1,499.5 1095.6,499.6 1096.1,499.7 1096.6,499.8 1097.1,499.9 1097.6,500.0 1098.1,500.1 1098.6,500.2 1099.1,500.3 1099.6,500.4 1100.1,500.5 1100.6,500.6 1101.1,500.7 1101.6,500.8 1102.1,500.9 1102.6,501.0 1103.1,501.1 1103.6,501.2 1104.1,501.3 1104.6,501.5 1105.1,501.6 1105.6,501.7 1106.1,501.8 1106.6,501.9 1107.1,501.9 1107.6,502.0 1108.1,502.1 1108.6,502.2 1109.1,502.3 1109.6,502.3 1110.1,502.4 1110.6,502.4 1111.1,502.5 1111.6,502.5 1112.1,502.5 1112.6,502.5 1113.1,502.5 1113.6,502.5 1114.1,502.5 1114.6,502.5 1115.1,502.4 1115.6,502.4 1116.1,502.3 1116.6,502.2 1117.1,502.2 1117.6,502.1 1118.1,502.0 1118.6,501.9 1119.1,501.8 1119.6,501.7 1120.1,501.6 1120.6,501.5 1121.1,501.4 1121.6,501.3 1122.1,501.2 1122.6,501.1 1123.1,500.9 1123.6,500.8 1124.1,500.7 1124.6,500.6 1125.1,500.5 1125.6,500.4 1126.1,500.2 1126.6,500.1 1127.1,500.0 1127.6,499.9 1128.1,499.8 1128.6,499.7 1129.1,499.6 1129.6,499.5 1130.1,499.4 1130.6,499.3 1131.1,499.2 1131.6,499.2 1132.1,499.1 1132.6,499.0 1133.1,498.9 1133.6,498.8 1134.1,498.7 1134.6,498.7 1135.1,498.6 1135.6,498.5 1136.1,498.5 1136.6,498.4 1137.1,498.3 1137.6,498.3 1138.1,498.2 1138.6,498.2 1139.1,498.1 1139.6,498.0 1140.1,498.0 1140.6,497.9 1141.1,497.9 1141.6,497.8 1142.1,497.8 1142.6,497.8 1143.1,497.7 1143.6,497.7 1144.1,497.6 1144.6,497.6 1145.1,497.5 1145.6,497.5 1146.1,497.5 1146.6,497.4 1147.1,497.4 1147.6,497.4 1148.1,497.3 1148.6,497.3 1149.1,497.3 1149.6,497.2 1150.1,497.2 1150.6,497.2 1151.1,497.2 1151.6,497.1 1152.1,497.1 1152.6,497.1 1153.1,497.0 1153.6,497.0 1154.1,497.0 1154.6,497.0 1155.1,497.0 1155.6,496.9 1156.1,496.9 1156.6,496.9 1157.1,496.9 1157.6,496.8 1158.1,496.8 1158.6,496.8 1159.1,496.8 1159.6,496.8 1160.1,496.7 1160.6,496.7 1161.1,496.7 1161.6,496.7 1162.1,496.7 1162.6,496.7 1163.1,496.6 1163.6,496.6 1164.1,496.6 1164.6,496.6 1165.1,496.6 1165.6,496.6 1166.1,496.6 1166.6,496.5 1167.1,496.5"/>
<path d="M218.7,496.3 219.2,496.3 219.7,496.2 220.2,496.2 220.7,496.2 221.2,496.1 221.7,496.1 222.2,496.1 222.7,496.0 223.2,496.0 223.7,496.0 224.2,496.0 224.7,496.0 225.2,495.9 225.7,495.9 226.2,495.9 226.7,495.9 227.2,495.9 227.7,495.9 228.2,495.8 228.7,495.8 229.2,495.8 229.7,495.8 230.2,495.8 230.7,495.8 231.2,495.8 231.7,495.8 232.2,495.8 232.7,495.8 233.2,495.8 233.7,495.8 234.2,495.8 234.7,495.8 235.2,495.8 235.7,495.8 236.2,495.8 236.7,495.8 237.2,495.8 237.7,495.8 238.2,495.8 238.7,495.8 239.2,495.8 239.7,495.8 240.2,495.8 240.7,495.8 241.2,495.8 241.7,495.8 242.2,495.8 242.7,495.8 243.2,495.8 243.7,495.8 244.2,495.8 244.7,495.8 245.2,495.9 245.7,495.9 246.2,495.9 246.7,496.0 247.2,496.0 247.7,496.0 248.2,496.1 248.7,496.1 249.2,496.1 249.7,496.2 250.2,496.2 250.7,496.3 251.2,496.3 251.7,496.4 252.2,496.5 252.7,496.5 253.2,496.7 253.7,496.9 254.2,497.2 254.7,497.5 255.2,497.9 255.7,498.3 256.2,498.7 256.7,499.2 257.2,499.9 257.7,500.7 258.2,501.5 258.7,502.3 259.2,502.9 259.7,503.3 260.2,503.5 260.7,503.4 261.2,503.1 261.7,502.7 262.2,502.2 262.7,501.7 263.2,501.1 263.7,500.7 264.2,500.4 264.7,500.3 265.2,500.3 265.7,500.4 266.2,500.7 266.7,500.9 267.2,501.3 267.7,501.6 268.2,501.9 268.7,502.3 269.2,502.9 269.7,503.4 270.2,503.8 270.7,504.0 271.2,503.9 271.7,503.6 272.2,503.1 272.7,502.5 273.2,501.9 273.7,501.2 274.2,500.7 274.7,500.2 275.2,499.9 275.7,499.6 276.2,499.3 276.7,499.1 277.2,498.8 277.7,498.6 278.2,498.5 278.7,498.3 279.2,498.3 279.7,498.3 280.2,498.3 280.7,498.5 281.2,498.7 281.7,498.9 282.2,499.1 282.7,499.2 283.2,499.4 283.7,499.5 284.2,499.5 284.7,499.3 285.2,499.0 285.7,498.6 286.2,498.2 286.7,497.9 287.2,497.6 287.7,497.5 288.2,497.4 288.7,497.3 289.2,497.2 289.7,497.1 290.2,497.1 290.7,497.0 291.2,496.9 291.7,496.9 292.2,496.8 292.7,496.8 293.2,496.7 293.7,496.7 294.2,496.6 294.7,496.6 295.2,496.6 295.7,496.5 296.2,496.5 296.7,496.5 297.2,496.4 297.7,496.4 298.2,496.4 298.7,496.3 299.2,496.3 299.7,496.3 300.2,496.2 300.7,496.2 301.2,496.2 301.7,496.1 302.2,496.1 302.7,496.1 303.2,496.0 303.7,496.0 304.2,496.0 304.7,495.9 305.2,495.9 305.7,495.9 306.2,495.8 306.7,495.8 307.2,495.8 307.7,495.7 308.2,495.7 308.7,495.7 309.2,495.7 309.7,495.6 310.2,495.6 310.7,495.6 311.2,495.6 311.7,495.5 312.2,495.5 312.7,495.5 313.2,495.5 313.7,495.4 314.2,495.4 314.7,495.4 315.2,495.4 315.7,495.3 316.2,495.3 316.7,495.3 317.2,495.3 317.7,495.3 318.2,495.3 318.7,495.2 319.2,495.2 319.7,495.2 320.2,495.2"/>
<path d="M340.1,594.9 340.6,594.9 341.1,594.9 341.6,594.9 342.1,594.9 342.6,594.9 343.1,594.9 343.6,594.9 344.1,594.9 344.6,594.9 345.1,594.9 345.6,594.9 346.1,594.9 346.6,594.9 347.1,594.9 347.6,594.9 348.1,594.9 348.6,594.9 349.1,594.9 349.6,594.9 350.1,594.9 350.6,594.9 351.1,594.9 351.6,594.9 352.1,594.9 352.6,594.9 353.1,594.9 353.6,594.9 354.1,594.9 354.6,595.0 355.1,595.0 355.6,595.0 356.1,595.0 356.6,595.0 357.1,595.0 357.6,595.0 358.1,595.0 358.6,595.0 359.1,595.0 359.6,595.0 360.1,595.0 360.6,595.0 361.1,595.0 361.6,595.0 362.1,595.0 362.6,595.0 363.1,595.0 363.6,595.0 364.1,595.0 364.6,595.0 365.1,595.0 365.6,595.0 366.1,595.0 366.6,595.0 367.1,595.0 367.6,595.0 368.1,595.0 368.6,595.0 369.1,595.0 369.6,595.0 370.1,595.0 370.6,595.0 371.1,595.0 371.6,595.0 372.1,595.0 372.6,595.0 373.1,595.0 373.6,595.0 374.1,595.0 374.6,595.0 375.1,595.1 375.6,595.1 376.1,595.1 376.6,595.1 377.1,595.1 377.6,595.1 378.1,595.1 378.6,595.1 379.1,595.1 379.6,595.1 380.1,595.1 380.6,595.1 381.1,595.1 381.6,595.1 382.1,595.1 382.6,595.1 383.1,595.1 383.6,595.1 384.1,595.1 384.6,595.1 385.1,595.1 385.6,595.1 386.1,595.1 386.6,595.1 387.1,595.1 387.6,595.1 388.1,595.1 388.6,595.1 389.1,595.1 389.6,595.1 390.1,595.1 390.6,595.2 391.1,595.2 391.6,595.2 392.1,595.2 392.6,595.2 393.1,595.2 393.6,595.2 394.1,595.2 394.6,595.2 395.1,595.2 395.6,595.2 396.1,595.2 396.6,595.2 397.1,595.2 397.6,595.2 398.1,595.2 398.6,595.2 399.1,595.2 399.6,595.2 400.1,595.2 400.6,595.2 401.1,595.2 401.6,595.2 402.1,595.3 402.6,595.3 403.1,595.3 403.6,595.3 404.1,595.3 404.6,595.3 405.1,595.3 405.6,595.3 406.1,595.3 406.6,595.3 407.1,595.3 407.6,595.3 408.1,595.3 408.6,595.3 409.1,595.3 409.6,595.3 410.1,595.3 410.6,595.3 411.1,595.3 411.6,595.4 412.1,595.4 412.6,595.4 413.1,595.4 413.6,595.4 414.1,595.4 414.6,595.4 415.1,595.4 415.6,595.4 416.1,595.4 416.6,595.4 417.1,595.4 417.6,595.4 418.1,595.4 418.6,595.4 419.1,595.5 419.6,595.5 420.1,595.5 420.6,595.5 421.1,595.5 421.6,595.5 422.1,595.5 422.6,595.5 423.1,595.5 423.6,595.5 424.1,595.5 424.6,595.5 425.1,595.6 425.6,595.6 426.1,595.6 426.6,595.6 427.1,595.6 427.6,595.6 428.1,595.6 428.6,595.6 429.1,595.6 429.6,595.6 430.1,595.7 430.6,595.7 431.1,595.7 431.6,595.7 432.1,595.7 432.6,595.7 433.1,595.7 433.6,595.7 434.1,595.7 434.6,595.8 435.1,595.8 435.6,595.8 436.1,595.8 436.6,595.8 437.1,595.8 437.6,595.8 438.1,595.8 438.6,595.9 439.1,595.9 439.6,595.9 440.1,595.9 440.6,595.9 441.1,595.9 441.6,596.0 442.1,596.0 442.6,596.0 443.1,596.0 443.6,596.0 444.1,596.1 444.6,596.1 445.1,596.1 445.6,596.1 446.1,596.1 446.6,596.2 447.1,596.2 447.6,596.2 448.1,596.2 448.6,596.3 449.1,596.3 449.6,596.3 450.1,596.4 450.6,596.4 451.1,596.5 451.6,596.5 452.1,596.6 452.6,596.6 453.1,596.7 453.6,596.7 454.1,596.8 454.6,596.9 455.1,597.0 455.6,597.1 456.1,597.2 456.6,597.3 457.1,597.4 457.6,597.6 458.1,597.8 458.6,597.9 459.1,598.2 459.6,598.4 460.1,598.6 460.6,598.9 461.1,599.2 461.6,599.6 462.1,600.0 462.6,600.4 463.1,600.8 463.6,601.3 464.1,601.9 464.6,602.4 465.1,603.1 465.6,603.7 466.1,604.4 466.6,605.2 467.1,606.0 467.6,606.8 468.1,607.7 468.6,608.6 469.1,609.6 469.6,610.6 470.1,611.7 470.6,612.8 471.1,613.9 471.6,615.0 472.1,616.2 472.6,617.5 473.1,618.7 473.6,620.1 474.1,621.4 474.6,622.9 475.1,624.4 475.6,625.9 476.1,627.6 476.6,629.4 477.1,631.3 477.6,633.3 478.1,635.4 478.6,637.7 479.1,640.1 479.6,642.6 480.1,645.2 480.6,647.8 481.1,650.6 481.6,653.3 482.1,656.0 482.6,658.5 483.1,661.0 483.6,663.2 484.1,665.1 484.6,666.8 485.1,668.1 485.6,669.0 486.1,669.5 486.6,669.5 487.1,669.1 487.6,668.3 488.1,667.1 488.6,665.6 489.1,663.7 489.6,661.6 490.1,659.3 490.6,656.9 491.1,654.3 491.6,651.7 492.1,649.0 492.6,646.0 493.1,642.6 493.6,639.3 494.1,636.1 494.6,633.1 495.1,630.3 495.6,627.7 496.1,625.3 496.6,623.1 497.1,621.2 497.6,619.4 498.1,617.8 498.6,616.4 499.1,615.1 499.6,613.9 500.1,612.9 500.6,611.9 501.1,611.0 501.6,610.2 502.1,609.5 502.6,608.8 503.1,608.1 503.6,607.6 504.1,607.0 504.6,606.5 505.1,606.0 505.6,605.5 506.1,605.1 506.6,604.7 507.1,604.3 507.6,603.9 508.1,603.6 508.6,603.2 509.1,602.9 509.6,602.6 510.1,602.4 510.6,602.1 511.1,601.9 511.6,601.6 512.1,601.4 512.6,601.2 513.1,601.0 513.6,600.8 514.1,600.7 514.6,600.5 515.1,600.4 515.6,600.2 516.1,600.1 516.6,600.0 517.1,599.9 517.6,599.8 518.1,599.7 518.6,599.6 519.1,599.5 519.6,599.4 520.1,599.4 520.6,599.3 521.1,599.3 521.6,599.2 522.1,599.2 522.6,599.2 523.1,599.1 523.6,599.1 524.1,599.1 524.6,599.1 525.1,599.1 525.6,599.1 526.1,599.1 526.6,599.2 527.1,599.2 527.6,599.2 528.1,599.2 528.6,599.3 529.1,599.3 529.6,599.4 530.1,599.4 530.6,599.5 531.1,599.6 531.6,599.7 532.1,599.7 532.6,599.8 533.1,599.9 533.6,600.0 534.1,600.1 534.6,600.2 535.1,600.3 535.6,600.4 536.1,600.5 536.6,600.6 537.1,600.7 537.6,600.8 538.1,600.9 538.6,601.0 539.1,601.1 539.6,601.2 540.1,601.2 540.6,601.3 541.1,601.4 541.6,601.4 542.1,601.4 542.6,601.5 543.1,601.5 543.6,601.5 544.1,601.5 544.6,601.4 545.1,601.4 545.6,601.3 546.1,601.2 546.6,601.2 547.1,601.1 547.6,601.0 548.1,600.9 548.6,600.7 549.1,600.6 549.6,600.5 550.1,600.4 550.6,600.2 551.1,600.1 551.6,600.0 552.1,599.9 552.6,599.7 553.1,599.6 553.6,599.5 554.1,599.3 554.6,599.2 555.1,599.1 555.6,599.0 556.1,598.9 556.6,598.8 557.1,598.7 557.6,598.6 558.1,598.5 558.6,598.4 559.1,598.3 559.6,598.2 560.1,598.1 560.6,598.1 561.1,598.0 561.6,597.9 562.1,597.8 562.6,597.8 563.1,597.7 563.6,597.6 564.1,597.6 564.6,597.5 565.1,597.5 565.6,597.4 566.1,597.4 566.6,597.3 567.1,597.3 567.6,597.2 568.1,597.2 568.6,597.2 569.1,597.1 569.6,597.1 570.1,597.0 570.6,597.0 571.1,597.0 571.6,596.9 572.1,596.9 572.6,596.9 573.1,596.9 573.6,596.8 574.1,596.8 574.6,596.8 575.1,596.8 575.6,596.7 576.1,596.7 576.6,596.7 577.1,596.7 577.6,596.7 578.1,596.6 578.6,596.6 579.1,596.6 579.6,596.6 580.1,596.6 580.6,596.6 581.1,596.5 581.6,596.5 582.1,596.5 582.6,596.5 583.1,596.5 583.6,596.5 584.1,596.5 584.6,596.4 585.1,596.4 585.6,596.4 586.1,596.4 586.6,596.4 587.1,596.4 587.6,596.4 588.1,596.4 588.6,596.4 589.1,596.4 589.6,596.4 590.1,596.4 590.6,596.3 591.1,596.3 591.6,596.3 592.1,596.3 592.6,596.3 593.1,596.3 593.6,596.3 594.1,596.3 594.6,596.3 595.1,596.3 595.6,596.3 596.1,596.3 596.6,596.3 597.1,596.3 597.6,596.3 598.1,596.3 598.6,596.3 599.1,596.3 599.6,596.3 600.1,596.3 600.6,596.3 601.1,596.3 601.6,596.3 602.1,596.3 602.6,596.3 603.1,596.3 603.6,596.3 604.1,596.3 604.6,596.3 605.1,596.3 605.6,596.3 606.1,596.3 606.6,596.3 607.1,596.3 607.6,596.3 608.1,596.3 608.6,596.3 609.1,596.3 609.6,596.3 610.1,596.3 610.6,596.3 611.1,596.3 611.6,596.3 612.1,596.3 612.6,596.3 613.1,596.3 613.6,596.3 614.1,596.3 614.6,596.3 615.1,596.3 615.6,596.3 616.1,596.3 616.6,596.3 617.1,596.3 617.6,596.3 618.1,596.3 618.6,596.3 619.1,596.3 619.6,596.3 620.1,596.3 620.6,596.3 621.1,596.3 621.6,596.3 622.1,596.3 622.6,596.4 623.1,596.4 623.6,596.4 624.1,596.4 624.6,596.4 625.1,596.4 625.6,596.4 626.1,596.4 626.6,596.4 627.1,596.4 627.6,596.4 628.1,596.4 628.6,596.4 629.1,596.5 629.6,596.5 630.1,596.5 630.6,596.5 631.1,596.5 631.6,596.5 632.1,596.5 632.6,596.5 633.1,596.6 633.6,596.6 634.1,596.6 634.6,596.6 635.1,596.6 635.6,596.6 636.1,596.6 636.6,596.7 637.1,596.7 637.6,596.7 638.1,596.7 638.6,596.8 639.1,596.8 639.6,596.8 640.1,596.8 640.6,596.9 641.1,596.9 641.6,596.9 642.1,597.0 642.6,597.0 643.1,597.0 643.6,597.1 644.1,597.1 644.6,597.2 645.1,597.2 645.6,597.3 646.1,597.3 646.6,597.4 647.1,597.5 647.6,597.6 648.1,597.7 648.6,597.8 649.1,597.9 649.6,598.1 650.1,598.3 650.6,598.5 651.1,598.7 651.6,599.0 652.1,599.3 652.6,599.6 653.1,600.0 653.6,600.5 654.1,601.0 654.6,601.5 655.1,602.1 655.6,602.8 656.1,603.5 656.6,604.3 657.1,605.2 657.6,606.1 658.1,607.0 658.6,608.0 659.1,608.9 659.6,609.9 660.1,610.8 660.6,611.6 661.1,612.4 661.6,613.0 662.1,613.5 662.6,613.8 663.1,613.8 663.6,613.7 664.1,613.4 664.6,612.8 665.1,612.2 665.6,611.4 666.1,610.5 666.6,609.6 667.1,608.7 667.6,607.8 668.1,606.8 668.6,605.9 669.1,605.1 669.6,604.3 670.1,603.5 670.6,602.9 671.1,602.2 671.6,601.7 672.1,601.2 672.6,600.7 673.1,600.3 673.6,599.9 674.1,599.6 674.6,599.4 675.1,599.1 675.6,599.0 676.1,598.8 676.6,598.7 677.1,598.5 677.6,598.4 678.1,598.4 678.6,598.3 679.1,598.2 679.6,598.2 680.1,598.2 680.6,598.1 681.1,598.1 681.6,598.1 682.1,598.1 682.6,598.1 683.1,598.1 683.6,598.1 684.1,598.1 684.6,598.1 685.1,598.1 685.6,598.1 686.1,598.2 686.6,598.2 687.1,598.2 687.6,598.3 688.1,598.3 688.6,598.3 689.1,598.4 689.6,598.4 690.1,598.5 690.6,598.6 691.1,598.7 691.6,598.8 692.1,598.9 692.6,599.0 693.1,599.2 693.6,599.4 694.1,599.6 694.6,599.8 695.1,600.1 695.6,600.5 696.1,600.9 696.6,601.3 697.1,601.8 697.6,602.4 698.1,603.0 698.6,603.7 699.1,604.4 699.6,605.2 700.1,606.0 700.6,606.7 701.1,607.4 701.6,608.1 702.1,608.6 702.6,609.0 703.1,609.2 703.6,609.2 704.1,609.1 704.6,608.9 705.1,608.6 705.6,608.3 706.1,607.9 706.6,607.6 707.1,607.3 707.6,607.0 708.1,606.8 708.6,606.7 709.1,606.7 709.6,606.8 710.1,607.0 710.6,607.2 711.1,607.6 711.6,608.0 712.1,608.5 712.6,609.0 713.1,609.6 713.6,610.2 714.1,610.8 714.6,611.4 715.1,611.9 715.6,612.4 716.1,612.8 716.6,613.1 717.1,613.2 717.6,613.2 718.1,613.1 718.6,612.9 719.1,612.5 719.6,612.0 720.1,611.4 720.6,610.8 721.1,610.1 721.6,609.5 722.1,608.8 722.6,608.1 723.1,607.5 723.6,606.9 724.1,606.3 724.6,605.8 725.1,605.3 725.6,604.8 726.1,604.4 726.6,604.0 727.1,603.6 727.6,603.3 728.1,603.0 728.6,602.7 729.1,602.4 729.6,602.2 730.1,602.0 730.6,601.8 731.1,601.7 731.6,601.5 732.1,601.4 732.6,601.3 733.1,601.2 733.6,601.1 734.1,601.0 734.6,600.9 735.1,600.9 735.6,600.9 736.1,600.8 736.6,600.8 737.1,600.8 737.6,600.8 738.1,600.9 738.6,600.9 739.1,601.0 739.6,601.0 740.1,601.1 740.6,601.2 741.1,601.3 741.6,601.4 742.1,601.5 742.6,601.6 743.1,601.8 743.6,601.9 744.1,602.1 744.6,602.3 745.1,602.5 745.6,602.6 746.1,602.8 746.6,603.0 747.1,603.1 747.6,603.3 748.1,603.4 748.6,603.5 749.1,603.5 749.6,603.5 750.1,603.5 750.6,603.5 751.1,603.4 751.6,603.3 752.1,603.1 752.6,603.0 753.1,602.8 753.6,602.7 754.1,602.5 754.6,602.3 755.1,602.2 755.6,602.0 756.1,601.9 756.6,601.8 757.1,601.7 757.6,601.6 758.1,601.5 758.6,601.5 759.1,601.4 759.6,601.4 760.1,601.4 760.6,601.4 761.1,601.4 761.6,601.5 762.1,601.5 762.6,601.6 763.1,601.6 763.6,601.7 764.1,601.8 764.6,601.9 765.1,602.1 765.6,602.2 766.1,602.4 766.6,602.5 767.1,602.7 767.6,602.9 768.1,603.0 768.6,603.2 769.1,603.4 769.6,603.5 770.1,603.7 770.6,603.8 771.1,604.0 771.6,604.1 772.1,604.2 772.6,604.2 773.1,604.3 773.6,604.3 774.1,604.2 774.6,604.2 775.1,604.1 775.6,604.0 776.1,603.9 776.6,603.8 777.1,603.7 777.6,603.6 778.1,603.4 778.6,603.3 779.1,603.2 779.6,603.1 780.1,603.0 780.6,602.9 781.1,602.8 781.6,602.8 782.1,602.7 782.6,602.7 783.1,602.7 783.6,602.7 784.1,602.7 784.6,602.7 785.1,602.8 785.6,602.8 786.1,602.9 786.6,603.1 787.1,603.2 787.6,603.4 788.1,603.6 788.6,603.8 789.1,604.0 789.6,604.3 790.1,604.6 790.6,604.9 791.1,605.3 791.6,605.7 792.1,606.1 792.6,606.6 793.1,607.1 793.6,607.6 794.1,608.2 794.6,608.8 795.1,609.4 795.6,610.1 796.1,610.8 796.6,611.5 797.1,612.4 797.6,613.2 798.1,614.1 798.6,615.2 799.1,616.2 799.6,617.4 800.1,618.6 800.6,619.9 801.1,621.1 801.6,622.4 802.1,623.6 802.6,624.6 803.1,625.6 803.6,626.3 804.1,626.9 804.6,627.3 805.1,627.4 805.6,627.4 806.1,627.3 806.6,627.0 807.1,626.7 807.6,626.3 808.1,626.0 808.6,625.6 809.1,625.4 809.6,625.2 810.1,625.2 810.6,625.2 811.1,625.4 811.6,625.6 812.1,625.9 812.6,626.3 813.1,626.8 813.6,627.3 814.1,627.9 814.6,628.5 815.1,629.2 815.6,629.9 816.1,630.7 816.6,631.7 817.1,632.7 817.6,633.8 818.1,635.1 818.6,636.5 819.1,638.1 819.6,639.8 820.1,641.6 820.6,643.6 821.1,645.6 821.6,647.6 822.1,649.5 822.6,651.2 823.1,652.5 823.6,653.2 824.1,653.1 824.6,651.7 825.1,649.6 825.6,646.9 826.1,643.8 826.6,640.6 827.1,637.4 827.6,634.2 828.1,631.1 828.6,628.2 829.1,625.4 829.6,622.9 830.1,620.6 830.6,618.6 831.1,616.7 831.6,615.1 832.1,613.7 832.6,612.5 833.1,611.4 833.6,610.5 834.1,609.8 834.6,609.1 835.1,608.6 835.6,608.3 836.1,608.0 836.6,607.7 837.1,607.6 837.6,607.6 838.1,607.6 838.6,607.6 839.1,607.8 839.6,608.0 840.1,608.2 840.6,608.6 841.1,609.0 841.6,609.4 842.1,610.0 842.6,610.6 843.1,611.3 843.6,612.1 844.1,612.9 844.6,613.9 845.1,614.9 845.6,616.1 846.1,617.4 846.6,618.7 847.1,620.2 847.6,621.7 848.1,623.3 848.6,625.1 849.1,626.8 849.6,628.6 850.1,630.5 850.6,632.3 851.1,634.1 851.6,635.8 852.1,637.3 852.6,638.7 853.1,639.7 853.6,640.4 854.1,640.4 854.6,640.0 855.1,639.3 855.6,638.3 856.1,637.2 856.6,635.9 857.1,634.7 857.6,633.4 858.1,632.2 858.6,631.0 859.1,629.9 859.6,629.0 860.1,628.1 860.6,627.3 861.1,626.7 861.6,626.3 862.1,625.9 862.6,625.7 863.1,625.7 863.6,625.8 864.1,626.0 864.6,626.3 865.1,626.8 865.6,627.4 866.1,628.2 866.6,629.0 867.1,629.9 867.6,630.9 868.1,632.0 868.6,633.1 869.1,634.4 869.6,635.6 870.1,636.9 870.6,638.1 871.1,639.4 871.6,640.7 872.1,642.0 872.6,643.3 873.1,644.6 873.6,645.9 874.1,647.2 874.6,648.5 875.1,649.8 875.6,651.1 876.1,652.5 876.6,653.8 877.1,655.1 877.6,656.4 878.1,657.7 878.6,658.8 879.1,659.9 879.6,660.8 880.1,661.6 880.6,662.1 881.1,662.4 881.6,662.5 882.1,662.3 882.6,661.9 883.1,661.2 883.6,660.3 884.1,659.1 884.6,657.7 885.1,656.2 885.6,654.5 886.1,652.7 886.6,650.8 887.1,648.8 887.6,646.9 888.1,644.9 888.6,643.0 889.1,641.1 889.6,639.3 890.1,637.5 890.6,635.9 891.1,634.3 891.6,632.9 892.1,631.6 892.6,630.4 893.1,629.3 893.6,628.4 894.1,627.7 894.6,627.1 895.1,626.7 895.6,626.4 896.1,626.4 896.6,626.5 897.1,626.8 897.6,627.2 898.1,627.8 898.6,628.5 899.1,629.4 899.6,630.3 900.1,631.3 900.6,632.3 901.1,633.4 901.6,634.4 902.1,635.4 902.6,636.2 903.1,636.9 903.6,637.5 904.1,637.9 904.6,638.0 905.1,638.0 905.6,637.8 906.1,637.4 906.6,636.7 907.1,636.0 907.6,635.0 908.1,634.0 908.6,632.8 909.1,631.6 909.6,630.3 910.1,629.1 910.6,627.8 911.1,626.7 911.6,625.5 912.1,624.5 912.6,623.5 913.1,622.7 913.6,621.9 914.1,621.2 914.6,620.6 915.1,620.0 915.6,619.5 916.1,619.0 916.6,618.6 917.1,618.2 917.6,617.8 918.1,617.4 918.6,617.0 919.1,616.5 919.6,616.1 920.1,615.6 920.6,615.2 921.1,614.7 921.6,614.2 922.1,613.7 922.6,613.2 923.1,612.7 923.6,612.2 924.1,611.7 924.6,611.2 925.1,610.8 925.6,610.3 926.1,609.9 926.6,609.4 927.1,609.0 927.6,608.6 928.1,608.2 928.6,607.9 929.1,607.5 929.6,607.2 930.1,606.8 930.6,606.5 931.1,606.2 931.6,606.0 932.1,605.7 932.6,605.4 933.1,605.2 933.6,605.0 934.1,604.8 934.6,604.6 935.1,604.4 935.6,604.2 936.1,604.0 936.6,603.8 937.1,603.7 937.6,603.5 938.1,603.4 938.6,603.2 939.1,603.1 939.6,603.0 940.1,602.9 940.6,602.8 941.1,602.7 941.6,602.6 942.1,602.5 942.6,602.4 943.1,602.3 943.6,602.2 944.1,602.2 944.6,602.1 945.1,602.1 945.6,602.0 946.1,602.0 946.6,602.0 947.1,601.9 947.6,601.9 948.1,601.9 948.6,601.9 949.1,601.9 949.6,601.9 950.1,602.0 950.6,602.0 951.1,602.0 951.6,602.1 952.1,602.2 952.6,602.3 953.1,602.4 953.6,602.5 954.1,602.7 954.6,602.8 955.1,603.0 955.6,603.1 956.1,603.3 956.6,603.4 957.1,603.5 957.6,603.5 958.1,603.4 958.6,603.4 959.1,603.2 959.6,603.0 960.1,602.8 960.6,602.6 961.1,602.4 961.6,602.2 962.1,602.0 962.6,601.8 963.1,601.7 963.6,601.5 964.1,601.4 964.6,601.3 965.1,601.2 965.6,601.1 966.1,601.1 966.6,601.1 967.1,601.1 967.6,601.1 968.1,601.1 968.6,601.1 969.1,601.2 969.6,601.3 970.1,601.3 970.6,601.4 971.1,601.5 971.6,601.7 972.1,601.8 972.6,601.9 973.1,602.0 973.6,602.2 974.1,602.3 974.6,602.4 975.1,602.6 975.6,602.7 976.1,602.8 976.6,602.8 977.1,602.9 977.6,602.9 978.1,603.0 978.6,603.0 979.1,603.0 979.6,602.9 980.1,602.8 980.6,602.8 981.1,602.6 981.6,602.5 982.1,602.4 982.6,602.2 983.1,602.1 983.6,601.9 984.1,601.7 984.6,601.5 985.1,601.3 985.6,601.2 986.1,601.0 986.6,600.8 987.1,600.6 987.6,600.5 988.1,600.3 988.6,600.2 989.1,600.0 989.6,599.9 990.1,599.8 990.6,599.7 991.1,599.6 991.6,599.5 992.1,599.5 992.6,599.4 993.1,599.4 993.6,599.4 994.1,599.4 994.6,599.4 995.1,599.5 995.6,599.5 996.1,599.6 996.6,599.7 997.1,599.9 997.6,600.1 998.1,600.3 998.6,600.5 999.1,600.8 999.6,601.2 1000.1,601.5 1000.6,601.9 1001.1,602.4 1001.6,602.8 1002.1,603.3 1002.6,603.8 1003.1,604.3 1003.6,604.8 1004.1,605.3 1004.6,605.8 1005.1,606.2 1005.6,606.6 1006.1,606.9 1006.6,607.1 1007.1,607.3 1007.6,607.4 1008.1,607.4 1008.6,607.4 1009.1,607.2 1009.6,607.0 1010.1,606.7 1010.6,606.4 1011.1,606.0 1011.6,605.5 1012.1,605.0 1012.6,604.5 1013.1,604.0 1013.6,603.5 1014.1,603.0 1014.6,602.5 1015.1,602.1 1015.6,601.6 1016.1,601.2 1016.6,600.9 1017.1,600.5 1017.6,600.2 1018.1,600.0 1018.6,599.7 1019.1,599.5 1019.6,599.4 1020.1,599.2 1020.6,599.1 1021.1,599.0 1021.6,599.0 1022.1,598.9 1022.6,598.8 1023.1,598.8 1023.6,598.8 1024.1,598.8 1024.6,598.7 1025.1,598.7 1025.6,598.7 1026.1,598.7 1026.6,598.7 1027.1,598.7 1027.6,598.7 1028.1,598.7 1028.6,598.7 1029.1,598.7 1029.6,598.7 1030.1,598.7 1030.6,598.7 1031.1,598.7 1031.6,598.7 1032.1,598.7 1032.6,598.7 1033.1,598.7 1033.6,598.7 1034.1,598.7 1034.6,598.7 1035.1,598.7 1035.6,598.7 1036.1,598.7 1036.6,598.7 1037.1,598.7 1037.6,598.7 1038.1,598.7 1038.6,598.7 1039.1,598.7 1039.6,598.7 1040.1,598.7 1040.6,598.7 1041.1,598.7 1041.6,598.7 1042.1,598.7 1042.6,598.7 1043.1,598.7 1043.6,598.7 1044.1,598.7 1044.6,598.7 1045.1,598.7 1045.6,598.7 1046.1,598.7 1046.6,598.7 1047.1,598.7 1047.6,598.7 1048.1,598.7 1048.6,598.7 1049.1,598.7 1049.6,598.7 1050.1,598.7 1050.6,598.8 1051.1,598.8 1051.6,598.8 1052.1,598.8 1052.6,598.8 1053.1,598.8 1053.6,598.8 1054.1,598.8 1054.6,598.8 1055.1,598.8 1055.6,598.8 1056.1,598.8 1056.6,598.8 1057.1,598.9 1057.6,598.9 1058.1,598.9 1058.6,598.9 1059.1,598.9 1059.6,599.0 1060.1,599.0 1060.6,599.0 1061.1,599.1 1061.6,599.1 1062.1,599.2 1062.6,599.3 1063.1,599.4 1063.6,599.6 1064.1,599.7 1064.6,599.9 1065.1,600.2 1065.6,600.4 1066.1,600.7 1066.6,601.1 1067.1,601.5 1067.6,601.9 1068.1,602.3 1068.6,602.8 1069.1,603.3 1069.6,603.8 1070.1,604.4 1070.6,604.9 1071.1,605.4 1071.6,605.9 1072.1,606.3 1072.6,606.7 1073.1,607.0 1073.6,607.2 1074.1,607.4 1074.6,607.5 1075.1,607.4 1075.6,607.4 1076.1,607.2 1076.6,606.9 1077.1,606.6 1077.6,606.3 1078.1,605.9 1078.6,605.5 1079.1,605.1 1079.6,604.7 1080.1,604.4 1080.6,604.1 1081.1,603.9 1081.6,603.8 1082.1,603.7 1082.6,603.7 1083.1,603.8 1083.6,603.8 1084.1,603.9 1084.6,603.9 1085.1,603.9 1085.6,603.7 1086.1,603.5 1086.6,603.3 1087.1,603.0 1087.6,602.7 1088.1,602.3 1088.6,602.0 1089.1,601.8 1089.6,601.6 1090.1,601.4 1090.6,601.3 1091.1,601.3 1091.6,601.3 1092.1,601.3 1092.6,601.3 1093.1,601.4 1093.6,601.5 1094.1,601.6 1094.6,601.7 1095.1,601.8 1095.6,601.9 1096.1,602.0 1096.6,602.1 1097.1,602.2 1097.6,602.3 1098.1,602.4 1098.6,602.5 1099.1,602.7 1099.6,602.8 1100.1,602.9 1100.6,603.0 1101.1,603.1 1101.6,603.3 1102.1,603.4 1102.6,603.5 1103.1,603.7 1103.6,603.8 1104.1,603.9 1104.6,604.0 1105.1,604.2 1105.6,604.3 1106.1,604.4 1106.6,604.5 1107.1,604.6 1107.6,604.7 1108.1,604.8 1108.6,604.9 1109.1,605.0 1109.6,605.0 1110.1,605.1 1110.6,605.2 1111.1,605.2 1111.6,605.2 1112.1,605.3 1112.6,605.3 1113.1,605.3 1113.6,605.3 1114.1,605.3 1114.6,605.2 1115.1,605.2 1115.6,605.1 1116.1,605.1 1116.6,605.0 1117.1,604.9 1117.6,604.9 1118.1,604.8 1118.6,604.7 1119.1,604.6 1119.6,604.4 1120.1,604.3 1120.6,604.2 1121.1,604.1 1121.6,604.0 1122.1,603.8 1122.6,603.7 1123.1,603.6 1123.6,603.4 1124.1,603.3 1124.6,603.1 1125.1,603.0 1125.6,602.9 1126.1,602.7 1126.6,602.6 1127.1,602.5 1127.6,602.4 1128.1,602.2 1128.6,602.1 1129.1,602.0 1129.6,601.9 1130.1,601.7 1130.6,601.6 1131.1,601.5 1131.6,601.4 1132.1,601.3 1132.6,601.2 1133.1,601.1 1133.6,601.0 1134.1,600.9 1134.6,600.8 1135.1,600.7 1135.6,600.6 1136.1,600.5 1136.6,600.4 1137.1,600.4 1137.6,600.3 1138.1,600.2 1138.6,600.1 1139.1,600.1 1139.6,600.0 1140.1,599.9 1140.6,599.8 1141.1,599.8 1141.6,599.7 1142.1,599.7 1142.6,599.6 1143.1,599.5 1143.6,599.5 1144.1,599.4 1144.6,599.4 1145.1,599.3 1145.6,599.3 1146.1,599.2 1146.6,599.2 1147.1,599.1 1147.6,599.1 1148.1,599.0 1148.6,599.0 1149.1,599.0 1149.6,598.9 1150.1,598.9 1150.6,598.8 1151.1,598.8 1151.6,598.8 1152.1,598.7 1152.6,598.7 1153.1,598.7 1153.6,598.6 1154.1,598.6 1154.6,598.6 1155.1,598.5 1155.6,598.5 1156.1,598.5 1156.6,598.4 1157.1,598.4 1157.6,598.4 1158.1,598.4 1158.6,598.3 1159.1,598.3 1159.6,598.3 1160.1,598.3 1160.6,598.2 1161.1,598.2 1161.6,598.2 1162.1,598.2 1162.6,598.1 1163.1,598.1 1163.6,598.1 1164.1,598.1 1164.6,598.1 1165.1,598.0 1165.6,598.0 1166.1,598.0 1166.6,598.0 1167.1,598.0"/>
<path d="M218.7,596.9 219.2,596.9 219.7,596.9 220.2,596.9 220.7,596.9 221.2,596.9 221.7,596.9 222.2,596.9 222.7,596.9 223.2,597.0 223.7,597.0 224.2,597.0 224.7,597.0 225.2,597.0 225.7,597.0 226.2,597.0 226.7,597.0 227.2,597.0 227.7,597.0 228.2,597.0 228.7,597.0 229.2,597.0 229.7,597.0 230.2,597.0 230.7,597.0 231.2,597.0 231.7,597.0 232.2,597.0 232.7,597.0 233.2,597.0 233.7,597.0 234.2,597.0 234.7,597.0 235.2,597.0 235.7,597.0 236.2,597.0 236.7,597.0 237.2,597.0 237.7,597.0 238.2,597.0 238.7,597.0 239.2,597.0 239.7,597.0 240.2,597.0 240.7,597.0 241.2,597.0 241.7,597.0 242.2,597.0 242.7,597.0 243.2,597.0 243.7,596.9 244.2,596.9 244.7,596.9 245.2,596.9 245.7,596.9 246.2,596.9 246.7,596.9 247.2,596.8 247.7,596.8 248.2,596.8 248.7,596.8 249.2,596.8 249.7,596.8 250.2,596.8 250.7,596.8 251.2,596.8 251.7,596.8 252.2,596.8 252.7,596.8 253.2,596.8 253.7,596.9 254.2,597.1 254.7,597.3 255.2,597.6 255.7,597.8 256.2,598.1 256.7,598.6 257.2,599.2 257.7,599.8 258.2,600.5 258.7,601.2 259.2,601.7 259.7,601.9 260.2,602.0 260.7,601.7 261.2,601.3 261.7,600.7 262.2,600.1 262.7,599.6 263.2,599.2 263.7,599.0 264.2,599.0 264.7,599.2 265.2,599.3 265.7,599.6 266.2,599.8 266.7,600.1 267.2,600.4 267.7,600.6 268.2,600.9 268.7,601.3 269.2,601.6 269.7,601.9 270.2,602.2 270.7,602.2 271.2,602.2 271.7,601.9 272.2,601.5 272.7,601.1 273.2,600.6 273.7,600.1 274.2,599.7 274.7,599.4 275.2,599.2 275.7,599.1 276.2,599.0 276.7,598.9 277.2,598.8 277.7,598.7 278.2,598.6 278.7,598.6 279.2,598.5 279.7,598.5 280.2,598.5 280.7,598.5 281.2,598.6 281.7,598.7 282.2,598.9 282.7,599.0 283.2,599.1 283.7,599.2 284.2,599.2 284.7,599.2 285.2,599.1 285.7,598.8 286.2,598.5 286.7,598.1 287.2,597.8 287.7,597.6 288.2,597.5 288.7,597.4 289.2,597.4 289.7,597.4 290.2,597.3 290.7,597.3 291.2,597.3 291.7,597.3 292.2,597.2 292.7,597.2 293.2,597.2 293.7,597.2 294.2,597.2 294.7,597.2 295.2,597.2 295.7,597.1 296.2,597.1 296.7,597.1 297.2,597.1 297.7,597.1 298.2,597.1 298.7,597.1 299.2,597.0 299.7,597.0 300.2,597.0 300.7,597.0 301.2,596.9 301.7,596.9 302.2,596.9 302.7,596.9 303.2,596.8 303.7,596.8 304.2,596.8 304.7,596.8 305.2,596.7 305.7,596.7 306.2,596.7 306.7,596.7 307.2,596.6 307.7,596.6 308.2,596.6 308.7,596.5 309.2,596.5 309.7,596.5 310.2,596.5 310.7,596.4 311.2,596.4 311.7,596.4 312.2,596.3 312.7,596.3 313.2,596.3 313.7,596.2 314.2,596.2 314.7,596.2 315.2,596.2 315.7,596.1 316.2,596.1 316.7,596.1 317.2,596.0 317.7,596.0 318.2,596.0 318.7,595.9 319.2,595.9 319.7,595.9 320.2,595.8"/>
<path d="M340.1,697.0 340.6,697.0 341.1,697.0 341.6,697.0 342.1,697.0 342.6,697.0 343.1,697.0 343.6,697.0 344.1,697.0 344.6,697.0 345.1,697.1 345.6,697.1 346.1,697.1 346.6,697.1 347.1,697.1 347.6,697.1 348.1,697.1 348.6,697.1 349.1,697.1 349.6,697.1 350.1,697.1 350.6,697.1 351.1,697.1 351.6,697.1 352.1,697.1 352.6,697.1 353.1,697.1 353.6,697.1 354.1,697.1 354.6,697.1 355.1,697.1 355.6,697.1 356.1,697.1 356.6,697.1 357.1,697.1 357.6,697.1 358.1,697.1 358.6,697.1 359.1,697.1 359.6,697.1 360.1,697.1 360.6,697.2 361.1,697.2 361.6,697.2 362.1,697.2 362.6,697.2 363.1,697.2 363.6,697.2 364.1,697.2 364.6,697.2 365.1,697.2 365.6,697.2 366.1,697.2 366.6,697.2 367.1,697.2 367.6,697.2 368.1,697.2 368.6,697.2 369.1,697.2 369.6,697.2 370.1,697.2 370.6,697.2 371.1,697.2 371.6,697.2 372.1,697.2 372.6,697.2 373.1,697.3 373.6,697.3 374.1,697.3 374.6,697.3 375.1,697.3 375.6,697.3 376.1,697.3 376.6,697.3 377.1,697.3 377.6,697.3 378.1,697.3 378.6,697.3 379.1,697.3 379.6,697.3 380.1,697.3 380.6,697.3 381.1,697.3 381.6,697.3 382.1,697.3 382.6,697.3 383.1,697.4 383.6,697.4 384.1,697.4 384.6,697.4 385.1,697.4 385.6,697.4 386.1,697.4 386.6,697.4 387.1,697.4 387.6,697.4 388.1,697.4 388.6,697.4 389.1,697.4 389.6,697.4 390.1,697.4 390.6,697.4 391.1,697.4 391.6,697.5 392.1,697.5 392.6,697.5 393.1,697.5 393.6,697.5 394.1,697.5 394.6,697.5 395.1,697.5 395.6,697.5 396.1,697.5 396.6,697.5 397.1,697.5 397.6,697.5 398.1,697.5 398.6,697.6 399.1,697.6 399.6,697.6 400.1,697.6 400.6,697.6 401.1,697.6 401.6,697.6 402.1,697.6 402.6,697.6 403.1,697.6 403.6,697.6 404.1,697.6 404.6,697.6 405.1,697.7 405.6,697.7 406.1,697.7 406.6,697.7 407.1,697.7 407.6,697.7 408.1,697.7 408.6,697.7 409.1,697.7 409.6,697.7 410.1,697.7 410.6,697.8 411.1,697.8 411.6,697.8 412.1,697.8 412.6,697.8 413.1,697.8 413.6,697.8 414.1,697.8 414.6,697.8 415.1,697.9 415.6,697.9 416.1,697.9 416.6,697.9 417.1,697.9 417.6,697.9 418.1,697.9 418.6,697.9 419.1,698.0 419.6,698.0 420.1,698.0 420.6,698.0 421.1,698.0 421.6,698.0 422.1,698.0 422.6,698.0 423.1,698.1 423.6,698.1 424.1,698.1 424.6,698.1 425.1,698.1 425.6,698.1 426.1,698.2 426.6,698.2 427.1,698.2 427.6,698.2 428.1,698.2 428.6,698.2 429.1,698.3 429.6,698.3 430.1,698.3 430.6,698.3 431.1,698.3 431.6,698.3 432.1,698.4 432.6,698.4 433.1,698.4 433.6,698.4 434.1,698.4 434.6,698.5 435.1,698.5 435.6,698.5 436.1,698.5 436.6,698.6 437.1,698.6 437.6,698.6 438.1,698.6 438.6,698.6 439.1,698.7 439.6,698.7 440.1,698.7 440.6,698.8 441.1,698.8 441.6,698.8 442.1,698.8 442.6,698.9 443.1,698.9 443.6,698.9 444.1,699.0 444.6,699.0 445.1,699.0 445.6,699.1 446.1,699.1 446.6,699.1 447.1,699.2 447.6,699.2 448.1,699.3 448.6,699.3 449.1,699.3 449.6,699.4 450.1,699.4 450.6,699.5 451.1,699.6 451.6,699.6 452.1,699.7 452.6,699.7 453.1,699.8 453.6,699.9 454.1,700.0 454.6,700.1 455.1,700.2 455.6,700.3 456.1,700.4 456.6,700.5 457.1,700.7 457.6,700.9 458.1,701.0 458.6,701.2 459.1,701.4 459.6,701.7 460.1,702.0 460.6,702.2 461.1,702.6 461.6,702.9 462.1,703.3 462.6,703.8 463.1,704.2 463.6,704.8 464.1,705.3 464.6,706.0 465.1,706.6 465.6,707.4 466.1,708.2 466.6,709.0 467.1,709.9 467.6,710.9 468.1,712.0 468.6,713.1 469.1,714.2 469.6,715.5 470.1,716.8 470.6,718.2 471.1,719.6 471.6,721.1 472.1,722.6 472.6,724.2 473.1,725.8 473.6,727.5 474.1,729.2 474.6,730.9 475.1,732.7 475.6,734.5 476.1,736.4 476.6,738.4 477.1,740.4 477.6,742.6 478.1,744.8 478.6,747.2 479.1,749.8 479.6,752.4 480.1,755.1 480.6,757.9 481.1,761.0 481.6,764.2 482.1,767.7 482.6,771.3 483.1,774.9 483.6,778.6 484.1,782.1 484.6,785.4 485.1,788.4 485.6,790.9 486.1,792.9 486.6,794.2 487.1,794.9 487.6,794.8 488.1,794.1 488.6,792.7 489.1,790.7 489.6,788.3 490.1,785.4 490.6,782.3 491.1,778.9 491.6,775.4 492.1,771.7 492.6,767.8 493.1,762.7 493.6,757.4 494.1,752.2 494.6,747.3 495.1,742.8 495.6,738.7 496.1,734.9 496.6,731.6 497.1,728.7 497.6,726.1 498.1,723.9 498.6,721.9 499.1,720.2 499.6,718.6 500.1,717.3 500.6,716.1 501.1,715.0 501.6,714.0 502.1,713.2 502.6,712.4 503.1,711.6 503.6,711.0 504.1,710.4 504.6,709.8 505.1,709.3 505.6,708.8 506.1,708.4 506.6,708.0 507.1,707.6 507.6,707.3 508.1,706.9 508.6,706.6 509.1,706.3 509.6,706.1 510.1,705.8 510.6,705.6 511.1,705.4 511.6,705.2 512.1,705.0 512.6,704.8 513.1,704.6 513.6,704.5 514.1,704.3 514.6,704.2 515.1,704.1 515.6,704.0 516.1,703.9 516.6,703.8 517.1,703.7 517.6,703.6 518.1,703.5 518.6,703.4 519.1,703.4 519.6,703.3 520.1,703.3 520.6,703.2 521.1,703.2 521.6,703.2 522.1,703.1 522.6,703.1 523.1,703.1 523.6,703.1 524.1,703.1 524.6,703.1 525.1,703.1 525.6,703.1 526.1,703.1 526.6,703.2 527.1,703.2 527.6,703.2 528.1,703.3 528.6,703.3 529.1,703.4 529.6,703.5 530.1,703.5 530.6,703.6 531.1,703.7 531.6,703.8 532.1,703.9 532.6,704.0 533.1,704.1 533.6,704.2 534.1,704.3 534.6,704.4 535.1,704.5 535.6,704.6 536.1,704.7 536.6,704.9 537.1,705.0 537.6,705.1 538.1,705.2 538.6,705.3 539.1,705.4 539.6,705.5 540.1,705.6 540.6,705.7 541.1,705.7 541.6,705.8 542.1,705.8 542.6,705.9 543.1,705.9 543.6,705.8 544.1,705.8 544.6,705.8 545.1,705.7 545.6,705.6 546.1,705.5 546.6,705.4 547.1,705.3 547.6,705.2 548.1,705.0 548.6,704.9 549.1,704.7 549.6,704.6 550.1,704.4 550.6,704.2 551.1,704.1 551.6,703.9 552.1,703.7 552.6,703.6 553.1,703.4 553.6,703.2 554.1,703.1 554.6,702.9 555.1,702.8 555.6,702.6 556.1,702.5 556.6,702.3 557.1,702.2 557.6,702.1 558.1,702.0 558.6,701.8 559.1,701.7 559.6,701.6 560.1,701.5 560.6,701.4 561.1,701.3 561.6,701.2 562.1,701.1 562.6,701.0 563.1,700.9 563.6,700.8 564.1,700.8 564.6,700.7 565.1,700.6 565.6,700.5 566.1,700.5 566.6,700.4 567.1,700.3 567.6,700.3 568.1,700.2 568.6,700.2 569.1,700.1 569.6,700.1 570.1,700.0 570.6,700.0 571.1,699.9 571.6,699.9 572.1,699.8 572.6,699.8 573.1,699.8 573.6,699.7 574.1,699.7 574.6,699.7 575.1,699.6 575.6,699.6 576.1,699.6 576.6,699.5 577.1,699.5 577.6,699.5 578.1,699.5 578.6,699.4 579.1,699.4 579.6,699.4 580.1,699.4 580.6,699.3 581.1,699.3 581.6,699.3 582.1,699.3 582.6,699.3 583.1,699.2 583.6,699.2 584.1,699.2 584.6,699.2 585.1,699.2 585.6,699.1 586.1,699.1 586.6,699.1 587.1,699.1 587.6,699.1 588.1,699.1 588.6,699.1 589.1,699.1 589.6,699.0 590.1,699.0 590.6,699.0 591.1,699.0 591.6,699.0 592.1,699.0 592.6,699.0 593.1,699.0 593.6,699.0 594.1,699.0 594.6,699.0 595.1,698.9 595.6,698.9 596.1,698.9 596.6,698.9 597.1,698.9 597.6,698.9 598.1,698.9 598.6,698.9 599.1,698.9 599.6,698.9 600.1,698.9 600.6,698.9 601.1,698.9 601.6,698.9 602.1,698.9 602.6,698.9 603.1,698.9 603.6,698.9 604.1,698.9 604.6,698.9 605.1,698.9 605.6,698.9 606.1,698.9 606.6,698.9 607.1,698.9 607.6,698.9 608.1,698.9 608.6,698.9 609.1,698.9 609.6,698.9 610.1,698.9 610.6,698.9 611.1,698.9 611.6,698.9 612.1,698.9 612.6,698.9 613.1,698.9 613.6,698.9 614.1,698.9 614.6,698.9 615.1,698.9 615.6,698.9 616.1,698.9 616.6,698.9 617.1,698.9 617.6,698.9 618.1,698.9 618.6,698.9 619.1,698.9 619.6,698.9 620.1,698.9 620.6,698.9 621.1,698.9 621.6,698.9 622.1,699.0 622.6,699.0 623.1,699.0 623.6,699.0 624.1,699.0 624.6,699.0 625.1,699.0 625.6,699.0 626.1,699.0 626.6,699.0 627.1,699.0 627.6,699.1 628.1,699.1 628.6,699.1 629.1,699.1 629.6,699.1 630.1,699.1 630.6,699.1 631.1,699.2 631.6,699.2 632.1,699.2 632.6,699.2 633.1,699.2 633.6,699.2 634.1,699.3 634.6,699.3 635.1,699.3 635.6,699.3 636.1,699.4 636.6,699.4 637.1,699.4 637.6,699.4 638.1,699.5 638.6,699.5 639.1,699.5 639.6,699.6 640.1,699.6 640.6,699.7 641.1,699.7 641.6,699.7 642.1,699.8 642.6,699.8 643.1,699.9 643.6,700.0 644.1,700.0 644.6,700.1 645.1,700.2 645.6,700.3 646.1,700.4 646.6,700.5 647.1,700.6 647.6,700.8 648.1,700.9 648.6,701.1 649.1,701.3 649.6,701.5 650.1,701.8 650.6,702.1 651.1,702.5 651.6,702.9 652.1,703.3 652.6,703.8 653.1,704.4 653.6,705.0 654.1,705.6 654.6,706.4 655.1,707.2 655.6,708.0 656.1,709.0 656.6,709.9 657.1,711.0 657.6,712.1 658.1,713.2 658.6,714.3 659.1,715.4 659.6,716.5 660.1,717.5 660.6,718.5 661.1,719.4 661.6,720.1 662.1,720.7 662.6,721.0 663.1,721.1 663.6,721.1 664.1,720.7 664.6,720.2 665.1,719.6 665.6,718.7 666.1,717.8 666.6,716.8 667.1,715.7 667.6,714.6 668.1,713.5 668.6,712.5 669.1,711.4 669.6,710.4 670.1,709.4 670.6,708.5 671.1,707.7 671.6,706.9 672.1,706.2 672.6,705.6 673.1,705.0 673.6,704.5 674.1,704.0 674.6,703.6 675.1,703.2 675.6,702.9 676.1,702.6 676.6,702.4 677.1,702.2 677.6,702.0 678.1,701.9 678.6,701.7 679.1,701.6 679.6,701.5 680.1,701.5 680.6,701.4 681.1,701.4 681.6,701.3 682.1,701.3 682.6,701.3 683.1,701.3 683.6,701.3 684.1,701.3 684.6,701.3 685.1,701.3 685.6,701.3 686.1,701.4 686.6,701.4 687.1,701.4 687.6,701.5 688.1,701.5 688.6,701.6 689.1,701.7 689.6,701.7 690.1,701.8 690.6,701.9 691.1,702.1 691.6,702.2 692.1,702.4 692.6,702.6 693.1,702.8 693.6,703.0 694.1,703.3 694.6,703.7 695.1,704.1 695.6,704.5 696.1,705.1 696.6,705.7 697.1,706.3 697.6,707.1 698.1,707.9 698.6,708.7 699.1,709.6 699.6,710.6 700.1,711.5 700.6,712.4 701.1,713.3 701.6,714.1 702.1,714.8 702.6,715.3 703.1,715.7 703.6,715.8 704.1,715.8 704.6,715.6 705.1,715.3 705.6,715.0 706.1,714.6 706.6,714.2 707.1,713.8 707.6,713.6 708.1,713.4 708.6,713.2 709.1,713.2 709.6,713.3 710.1,713.4 710.6,713.7 711.1,714.0 711.6,714.5 712.1,715.0 712.6,715.5 713.1,716.1 713.6,716.7 714.1,717.3 714.6,717.9 715.1,718.4 715.6,718.8 716.1,719.1 716.6,719.4 717.1,719.4 717.6,719.4 718.1,719.1 718.6,718.8 719.1,718.3 719.6,717.8 720.1,717.1 720.6,716.4 721.1,715.7 721.6,714.9 722.1,714.2 722.6,713.4 723.1,712.7 723.6,712.0 724.1,711.3 724.6,710.7 725.1,710.1 725.6,709.5 726.1,709.0 726.6,708.5 727.1,708.0 727.6,707.6 728.1,707.2 728.6,706.8 729.1,706.5 729.6,706.2 730.1,705.9 730.6,705.7 731.1,705.4 731.6,705.2 732.1,705.0 732.6,704.8 733.1,704.7 733.6,704.5 734.1,704.4 734.6,704.3 735.1,704.2 735.6,704.1 736.1,704.1 736.6,704.0 737.1,704.0 737.6,703.9 738.1,703.9 738.6,703.9 739.1,703.9 739.6,703.9 740.1,704.0 740.6,704.0 741.1,704.0 741.6,704.1 742.1,704.2 742.6,704.3 743.1,704.4 743.6,704.5 744.1,704.6 744.6,704.7 745.1,704.9 745.6,705.0 746.1,705.1 746.6,705.2 747.1,705.3 747.6,705.4 748.1,705.5 748.6,705.6 749.1,705.6 749.6,705.6 750.1,705.6 750.6,705.6 751.1,705.5 751.6,705.4 752.1,705.3 752.6,705.2 753.1,705.1 753.6,705.0 754.1,704.9 754.6,704.8 755.1,704.7 755.6,704.6 756.1,704.5 756.6,704.5 757.1,704.4 757.6,704.4 758.1,704.4 758.6,704.4 759.1,704.4 759.6,704.4 760.1,704.5 760.6,704.6 761.1,704.6 761.6,704.8 762.1,704.9 762.6,705.0 763.1,705.2 763.6,705.3 764.1,705.5 764.6,705.7 765.1,705.9 765.6,706.2 766.1,706.4 766.6,706.7 767.1,706.9 767.6,707.2 768.1,707.5 768.6,707.7 769.1,708.0 769.6,708.3 770.1,708.5 770.6,708.7 771.1,708.9 771.6,709.1 772.1,709.2 772.6,709.4 773.1,709.4 773.6,709.4 774.1,709.4 774.6,709.4 775.1,709.3 775.6,709.2 776.1,709.0 776.6,708.9 777.1,708.7 777.6,708.5 778.1,708.3 778.6,708.2 779.1,708.0 779.6,707.8 780.1,707.6 780.6,707.5 781.1,707.4 781.6,707.3 782.1,707.2 782.6,707.1 783.1,707.0 783.6,707.0 784.1,707.0 784.6,707.0 785.1,707.0 785.6,707.1 786.1,707.2 786.6,707.3 787.1,707.4 787.6,707.6 788.1,707.8 788.6,708.1 789.1,708.3 789.6,708.6 790.1,709.0 790.6,709.3 791.1,709.7 791.6,710.2 792.1,710.6 792.6,711.1 793.1,711.6 793.6,712.2 794.1,712.7 794.6,713.3 795.1,713.9 795.6,714.6 796.1,715.2 796.6,715.9 797.1,716.7 797.6,717.5 798.1,718.4 798.6,719.4 799.1,720.6 799.6,721.8 800.1,723.1 800.6,724.5 801.1,726.0 801.6,727.5 802.1,729.0 802.6,730.5 803.1,731.8 803.6,733.0 804.1,734.0 804.6,734.8 805.1,735.5 805.6,735.9 806.1,736.3 806.6,736.4 807.1,736.6 807.6,736.6 808.1,736.7 808.6,736.8 809.1,737.0 809.6,737.2 810.1,737.6 810.6,738.0 811.1,738.5 811.6,739.1 812.1,739.8 812.6,740.6 813.1,741.3 813.6,742.2 814.1,743.0 814.6,743.9 815.1,744.9 815.6,745.9 816.1,747.0 816.6,748.1 817.1,749.4 817.6,750.8 818.1,752.4 818.6,754.1 819.1,756.0 819.6,758.0 820.1,760.2 820.6,762.6 821.1,765.0 821.6,767.4 822.1,769.6 822.6,771.7 823.1,773.3 823.6,774.3 824.1,774.3 824.6,772.9 825.1,770.4 825.6,767.1 826.1,763.4 826.6,759.3 827.1,755.1 827.6,750.9 828.1,746.8 828.6,742.9 829.1,739.3 829.6,735.8 830.1,732.7 830.6,729.8 831.1,727.2 831.6,724.9 832.1,722.8 832.6,721.0 833.1,719.4 833.6,718.0 834.1,716.8 834.6,715.8 835.1,715.0 835.6,714.3 836.1,713.7 836.6,713.2 837.1,712.9 837.6,712.6 838.1,712.4 838.6,712.3 839.1,712.3 839.6,712.4 840.1,712.5 840.6,712.7 841.1,712.9 841.6,713.3 842.1,713.7 842.6,714.2 843.1,714.8 843.6,715.5 844.1,716.3 844.6,717.3 845.1,718.3 845.6,719.5 846.1,720.8 846.6,722.3 847.1,723.9 847.6,725.6 848.1,727.5 848.6,729.6 849.1,731.7 849.6,734.0 850.1,736.4 850.6,738.9 851.1,741.4 851.6,743.9 852.1,746.4 852.6,748.7 853.1,750.7 853.6,752.4 854.1,753.5 854.6,753.8 855.1,753.4 855.6,752.4 856.1,751.1 856.6,749.6 857.1,748.0 857.6,746.4 858.1,744.8 858.6,743.2 859.1,741.8 859.6,740.5 860.1,739.4 860.6,738.4 861.1,737.7 861.6,737.1 862.1,736.8 862.6,736.6 863.1,736.7 863.6,736.9 864.1,737.4 864.6,738.0 865.1,738.8 865.6,739.7 866.1,740.8 866.6,742.0 867.1,743.3 867.6,744.8 868.1,746.3 868.6,747.9 869.1,749.5 869.6,751.1 870.1,752.8 870.6,754.5 871.1,756.1 871.6,757.8 872.1,759.4 872.6,761.0 873.1,762.6 873.6,764.3 874.1,766.0 874.6,767.7 875.1,769.5 875.6,771.3 876.1,773.2 876.6,775.2 877.1,777.3 877.6,779.3 878.1,781.5 878.6,783.6 879.1,785.6 879.6,787.6 880.1,789.4 880.6,791.1 881.1,792.5 881.6,793.7 882.1,794.5 882.6,795.0 883.1,795.0 883.6,794.7 884.1,793.9 884.6,792.7 885.1,791.2 885.6,789.3 886.1,787.1 886.6,784.7 887.1,782.0 887.6,779.2 888.1,776.3 888.6,773.4 889.1,770.4 889.6,767.5 890.1,764.7 890.6,761.9 891.1,759.3 891.6,756.8 892.1,754.4 892.6,752.3 893.1,750.3 893.6,748.5 894.1,747.0 894.6,745.7 895.1,744.7 895.6,743.9 896.1,743.3 896.6,743.0 897.1,743.0 897.6,743.2 898.1,743.7 898.6,744.4 899.1,745.3 899.6,746.4 900.1,747.6 900.6,748.9 901.1,750.2 901.6,751.6 902.1,752.9 902.6,754.2 903.1,755.3 903.6,756.3 904.1,757.0 904.6,757.5 905.1,757.7 905.6,757.7 906.1,757.4 906.6,756.8 907.1,756.0 907.6,754.9 908.1,753.7 908.6,752.3 909.1,750.7 909.6,749.2 910.1,747.5 910.6,745.9 911.1,744.3 911.6,742.8 912.1,741.3 912.6,740.0 913.1,738.7 913.6,737.6 914.1,736.5 914.6,735.5 915.1,734.6 915.6,733.7 916.1,732.8 916.6,731.9 917.1,731.1 917.6,730.2 918.1,729.3 918.6,728.3 919.1,727.4 919.6,726.4 920.1,725.5 920.6,724.5 921.1,723.6 921.6,722.6 922.1,721.7 922.6,720.8 923.1,719.9 923.6,719.0 924.1,718.2 924.6,717.5 925.1,716.7 925.6,716.0 926.1,715.3 926.6,714.7 927.1,714.1 927.6,713.5 928.1,712.9 928.6,712.4 929.1,711.9 929.6,711.5 930.1,711.0 930.6,710.6 931.1,710.2 931.6,709.9 932.1,709.5 932.6,709.2 933.1,708.9 933.6,708.6 934.1,708.3 934.6,708.1 935.1,707.8 935.6,707.6 936.1,707.4 936.6,707.2 937.1,707.0 937.6,706.8 938.1,706.6 938.6,706.4 939.1,706.3 939.6,706.1 940.1,706.0 940.6,705.8 941.1,705.7 941.6,705.6 942.1,705.5 942.6,705.4 943.1,705.2 943.6,705.2 944.1,705.1 944.6,705.0 945.1,704.9 945.6,704.8 946.1,704.8 946.6,704.7 947.1,704.7 947.6,704.7 948.1,704.6 948.6,704.6 949.1,704.6 949.6,704.6 950.1,704.6 950.6,704.6 951.1,704.7 951.6,704.7 952.1,704.8 952.6,704.9 953.1,704.9 953.6,705.1 954.1,705.2 954.6,705.3 955.1,705.4 955.6,705.6 956.1,705.7 956.6,705.8 957.1,705.8 957.6,705.8 958.1,705.8 958.6,705.7 959.1,705.6 959.6,705.4 960.1,705.2 960.6,705.0 961.1,704.8 961.6,704.6 962.1,704.4 962.6,704.2 963.1,704.0 963.6,703.9 964.1,703.8 964.6,703.7 965.1,703.6 965.6,703.5 966.1,703.5 966.6,703.4 967.1,703.4 967.6,703.4 968.1,703.5 968.6,703.5 969.1,703.5 969.6,703.6 970.1,703.7 970.6,703.8 971.1,703.9 971.6,704.0 972.1,704.1 972.6,704.3 973.1,704.4 973.6,704.5 974.1,704.7 974.6,704.8 975.1,704.9 975.6,705.0 976.1,705.1 976.6,705.2 977.1,705.2 977.6,705.3 978.1,705.3 978.6,705.3 979.1,705.3 979.6,705.2 980.1,705.2 980.6,705.1 981.1,705.0 981.6,704.8 982.1,704.7 982.6,704.5 983.1,704.3 983.6,704.2 984.1,704.0 984.6,703.8 985.1,703.6 985.6,703.4 986.1,703.2 986.6,703.0 987.1,702.9 987.6,702.7 988.1,702.5 988.6,702.4 989.1,702.2 989.6,702.1 990.1,702.0 990.6,701.9 991.1,701.8 991.6,701.7 992.1,701.7 992.6,701.6 993.1,701.6 993.6,701.5 994.1,701.5 994.6,701.5 995.1,701.6 995.6,701.6 996.1,701.7 996.6,701.8 997.1,702.0 997.6,702.2 998.1,702.4 998.6,702.7 999.1,703.0 999.6,703.4 1000.1,703.9 1000.6,704.4 1001.1,705.0 1001.6,705.6 1002.1,706.2 1002.6,706.9 1003.1,707.6 1003.6,708.3 1004.1,709.0 1004.6,709.7 1005.1,710.3 1005.6,710.9 1006.1,711.4 1006.6,711.7 1007.1,712.0 1007.6,712.1 1008.1,712.1 1008.6,712.0 1009.1,711.8 1009.6,711.4 1010.1,711.0 1010.6,710.4 1011.1,709.8 1011.6,709.2 1012.1,708.4 1012.6,707.7 1013.1,707.0 1013.6,706.3 1014.1,705.6 1014.6,705.0 1015.1,704.4 1015.6,703.8 1016.1,703.3 1016.6,702.9 1017.1,702.5 1017.6,702.2 1018.1,702.0 1018.6,701.7 1019.1,701.5 1019.6,701.4 1020.1,701.3 1020.6,701.2 1021.1,701.1 1021.6,701.0 1022.1,701.0 1022.6,701.0 1023.1,700.9 1023.6,700.9 1024.1,700.9 1024.6,700.9 1025.1,700.9 1025.6,700.9 1026.1,700.9 1026.6,700.9 1027.1,700.9 1027.6,700.9 1028.1,700.9 1028.6,700.9 1029.1,700.9 1029.6,700.9 1030.1,700.9 1030.6,700.9 1031.1,700.9 1031.6,700.9 1032.1,700.9 1032.6,700.9 1033.1,700.9 1033.6,700.9 1034.1,700.9 1034.6,700.9 1035.1,700.9 1035.6,700.9 1036.1,700.9 1036.6,700.9 1037.1,700.9 1037.6,700.9 1038.1,700.9 1038.6,700.9 1039.1,700.9 1039.6,700.9 1040.1,700.9 1040.6,700.9 1041.1,700.9 1041.6,700.9 1042.1,700.9 1042.6,700.9 1043.1,700.9 1043.6,700.9 1044.1,700.9 1044.6,700.9 1045.1,700.9 1045.6,700.9 1046.1,700.9 1046.6,700.9 1047.1,700.9 1047.6,700.9 1048.1,700.9 1048.6,700.9 1049.1,701.0 1049.6,701.0 1050.1,701.0 1050.6,701.0 1051.1,701.0 1051.6,701.0 1052.1,701.0 1052.6,701.0 1053.1,701.0 1053.6,701.0 1054.1,701.0 1054.6,701.0 1055.1,701.1 1055.6,701.1 1056.1,701.1 1056.6,701.1 1057.1,701.1 1057.6,701.1 1058.1,701.2 1058.6,701.2 1059.1,701.2 1059.6,701.3 1060.1,701.3 1060.6,701.4 1061.1,701.5 1061.6,701.5 1062.1,701.7 1062.6,701.8 1063.1,702.0 1063.6,702.2 1064.1,702.4 1064.6,702.7 1065.1,703.0 1065.6,703.3 1066.1,703.7 1066.6,704.2 1067.1,704.7 1067.6,705.2 1068.1,705.8 1068.6,706.5 1069.1,707.1 1069.6,707.8 1070.1,708.4 1070.6,709.1 1071.1,709.7 1071.6,710.3 1072.1,710.8 1072.6,711.3 1073.1,711.7 1073.6,712.0 1074.1,712.2 1074.6,712.2 1075.1,712.2 1075.6,712.1 1076.1,711.8 1076.6,711.5 1077.1,711.1 1077.6,710.7 1078.1,710.2 1078.6,709.7 1079.1,709.2 1079.6,708.7 1080.1,708.4 1080.6,708.0 1081.1,707.8 1081.6,707.7 1082.1,707.7 1082.6,707.8 1083.1,707.9 1083.6,708.1 1084.1,708.2 1084.6,708.3 1085.1,708.2 1085.6,708.1 1086.1,707.8 1086.6,707.5 1087.1,707.0 1087.6,706.6 1088.1,706.1 1088.6,705.6 1089.1,705.3 1089.6,704.9 1090.1,704.7 1090.6,704.5 1091.1,704.4 1091.6,704.4 1092.1,704.4 1092.6,704.5 1093.1,704.6 1093.6,704.7 1094.1,704.8 1094.6,704.9 1095.1,705.1 1095.6,705.2 1096.1,705.3 1096.6,705.5 1097.1,705.6 1097.6,705.8 1098.1,706.0 1098.6,706.1 1099.1,706.3 1099.6,706.5 1100.1,706.7 1100.6,706.9 1101.1,707.0 1101.6,707.2 1102.1,707.4 1102.6,707.6 1103.1,707.8 1103.6,708.0 1104.1,708.2 1104.6,708.3 1105.1,708.5 1105.6,708.7 1106.1,708.9 1106.6,709.0 1107.1,709.2 1107.6,709.4 1108.1,709.5 1108.6,709.6 1109.1,709.8 1109.6,709.9 1110.1,710.0 1110.6,710.0 1111.1,710.1 1111.6,710.2 1112.1,710.2 1112.6,710.2 1113.1,710.2 1113.6,710.2 1114.1,710.2 1114.6,710.1 1115.1,710.1 1115.6,710.0 1116.1,709.9 1116.6,709.8 1117.1,709.7 1117.6,709.5 1118.1,709.4 1118.6,709.2 1119.1,709.1 1119.6,708.9 1120.1,708.7 1120.6,708.6 1121.1,708.4 1121.6,708.2 1122.1,708.0 1122.6,707.8 1123.1,707.6 1123.6,707.4 1124.1,707.2 1124.6,707.0 1125.1,706.8 1125.6,706.6 1126.1,706.4 1126.6,706.3 1127.1,706.1 1127.6,705.9 1128.1,705.7 1128.6,705.5 1129.1,705.4 1129.6,705.2 1130.1,705.1 1130.6,704.9 1131.1,704.7 1131.6,704.6 1132.1,704.4 1132.6,704.3 1133.1,704.2 1133.6,704.0 1134.1,703.9 1134.6,703.8 1135.1,703.7 1135.6,703.6 1136.1,703.4 1136.6,703.3 1137.1,703.2 1137.6,703.1 1138.1,703.0 1138.6,702.9 1139.1,702.8 1139.6,702.7 1140.1,702.7 1140.6,702.6 1141.1,702.5 1141.6,702.4 1142.1,702.3 1142.6,702.3 1143.1,702.2 1143.6,702.1 1144.1,702.0 1144.6,702.0 1145.1,701.9 1145.6,701.8 1146.1,701.8 1146.6,701.7 1147.1,701.7 1147.6,701.6 1148.1,701.6 1148.6,701.5 1149.1,701.5 1149.6,701.4 1150.1,701.4 1150.6,701.3 1151.1,701.3 1151.6,701.2 1152.1,701.2 1152.6,701.1 1153.1,701.1 1153.6,701.1 1154.1,701.0 1154.6,701.0 1155.1,700.9 1155.6,700.9 1156.1,700.9 1156.6,700.8 1157.1,700.8 1157.6,700.8 1158.1,700.7 1158.6,700.7 1159.1,700.7 1159.6,700.7 1160.1,700.6 1160.6,700.6 1161.1,700.6 1161.6,700.5 1162.1,700.5 1162.6,700.5 1163.1,700.5 1163.6,700.4 1164.1,700.4 1164.6,700.4 1165.1,700.4 1165.6,700.3 1166.1,700.3 1166.6,700.3 1167.1,700.3"/>
<path d="M218.5,700.0 219.0,700.0 219.5,699.9 220.0,699.9 220.5,699.9 221.0,699.9 221.5,699.8 222.0,699.8 222.5,699.8 223.0,699.8 223.5,699.8 224.0,699.7 224.5,699.7 225.0,699.7 225.5,699.7 226.0,699.6 226.5,699.6 227.0,699.6 227.5,699.6 228.0,699.6 228.5,699.6 229.0,699.5 229.5,699.5 230.0,699.5 230.5,699.5 231.0,699.5 231.5,699.5 232.0,699.4 232.5,699.4 233.0,699.4 233.5,699.4 234.0,699.4 234.5,699.4 235.0,699.4 235.5,699.4 236.0,699.3 236.5,699.3 237.0,699.3 237.5,699.3 238.0,699.3 238.5,699.3 239.0,699.3 239.5,699.3 240.0,699.2 240.5,699.2 241.0,699.2 241.5,699.2 242.0,699.2 242.5,699.2 243.0,699.2 243.5,699.2 244.0,699.1 244.5,699.1 245.0,699.1 245.5,699.1 246.0,699.1 246.5,699.1 247.0,699.1 247.5,699.1 248.0,699.1 248.5,699.0 249.0,699.0 249.5,699.0 250.0,699.0 250.5,699.0 251.0,699.0 251.5,699.0 252.0,699.0 252.5,699.0 253.0,699.1 253.5,699.2 254.0,699.5 254.5,699.9 255.0,700.2 255.5,700.6 256.0,701.0 256.5,701.5 257.0,702.1 257.5,702.8 258.0,703.5 258.5,704.2 259.0,704.7 259.5,705.1 260.0,705.2 260.5,705.1 261.0,704.7 261.5,704.2 262.0,703.6 262.5,703.0 263.0,702.5 263.5,702.1 264.0,702.0 264.5,702.1 265.0,702.2 265.5,702.4 266.0,702.7 266.5,703.0 267.0,703.3 267.5,703.7 268.0,704.0 268.5,704.4 269.0,704.8 269.5,705.3 270.0,705.9 270.5,706.4 271.0,706.8 271.5,707.1 272.0,707.2 272.5,707.3 273.0,707.4 273.5,707.4 274.0,707.5 274.5,707.5 275.0,707.5 275.5,707.3 276.0,706.8 276.5,706.1 277.0,705.3 277.5,704.6 278.0,704.0 278.5,703.5 279.0,703.1 279.5,702.6 280.0,702.2 280.5,701.9 281.0,701.8 281.5,701.7 282.0,701.6 282.5,701.5 283.0,701.4 283.5,701.3 284.0,701.3 284.5,701.2 285.0,701.2 285.5,701.1 286.0,701.1 286.5,701.1 287.0,701.1 287.5,701.2 288.0,701.6 288.5,702.0 289.0,702.5 289.5,702.9 290.0,703.0 290.5,702.8 291.0,702.2 291.5,701.4 292.0,700.6 292.5,699.9 293.0,699.5 293.5,699.3 294.0,699.2 294.5,699.0 295.0,698.9 295.5,698.8 296.0,698.7 296.5,698.6 297.0,698.5 297.5,698.4 298.0,698.4 298.5,698.3 299.0,698.3 299.5,698.3 300.0,698.2 300.5,698.3 301.0,698.3 301.5,698.3 302.0,698.3 302.5,698.3 303.0,698.3 303.5,698.3 304.0,698.3 304.5,698.4 305.0,698.4 305.5,698.4 306.0,698.4 306.5,698.4 307.0,698.4 307.5,698.5 308.0,698.5 308.5,698.5 309.0,698.5 309.5,698.5 310.0,698.5 310.5,698.5 311.0,698.5 311.5,698.5 312.0,698.5 312.5,698.5 313.0,698.4 313.5,698.4 314.0,698.4 314.5,698.3 315.0,698.3 315.5,698.3 316.0,698.2 316.5,698.2 317.0,698.2 317.5,698.1 318.0,698.1 318.5,698.0 319.0,698.0 319.5,697.9 320.0,697.9 320.5,697.8"/>
</g>

</svg>
</body></html>
